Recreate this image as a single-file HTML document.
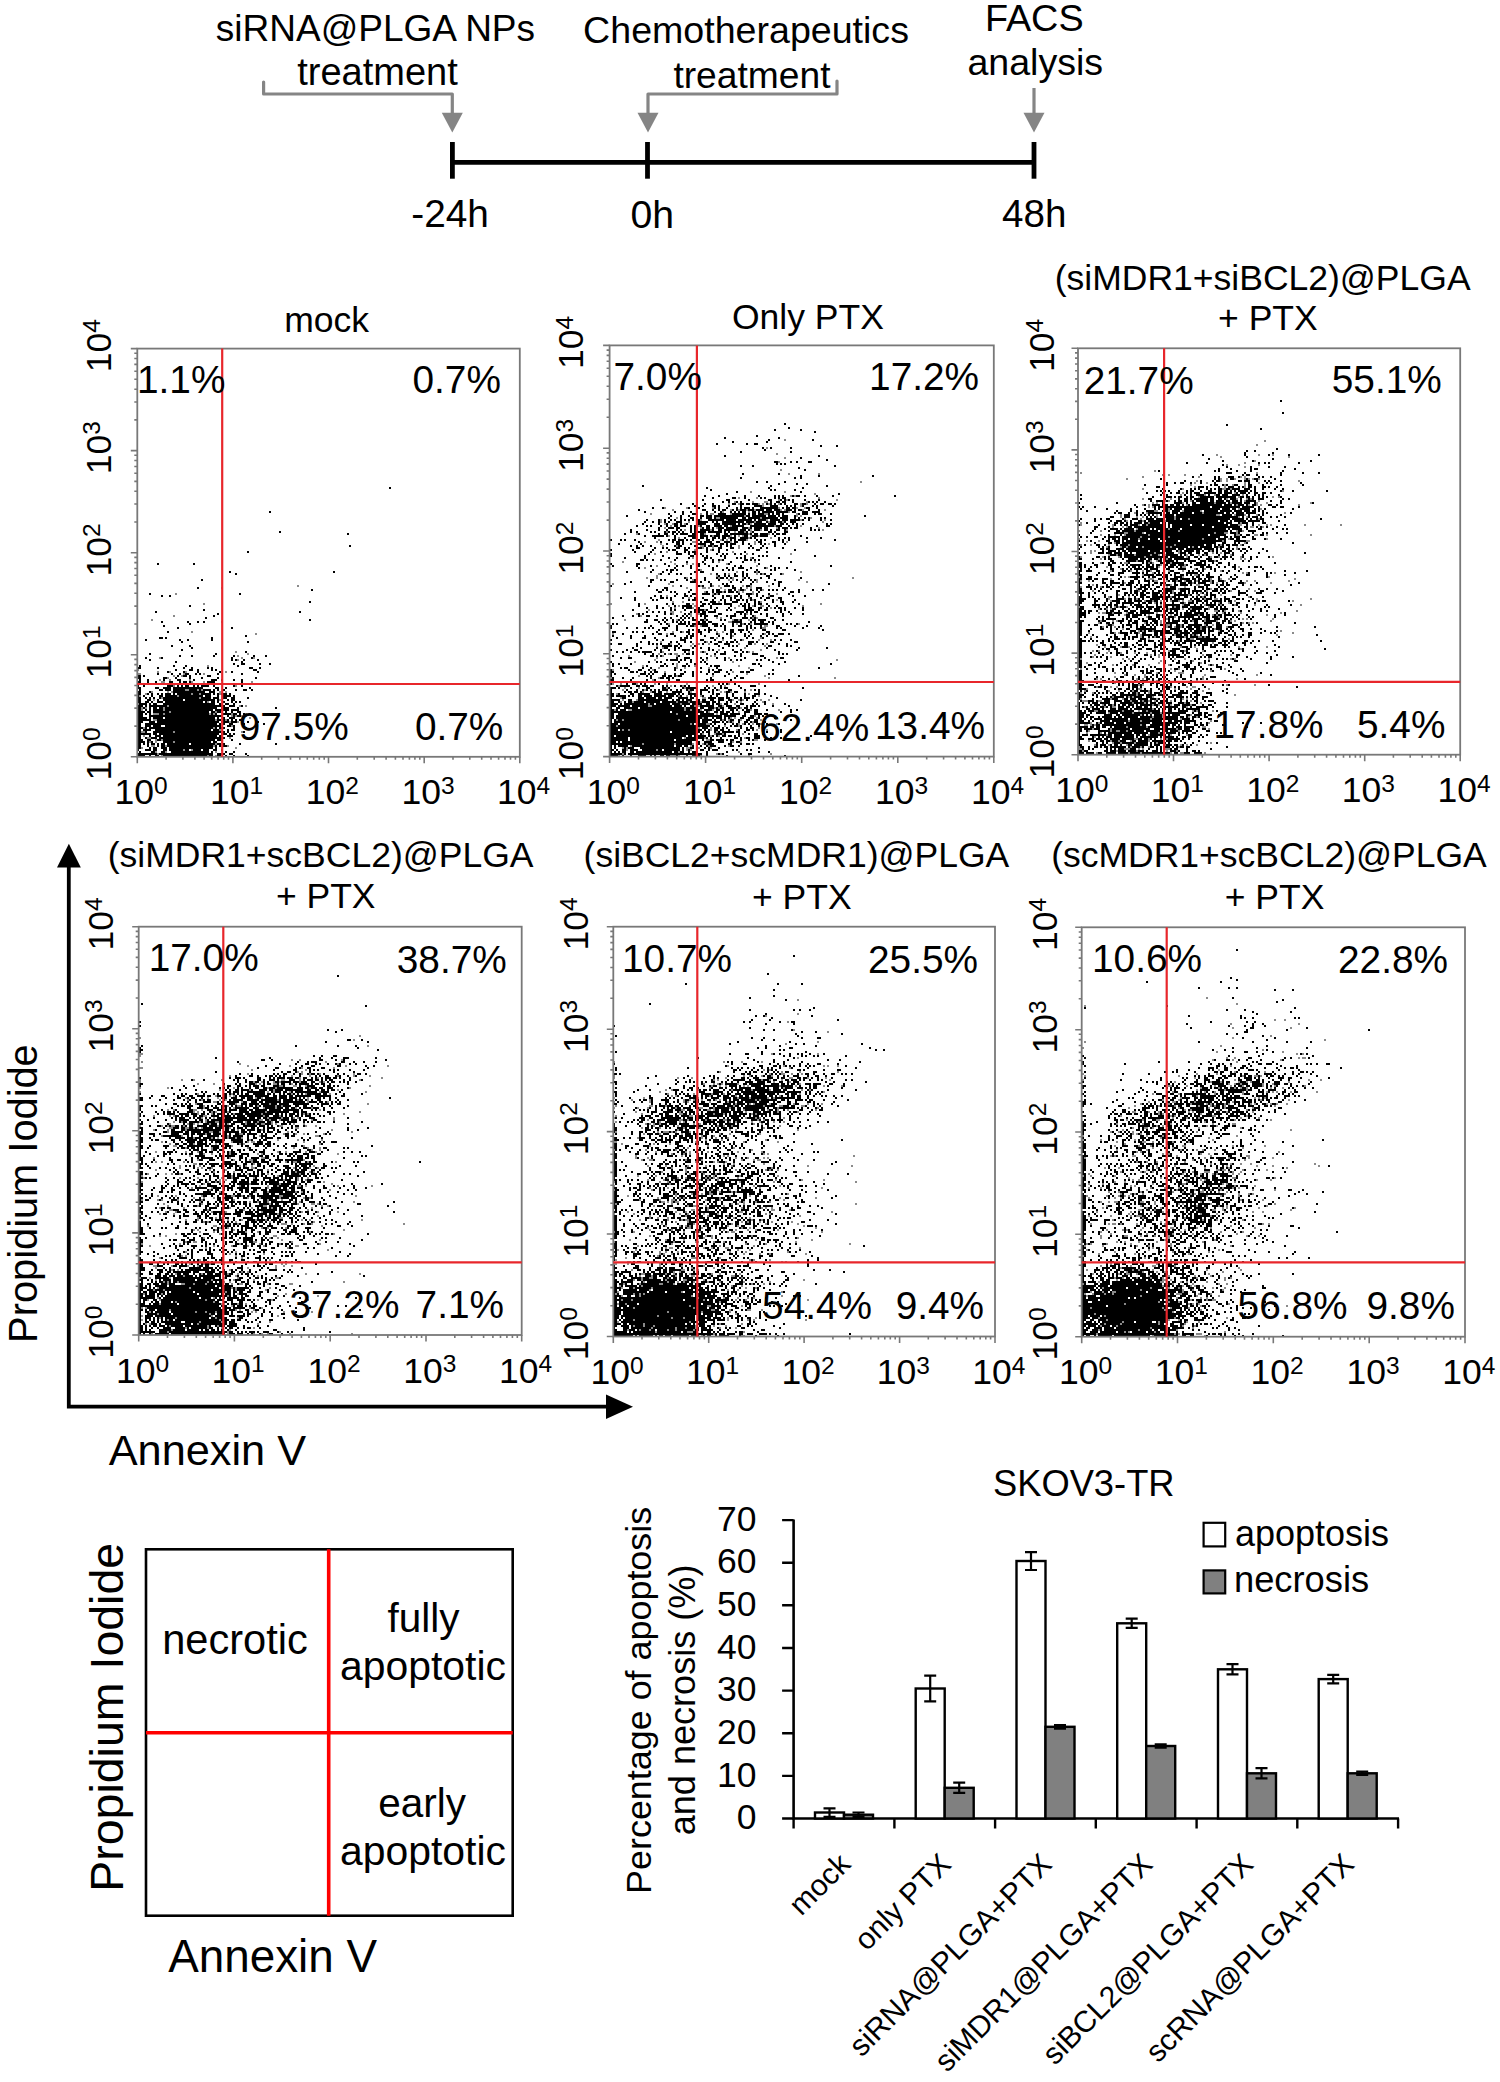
<!DOCTYPE html>
<html><head><meta charset="utf-8"><style>
html,body{margin:0;padding:0;background:#fff;}
svg{display:block;font-family:"Liberation Sans", sans-serif;}
</style></head><body>
<svg width="1500" height="2082" viewBox="0 0 1500 2082">
<text x="215.8" y="40.8" font-size="37" fill="#000">siRNA@PLGA NPs</text>
<text x="297.2" y="85.4" font-size="38" fill="#000">treatment</text>
<text x="583.1" y="43.2" font-size="37.6" fill="#000">Chemotherapeutics</text>
<text x="673.4" y="88.0" font-size="37.2" fill="#000">treatment</text>
<text x="984.9" y="31.0" font-size="37.8" fill="#000">FACS</text>
<text x="967.4" y="74.5" font-size="37.6" fill="#000">analysis</text>
<path d="M263.6 82V94H452.3V114" fill="none" stroke="#858585" stroke-width="3.2" stroke-linecap="round" stroke-linejoin="round"/>
<path d="M837 81V94H648V114" fill="none" stroke="#858585" stroke-width="3.2" stroke-linecap="round" stroke-linejoin="round"/>
<path d="M1034 88V114" fill="none" stroke="#858585" stroke-width="3.2"/>
<path d="M441.8 112.8H462.8L452.3 132.5Z" fill="#858585"/>
<path d="M637.5 112.8H658.5L648 132.5Z" fill="#858585"/>
<path d="M1023.5 112.8H1044.5L1034 132.5Z" fill="#858585"/>
<line x1="452.4" y1="162.4" x2="1034" y2="162.4" stroke="#000" stroke-width="4.6"/>
<line x1="452.4" y1="142" x2="452.4" y2="178.7" stroke="#000" stroke-width="4.8"/>
<line x1="647.5" y1="142" x2="647.5" y2="178.7" stroke="#000" stroke-width="4.8"/>
<line x1="1034" y1="142" x2="1034" y2="178.7" stroke="#000" stroke-width="4.8"/>
<text x="411.3" y="226.8" font-size="38.8" fill="#000">-24h</text>
<text x="630.5" y="227.6" font-size="39.2" fill="#000">0h</text>
<text x="1002.1" y="227.2" font-size="38.6" fill="#000">48h</text>
<g transform="translate(137,350) scale(2)" fill="none" stroke-width="1" shape-rendering="crispEdges"><path stroke="#8a8a8a" d="M80 118h1M42 119h1M19 122h1M33 127h1M18 133h1M7 135h1M42 136h1M27 141h1M59 142h1M49 151h1M55 152h1M50 153h1M11 154h1m40 0h1m5 0h1M50 155h1M35 158h1M0 160h1M10 161h1m5 0h1m7 0h1m19 0h1M0 162h2m21 0h1m9 0h1M18 163h1m3 0h1M15 164h1M11 165h1m4 0h1m9 0h1M12 166h2m13 0h1m5 0h1m23 0h1M18 167h1m7 0h1M18 168h1m30 0h1M24 170h2m4 0h1m1 0h1M7 171h1m7 0h1m1 0h1m23 0h1m2 0h1M4 172h1m22 0h1m3 0h1m9 0h1M1 173h1m18 0h1M12 174h1m18 0h1M8 175h1m32 0h1M35 176h1M0 177h1m41 0h1M15 178h1m35 0h1m2 0h1M2 179h1m1 0h1m8 0h1M2 180h1m10 0h1M16 181h1m22 0h1M8 182h3m2 0h1m22 0h1m1 0h1m8 0h1m6 0h1m1 0h1M47 183h1m1 0h1m2 0h1m1 0h1M56 184h1M8 185h2m29 0h1m4 0h1M46 186h1m3 0h1M47 188h1M3 189h1m34 0h1M41 190h1M2 191h2m14 0h1m23 0h1m9 0h1M3 193h1m49 0h1M5 194h2m39 0h1M9 195h1m2 0h1M6 196h1m2 0h1m8 0h1m23 0h1M39 197h1M7 198h2m5 0h1m23 0h1m6 0h1M2 199h1m46 0h1M23 200h1m3 0h1M9 201h1m4 0h1m24 0h1M10 202h1M12 203h1m22 0h1m3 0h1"/><path stroke="#000" d="M126 69h1M66 81h1M71 91h1M105 92h1M106 98h1M55 101h1M10 107h1m17 0h1M46 111h1m51 0h1M49 112h1M32 115h1M30 119h1M87 120h1M6 122h1m44 0h1M12 123h1m3 0h1M86 126h1M26 128h1M33 130h1M9 131h1m71 0h1M40 132h1M38 133h1M34 134h1M86 135h1M12 136h1m12 0h1m4 0h1m2 0h1M26 137h1M13 138h1M20 139h1m26 0h1M15 141h1M54 143h1M11 144h2m1 0h1m22 0h1M4 145h1m16 0h1m3 0h1m11 0h1M22 146h1m32 0h1M17 148h1m8 0h1M27 149h1M22 150h1M54 151h1M6 152h1m32 0h1M21 153h1m5 0h1m10 0h1m9 0h1m9 0h1m5 0h1M4 154h1m7 0h1m34 0h1m9 0h1M6 155h1m40 0h1m1 0h1m3 0h1m6 0h1M19 156h1m32 0h1M48 157h1m3 0h2m7 0h1m4 0h1M1 158h1m16 0h1m5 0h1m25 0h1M0 159h2m8 0h1m12 0h1m3 0h1m7 0h1m1 0h1m18 0h2m3 0h1M19 160h1m6 0h2m2 0h1m6 0h1m1 0h1m18 0h2M15 161h1m7 0h1m6 0h1m10 0h1m5 0h1m12 0h1M10 162h1m6 0h1m3 0h1m2 0h2m3 0h1m1 0h1m8 0h1m11 0h1M0 163h2m1 0h1m16 0h1m2 0h2m1 0h1m8 0h2M0 164h2m11 0h2m4 0h1m6 0h1m5 0h1m7 0h1m18 0h1M1 165h1m3 0h1m7 0h1m6 0h2m6 0h1m8 0h3m2 0h1m5 0h1m3 0h1M0 166h2m3 0h1m3 0h1m6 0h2m3 0h1m1 0h2m1 0h1m8 0h4m13 0h1M10 167h1m1 0h1m1 0h1m1 0h1m2 0h2m1 0h3m3 0h1m4 0h1m4 0h1m5 0h4m6 0h1M0 168h1m2 0h1m11 0h3m2 0h1m1 0h1m1 0h2m2 0h1m1 0h1m1 0h4m2 0h1m9 0h1m3 0h1M0 169h2m7 0h2m2 0h4m1 0h15m6 0h2m3 0h1m11 0h1M1 170h1m9 0h2m1 0h3m1 0h6m2 0h4m1 0h1m1 0h4m1 0h1m1 0h1m2 0h1m5 0h1m3 0h2m2 0h1M0 171h2m4 0h1m11 0h16m2 0h3M0 172h2m3 0h1m1 0h1m2 0h1m1 0h1m1 0h3m1 0h1m1 0h7m1 0h3m1 0h5m1 0h1m1 0h1m1 0h3m1 0h1M0 173h1m2 0h1m3 0h1m3 0h2m1 0h6m1 0h12m1 0h3m3 0h1m2 0h4m1 0h1M0 174h2m2 0h1m1 0h1m1 0h1m2 0h1m1 0h18m1 0h5m1 0h3m2 0h2m2 0h2m6 0h1M0 175h2m3 0h2m3 0h1m2 0h10m1 0h15m1 0h1m4 0h1m1 0h2M0 176h2m2 0h2m1 0h1m2 0h3m1 0h19m1 0h1m2 0h2m1 0h1m2 0h1m3 0h1m1 0h1m1 0h1M1 177h4m1 0h1m1 0h2m3 0h26m2 0h1m2 0h2m2 0h1M0 178h3m1 0h1m1 0h9m1 0h28m2 0h3m3 0h1M0 179h2m1 0h1m2 0h1m1 0h2m1 0h2m1 0h26m2 0h4m4 0h1m18 0h1M0 180h2m2 0h1m1 0h1m1 0h5m1 0h24m1 0h7m1 0h4M0 181h4m1 0h2m1 0h8m1 0h19m1 0h2m1 0h2m2 0h1m2 0h1m2 0h2M0 182h3m1 0h1m1 0h1m4 0h2m1 0h22m1 0h1m1 0h1m3 0h4m1 0h2m1 0h1m1 0h1M0 183h3m3 0h37m2 0h1m2 0h1m1 0h2M0 184h5m1 0h1m1 0h5m1 0h25m1 0h1m2 0h1m2 0h3M0 185h7m3 0h29m1 0h2m1 0h1m1 0h1m1 0h1m1 0h1m1 0h1M0 186h3m3 0h3m1 0h31m1 0h4m1 0h3m5 0h1m4 0h1M0 187h2m2 0h36m1 0h1m1 0h1m2 0h2m5 0h1m9 0h1M0 188h2m2 0h3m1 0h4m2 0h28m3 0h2m1 0h1M0 189h3m1 0h1m1 0h32m1 0h1m1 0h3m4 0h1m5 0h1M0 190h2m1 0h4m2 0h28m1 0h3m4 0h1m1 0h2M0 191h2m2 0h1m3 0h10m1 0h23m1 0h1m1 0h1m7 0h1M0 192h7m1 0h2m1 0h30m1 0h3m1 0h1m1 0h1M0 193h2m4 0h1m2 0h3m1 0h27m1 0h2m2 0h3M0 194h2m2 0h1m2 0h3m1 0h33M0 195h3m2 0h2m3 0h2m1 0h26m1 0h3m4 0h1M0 196h4m1 0h1m1 0h1m5 0h5m1 0h18m1 0h2M0 197h2m1 0h1m1 0h1m1 0h2m1 0h1m1 0h2m1 0h11m1 0h12m1 0h2m1 0h1m7 0h1m17 0h1M0 198h2m3 0h1m4 0h1m1 0h2m1 0h23m1 0h1m1 0h1m1 0h2M0 199h2m4 0h1m1 0h2m2 0h3m1 0h22m1 0h1M0 200h1m3 0h3m1 0h2m3 0h2m1 0h7m1 0h2m2 0h4m1 0h3m2 0h2m2 0h1M1 201h1m5 0h2m3 0h2m3 0h19m1 0h1m6 0h1m3 0h1M0 202h10m1 0h27m2 0h4m2 0h2m6 0h1M0 203h4m2 0h1m2 0h2m2 0h22m1 0h2m2 0h2m2 0h1m3 0h1m6 0h1"/></g>
<rect x="137.3" y="348.6" width="382.5" height="408.2" fill="none" stroke="#787878" stroke-width="1.8"/>
<path d="M137.3 756.8v6.5M137.3 756.8h-6.5M166.1 756.8v3M137.3 726.1h-3M182.9 756.8v3M137.3 708.1h-3M194.9 756.8v3M137.3 695.4h-3M204.1 756.8v3M137.3 685.5h-3M211.7 756.8v3M137.3 677.4h-3M218.1 756.8v3M137.3 670.6h-3M223.7 756.8v3M137.3 664.6h-3M228.5 756.8v3M137.3 659.4h-3M232.9 756.8v6.5M137.3 654.8h-6.5M261.7 756.8v3M137.3 624.0h-3M278.5 756.8v3M137.3 606.1h-3M290.5 756.8v3M137.3 593.3h-3M299.8 756.8v3M137.3 583.4h-3M307.3 756.8v3M137.3 575.3h-3M313.7 756.8v3M137.3 568.5h-3M319.3 756.8v3M137.3 562.6h-3M324.2 756.8v3M137.3 557.4h-3M328.5 756.8v6.5M137.3 552.7h-6.5M357.3 756.8v3M137.3 522.0h-3M374.2 756.8v3M137.3 504.0h-3M386.1 756.8v3M137.3 491.3h-3M395.4 756.8v3M137.3 481.4h-3M403.0 756.8v3M137.3 473.3h-3M409.4 756.8v3M137.3 466.5h-3M414.9 756.8v3M137.3 460.5h-3M419.8 756.8v3M137.3 455.3h-3M424.2 756.8v6.5M137.3 450.6h-6.5M453.0 756.8v3M137.3 419.9h-3M469.8 756.8v3M137.3 402.0h-3M481.7 756.8v3M137.3 389.2h-3M491.0 756.8v3M137.3 379.3h-3M498.6 756.8v3M137.3 371.2h-3M505.0 756.8v3M137.3 364.4h-3M510.5 756.8v3M137.3 358.5h-3M515.4 756.8v3M137.3 353.3h-3M519.8 756.8v6.5M137.3 348.6h-6.5" stroke="#787878" stroke-width="1.6" fill="none"/>
<line x1="222.2" y1="348.6" x2="222.2" y2="756.8" stroke="#e8262b" stroke-width="2.2"/>
<line x1="137.3" y1="684.0" x2="519.8" y2="684.0" stroke="#e8262b" stroke-width="2.2"/>
<text x="114.5" y="804.3" font-size="35.5">10<tspan font-size="24.5" dy="-10.4">0</tspan></text>
<text transform="translate(110.8,780.5) rotate(-90)" font-size="35.5">10<tspan font-size="24.5" dy="-10.6">0</tspan></text>
<text x="210.1" y="804.3" font-size="35.5">10<tspan font-size="24.5" dy="-10.4">1</tspan></text>
<text transform="translate(110.8,678.4) rotate(-90)" font-size="35.5">10<tspan font-size="24.5" dy="-10.6">1</tspan></text>
<text x="305.8" y="804.3" font-size="35.5">10<tspan font-size="24.5" dy="-10.4">2</tspan></text>
<text transform="translate(110.8,576.4) rotate(-90)" font-size="35.5">10<tspan font-size="24.5" dy="-10.6">2</tspan></text>
<text x="401.4" y="804.3" font-size="35.5">10<tspan font-size="24.5" dy="-10.4">3</tspan></text>
<text transform="translate(110.8,474.3) rotate(-90)" font-size="35.5">10<tspan font-size="24.5" dy="-10.6">3</tspan></text>
<text x="497.0" y="804.3" font-size="35.5">10<tspan font-size="24.5" dy="-10.4">4</tspan></text>
<text transform="translate(110.8,372.3) rotate(-90)" font-size="35.5">10<tspan font-size="24.5" dy="-10.6">4</tspan></text>
<text x="284.3" y="331.6" font-size="35.5" fill="#000">mock</text>
<text x="137.0" y="393.3" font-size="38.8" fill="#000">1.1%</text>
<text x="412.5" y="393.0" font-size="38.8" fill="#000">0.7%</text>
<text x="238.8" y="739.6" font-size="38.8" fill="#000">97.5%</text>
<text x="414.9" y="739.6" font-size="38.8" fill="#000">0.7%</text>
<g transform="translate(610,346) scale(2)" fill="none" stroke-width="1" shape-rendering="crispEdges"><path stroke="#8a8a8a" d="M87 47h1M78 51h1M83 54h1M87 56h1M84 58h1M85 62h1M89 64h1m14 0h1M125 68h1M70 73h1m16 0h1M102 74h1M90 75h1m1 0h1M64 76h1m8 0h1m30 0h1M84 77h1m3 0h1m24 0h1M62 78h1m8 0h1m5 0h2m19 0h1M59 79h1m4 0h1m9 0h1m1 0h1m2 0h1m4 0h1m10 0h1m2 0h1M76 80h1m18 0h1M27 81h1m10 0h1m12 0h1m32 0h1m8 0h1m3 0h1M31 82h1m28 0h1m3 0h1m3 0h1m3 0h1m12 0h1m1 0h1m8 0h1m10 0h1M56 83h1m12 0h1m19 0h1M20 84h1m24 0h1m4 0h2m8 0h1m16 0h2m14 0h1M67 85h1m25 0h1m1 0h1M33 86h1m19 0h2m20 0h1m24 0h1M25 87h1m19 0h1m32 0h1m16 0h1m11 0h1M25 88h1m13 0h1m32 0h1m6 0h1m6 0h1m19 0h1M27 89h1m3 0h1m5 0h1m30 0h1m1 0h1M30 90h1m13 0h1m15 0h1m21 0h1m12 0h1M27 91h1m17 0h1m7 0h1m15 0h1m13 0h1m20 0h1M37 92h1m12 0h1m19 0h1m4 0h1m12 0h1m17 0h1M28 93h1m33 0h1m4 0h1m2 0h1M13 94h1m33 0h1m21 0h1m9 0h1M29 95h1m21 0h1m8 0h1m3 0h1m1 0h1m3 0h1m3 0h1M34 96h1m24 0h1m9 0h1m10 0h1M24 97h1m30 0h1m2 0h1m9 0h1M17 98h1m5 0h1m17 0h2m17 0h1m11 0h1m15 0h1M25 99h1m46 0h1m6 0h1M26 100h1m6 0h1m11 0h2m4 0h1m12 0h1M46 101h1m4 0h1m12 0h1M42 102h1m7 0h1M28 103h1m32 0h1M22 104h1m45 0h1m21 0h1M41 106h1m28 0h1M55 107h1M6 108h1m23 0h1m23 0h1m17 0h1M32 109h1m5 0h1m2 0h1m16 0h1M23 110h1m49 0h1M17 111h1m60 0h1M45 112h1M63 113h1m9 0h1m21 0h1M24 114h1m25 0h1m8 0h1m13 0h1m2 0h1m9 0h1M23 115h1m29 0h1M18 116h1m4 0h1m14 0h1m15 0h1m6 0h1m4 0h1m54 0h1M41 117h1m17 0h1m1 0h1m11 0h1m20 0h1M73 118h1m24 0h1M1 119h1m27 0h1M31 120h1m13 0h1m5 0h1m2 0h1m11 0h1m3 0h1m8 0h1M38 121h1m7 0h2m1 0h1m5 0h1m12 0h1m1 0h1M57 122h1m6 0h1m2 0h1m8 0h1M43 123h1m3 0h1m8 0h1m7 0h1m1 0h1m4 0h1M51 124h1m1 0h1m17 0h1m11 0h1M28 125h1m31 0h1m18 0h1M39 126h1m29 0h1M71 127h1m11 0h1M31 128h1m4 0h1m17 0h1m20 0h1M0 129h1m16 0h1m23 0h1m63 0h1M29 130h1m4 0h1m7 0h2m20 0h1m6 0h1m3 0h2m19 0h1M32 131h1m8 0h1m20 0h1m17 0h1M19 132h1m27 0h1M30 133h2m3 0h1M13 134h1m17 0h1m8 0h1m3 0h1m23 0h1M15 135h1m24 0h1m31 0h1M53 136h1m1 0h1m15 0h1m1 0h1M7 137h1m25 0h1m13 0h1m13 0h1m2 0h1m4 0h1M59 138h2M29 139h1m33 0h1m2 0h1m3 0h1m23 0h1M42 140h1m2 0h1m31 0h2M76 141h2M43 142h1m27 0h1M31 143h1m4 0h1m16 0h1m2 0h1M1 144h1m26 0h1m25 0h1m22 0h1M61 145h1M53 146h1m21 0h1M56 147h1m9 0h1m7 0h1m5 0h1M25 148h1m22 0h1M30 149h1m10 0h1m2 0h1m4 0h1m14 0h1m7 0h1m5 0h1M23 150h1m16 0h1m36 0h1M26 151h1m40 0h1M54 152h1m20 0h1M26 153h1m12 0h1m5 0h1m1 0h1m21 0h1m1 0h1M24 154h1m4 0h1m2 0h2m2 0h1M9 155h1m16 0h1m6 0h1m16 0h1m1 0h1M23 156h1m35 0h1m23 0h1M22 157h1m25 0h1m64 0h1M12 158h1m48 0h1M33 159h1M16 160h1m16 0h1m8 0h1m21 0h1M24 161h1m8 0h1m3 0h1m11 0h1m19 0h1M1 162h1m19 0h1M27 163h1m33 0h1M68 164h1M14 165h1m18 0h1m17 0h1m25 0h1M0 166h1m23 0h1m54 0h1m32 0h1M21 167h1M29 168h1m72 0h1m17 0h1M1 169h1m3 0h1m7 0h1m8 0h1m5 0h1m9 0h1m20 0h1m14 0h1M4 170h1m25 0h1m5 0h1m14 0h1m5 0h1M7 171h1m6 0h1m13 0h1m8 0h1M6 172h1m10 0h1m21 0h1m14 0h1m15 0h1M16 173h1m3 0h1m7 0h1m11 0h1m2 0h1m11 0h1m1 0h1m2 0h1m6 0h1M3 174h1m65 0h1M34 175h1m3 0h1m6 0h1m28 0h1M5 176h1m40 0h2M6 177h1m6 0h1m47 0h1m2 0h1m1 0h1m8 0h1m3 0h1M5 178h1m5 0h1m21 0h1m5 0h1m5 0h1m19 0h1m10 0h1M19 179h1m15 0h1m19 0h1m6 0h1m18 0h1M19 180h2m21 0h1m1 0h1m11 0h1M37 181h1m14 0h1m1 0h1m8 0h1m1 0h1M2 182h1m6 0h2m26 0h1m2 0h1m4 0h1m5 0h1m18 0h1m13 0h1M49 183h1m14 0h1M33 184h1m19 0h1M72 185h1M46 186h1m13 0h1m1 0h1m10 0h1M3 187h1m2 0h1m27 0h1m21 0h1m2 0h1m5 0h1m9 0h1M43 188h1m15 0h1m1 0h1m9 0h1M40 189h1m7 0h2m14 0h1m1 0h1m4 0h1m3 0h1m7 0h1M3 190h1m53 0h1m6 0h1M44 191h1m5 0h1m23 0h1M6 192h1m2 0h1m40 0h1m12 0h1m9 0h1m4 0h1M53 193h1M46 194h1m5 0h1m3 0h1m9 0h1M50 195h1m3 0h1M37 196h1m9 0h1m19 0h1M48 197h2m22 0h2M61 198h1m3 0h1M16 199h1m15 0h1m8 0h1m4 0h1m1 0h1M10 200h1m29 0h1m8 0h1m9 0h1M6 201h1m1 0h1m29 0h2m4 0h1m5 0h1M8 202h1m14 0h1m14 0h1m1 0h1M34 203h1m29 0h1M6 204h1m46 0h1m1 0h1m24 0h1M4 205h1m25 0h3m1 0h1m10 0h1m23 0h1"/><path stroke="#000" d="M87 39h1M89 41h1M82 42h1m12 0h1M102 43h1M73 45h1M57 46h1m26 0h1M79 47h1m21 0h1M61 48h1m16 0h1M53 49h1m14 0h1m3 0h2M105 50h1m7 0h1M76 51h1m3 0h1m9 0h1M77 52h1M65 53h1m24 0h1M57 55h1m46 0h1M95 56h1M108 57h1M82 58h2m6 0h1m2 0h1m5 0h2M83 59h1m1 0h1m1 0h1M65 60h1m5 0h1m40 0h1M94 61h1M97 62h1M66 64h1m17 0h1M95 65h1m8 0h1m26 0h1M65 66h1m26 0h1m2 0h1M73 68h1m4 0h1m8 0h1M84 69h1m8 0h1m4 0h1M16 70h1m63 0h1m27 0h1M48 71h1m30 0h1m16 0h1M50 72h1m29 0h1m1 0h1m9 0h1M63 73h1m31 0h1M58 74h1m55 0h1M47 75h1m6 0h1m12 0h1m6 0h1m7 0h1m1 0h1m1 0h1m4 0h1m1 0h2m2 0h1m5 0h1m7 0h1m30 0h1M51 76h1m9 0h2m4 0h1m7 0h1m1 0h1m4 0h1m1 0h1m1 0h2M25 77h1m20 0h1m11 0h2m9 0h1m9 0h2m4 0h1m1 0h1m1 0h1m1 0h1m5 0h1m6 0h1M56 78h1m2 0h1m3 0h1m1 0h1m14 0h1m2 0h2m1 0h2m3 0h1m7 0h1m1 0h1m1 0h1m3 0h1M35 79h1m5 0h1m1 0h1m3 0h1m3 0h1m9 0h2m2 0h2m1 0h2m1 0h3m4 0h1m1 0h1m1 0h1m2 0h1m1 0h1m4 0h2m2 0h2m4 0h1m2 0h2m2 0h2m1 0h1M42 80h2m2 0h1m4 0h2m1 0h1m4 0h1m5 0h1m6 0h4m4 0h4m4 0h1m1 0h1m1 0h1m3 0h1m4 0h1m1 0h1m7 0h1M21 81h1m4 0h1m12 0h1m4 0h1m7 0h1m1 0h1m3 0h1m4 0h1m1 0h1m1 0h3m1 0h1m3 0h9m2 0h1m1 0h2m1 0h2m5 0h2m3 0h1M14 82h1m31 0h2m3 0h1m2 0h1m1 0h2m3 0h1m1 0h1m1 0h3m1 0h3m1 0h4m1 0h3m1 0h3m3 0h3m1 0h1m1 0h2m3 0h1m4 0h1M17 83h1m14 0h1m3 0h1m3 0h1m7 0h1m3 0h1m2 0h1m4 0h1m1 0h1m1 0h1m1 0h2m3 0h2m1 0h1m1 0h6m1 0h6m2 0h2m3 0h3m2 0h4M29 84h1m6 0h1m4 0h3m4 0h1m5 0h4m3 0h7m1 0h1m1 0h2m1 0h3m2 0h1m1 0h1m1 0h2m1 0h1m7 0h1m1 0h3m3 0h1m1 0h2m4 0h1M8 85h1m21 0h1m4 0h1m3 0h1m3 0h1m1 0h2m1 0h3m1 0h15m1 0h2m1 0h7m1 0h4m1 0h1m1 0h3m3 0h1m34 0h1M29 86h1m5 0h1m4 0h2m3 0h1m2 0h3m1 0h1m2 0h9m2 0h2m1 0h6m1 0h8m1 0h4m3 0h1m1 0h1m2 0h1m1 0h1m5 0h1m1 0h1M18 87h1m5 0h1m2 0h1m2 0h1m1 0h1m2 0h1m1 0h1m1 0h1m1 0h1m2 0h1m4 0h8m1 0h5m1 0h7m1 0h1m1 0h4m2 0h5m1 0h3m1 0h5m1 0h1m2 0h1m5 0h1m4 0h1M17 88h1m3 0h1m2 0h1m2 0h1m1 0h1m3 0h3m7 0h6m2 0h1m1 0h1m2 0h11m1 0h4m1 0h3m2 0h1m1 0h3m1 0h2m1 0h1m2 0h3M16 89h1m7 0h1m3 0h1m3 0h2m1 0h1m2 0h1m4 0h5m4 0h3m1 0h7m1 0h1m1 0h2m1 0h1m2 0h6m1 0h4m2 0h2m1 0h1m2 0h1m1 0h1m2 0h1m11 0h1m1 0h1M13 90h1m4 0h1m1 0h1m4 0h1m2 0h1m3 0h2m1 0h3m2 0h1m1 0h1m2 0h1m2 0h2m2 0h4m1 0h2m2 0h6m3 0h12m1 0h3m3 0h1m3 0h1m9 0h1m4 0h2M24 91h1m4 0h3m1 0h2m5 0h1m1 0h2m2 0h1m1 0h2m1 0h1m2 0h3m1 0h6m2 0h3m1 0h1m1 0h4m1 0h2m5 0h1m1 0h3m1 0h1m1 0h2m6 0h1M10 92h1m7 0h1m5 0h1m3 0h1m4 0h1m1 0h1m4 0h1m1 0h1m2 0h5m1 0h1m2 0h2m1 0h7m1 0h3m1 0h1m2 0h3m2 0h2m1 0h1m2 0h2m2 0h1m12 0h1m1 0h1m1 0h1M10 93h1m2 0h1m6 0h1m1 0h1m4 0h1m1 0h1m1 0h2m1 0h1m1 0h1m3 0h1m1 0h1m1 0h4m1 0h7m1 0h1m1 0h1m4 0h3m1 0h1m2 0h1m7 0h2m1 0h1m4 0h2M7 94h1m6 0h1m9 0h1m2 0h2m2 0h1m1 0h1m1 0h4m2 0h2m2 0h2m6 0h2m2 0h2m1 0h9m1 0h1m1 0h2m1 0h4m2 0h1m1 0h2m1 0h2M17 95h1m3 0h6m1 0h1m3 0h1m6 0h4m2 0h4m1 0h1m1 0h3m1 0h4m2 0h1m4 0h2m2 0h3m1 0h4m3 0h1m12 0h1M22 96h1m9 0h1m4 0h1m3 0h3m1 0h2m1 0h1m2 0h2m1 0h1m1 0h2m2 0h3m2 0h4m1 0h1m1 0h1m11 0h1m2 0h1m1 0h1m8 0h1m6 0h1M0 97h1m4 0h1m1 0h1m4 0h1m16 0h1m1 0h2m1 0h3m1 0h1m1 0h1m2 0h2m3 0h2m1 0h1m4 0h1m3 0h1m1 0h1m1 0h4m5 0h1m1 0h1m1 0h1m6 0h1m1 0h1m2 0h1m22 0h1M14 98h1m10 0h1m5 0h1m1 0h2m1 0h1m6 0h1m1 0h1m1 0h4m2 0h2m2 0h3m2 0h2m2 0h1m7 0h2m5 0h2m3 0h1m11 0h1M4 99h1m10 0h1m12 0h1m4 0h2m1 0h1m3 0h1m3 0h4m2 0h2m3 0h2m1 0h1m1 0h3m3 0h1m2 0h1m5 0h1m1 0h1m4 0h1m4 0h1M10 100h1m2 0h1m2 0h1m3 0h1m11 0h1m1 0h2m6 0h2m3 0h1m1 0h2m1 0h2m1 0h1m2 0h1m1 0h1m9 0h1m5 0h1m5 0h1M13 101h2m7 0h1m3 0h1m1 0h1m4 0h2m2 0h1m1 0h1m4 0h2m2 0h1m5 0h2m4 0h2m7 0h1m1 0h1m3 0h1m2 0h1m7 0h1M0 102h1m10 0h1m9 0h1m7 0h1m1 0h2m4 0h2m9 0h1m2 0h1m2 0h1m3 0h1m14 0h2m17 0h1M12 103h1m7 0h1m4 0h1m7 0h1m3 0h1m1 0h1m1 0h3m4 0h1m5 0h1m12 0h1m10 0h1M0 104h1m18 0h1m13 0h3m3 0h1m2 0h1m2 0h1m7 0h1m2 0h1m1 0h1m3 0h1m2 0h1m5 0h1M0 105h1m16 0h1m8 0h1m13 0h2m1 0h1m2 0h1m1 0h1m6 0h1m1 0h1m9 0h1m6 0h1m1 0h1m1 0h1m23 0h1M7 106h1m9 0h1m11 0h1m3 0h1m5 0h1m7 0h2m1 0h1m6 0h1m5 0h1m1 0h1m1 0h1m3 0h1m12 0h1M15 107h2m1 0h1m2 0h1m3 0h1m6 0h1m10 0h1m3 0h1m3 0h1m2 0h1m1 0h1m10 0h2m1 0h1m1 0h1m1 0h1M38 108h1m7 0h1m4 0h1m8 0h1m5 0h1m23 0h1M0 109h1m12 0h2m12 0h1m16 0h1m2 0h1m11 0h1m14 0h1M1 110h1m11 0h1m6 0h1m8 0h1m3 0h1m2 0h1m3 0h1m3 0h1m4 0h1m3 0h1m8 0h1m2 0h1m14 0h1m29 0h1M14 111h1m17 0h1m7 0h1m10 0h1m6 0h1m2 0h1m2 0h3m3 0h1m6 0h1m4 0h1m1 0h1m3 0h1M21 112h1m6 0h1m1 0h2m1 0h1m10 0h1m6 0h1m4 0h1m2 0h1m1 0h1m6 0h1m4 0h1m6 0h1m1 0h1m9 0h1M8 113h1m11 0h1m5 0h1m3 0h1m11 0h2m1 0h2m19 0h1m5 0h1m1 0h1M25 114h1m3 0h1m3 0h1m1 0h1m4 0h1m12 0h1m3 0h1m4 0h1m3 0h1m1 0h1m6 0h1m1 0h1m2 0h1m4 0h1M54 115h1m2 0h1m1 0h1m2 0h2m2 0h1m1 0h1m9 0h2M37 116h1m2 0h1m6 0h1m5 0h1m1 0h2m1 0h1m1 0h1m6 0h1m1 0h1m5 0h1m3 0h1m15 0h1M20 117h2m3 0h1m1 0h1m5 0h1m4 0h1m3 0h1m4 0h1m6 0h1m8 0h1m2 0h1m3 0h1m1 0h1m9 0h1M10 118h1m9 0h1m9 0h2m8 0h3m2 0h1m3 0h1m10 0h1m4 0h1m5 0h1m6 0h1m5 0h2M7 119h1m42 0h1m5 0h1m1 0h1m11 0h1m10 0h1m2 0h1m24 0h1M0 120h1m18 0h1m15 0h1m7 0h2m1 0h1m3 0h1m6 0h3m1 0h1m6 0h2m14 0h1M27 121h2m32 0h2m2 0h1m7 0h3m11 0h1M23 122h1m2 0h1m1 0h1m11 0h1m2 0h1m7 0h1m1 0h2m4 0h2m1 0h1m2 0h2m3 0h1m2 0h1m1 0h1m3 0h1m1 0h1m1 0h1m2 0h1m7 0h1m6 0h1m4 0h1M12 123h1m11 0h2m4 0h1m1 0h1m6 0h1m8 0h1m2 0h1m1 0h3m1 0h1m1 0h3m1 0h1m10 0h1m15 0h2m2 0h1M33 124h1m3 0h1m3 0h2m3 0h4m2 0h1m1 0h1m9 0h1m3 0h3m2 0h1m5 0h1m9 0h1M22 125h1m2 0h1m6 0h1m4 0h2m1 0h1m10 0h1m4 0h1m1 0h2m2 0h2m1 0h1m3 0h1m3 0h1m2 0h1m3 0h2m9 0h1m5 0h1M5 126h1m6 0h1m7 0h1m4 0h2m1 0h1m1 0h1m5 0h1m5 0h1m3 0h1m5 0h1m3 0h1m3 0h1m1 0h1m2 0h1m4 0h1m4 0h1m2 0h2m4 0h2M12 127h1m8 0h1m1 0h1m6 0h1m8 0h1m1 0h2m4 0h2m2 0h1m3 0h1m1 0h1m2 0h1m2 0h2m1 0h1m1 0h1m1 0h1m1 0h1m4 0h1m3 0h1m3 0h1m6 0h1M45 128h1m4 0h3m4 0h1m3 0h3m4 0h1m3 0h1m1 0h1m6 0h1m3 0h2m4 0h1M14 129h1m13 0h1m2 0h1m6 0h2m3 0h1m2 0h2m1 0h1m1 0h5m1 0h4m4 0h1m1 0h1m1 0h1m2 0h1m1 0h2m2 0h1m7 0h1m7 0h1M14 130h1m8 0h1m8 0h1m3 0h5m4 0h2m3 0h1m9 0h1m5 0h2m1 0h1m2 0h1m6 0h1m3 0h1M18 131h1m4 0h1m2 0h1m3 0h1m5 0h1m1 0h3m2 0h2m5 0h1m2 0h1m5 0h1m7 0h1m1 0h2m3 0h2m2 0h1m3 0h1m1 0h2m1 0h1m4 0h1m3 0h1M11 132h1m18 0h1m1 0h1m4 0h1m4 0h1m1 0h3m1 0h1m3 0h1m5 0h1m1 0h1m6 0h5m2 0h1m2 0h2m6 0h1m1 0h1m8 0h1M18 133h1m2 0h1m2 0h1m2 0h1m12 0h1m1 0h1m1 0h1m1 0h2m1 0h4m10 0h4m1 0h1m1 0h1m1 0h2m9 0h1m1 0h1m3 0h1M14 134h1m1 0h1m10 0h1m2 0h1m6 0h1m1 0h1m5 0h3m6 0h2m6 0h1m2 0h1m1 0h1m2 0h1m4 0h1m2 0h1m7 0h1m3 0h1m5 0h1M6 135h1m4 0h1m2 0h1m3 0h2m3 0h1m9 0h1m2 0h1m1 0h1m6 0h1m1 0h2m3 0h2m4 0h1m1 0h3m4 0h1m3 0h1m6 0h1m7 0h1M1 136h1m25 0h1m2 0h1m4 0h1m1 0h1m1 0h1m1 0h1m1 0h1m3 0h1m12 0h1m5 0h3m1 0h1m1 0h1m7 0h2M18 137h1m3 0h2m2 0h1m1 0h1m2 0h1m2 0h1m1 0h1m4 0h2m2 0h2m1 0h1m6 0h1m1 0h1m4 0h2m1 0h1m5 0h2m1 0h4m4 0h1m3 0h1M17 138h2m5 0h1m2 0h1m3 0h1m1 0h1m1 0h1m1 0h1m1 0h1m4 0h1m1 0h2m1 0h2m10 0h5m4 0h1m1 0h1m2 0h2m2 0h1m1 0h1m17 0h1M1 139h1m1 0h1m21 0h1m2 0h1m5 0h4m1 0h1m1 0h2m1 0h5m2 0h3m2 0h1m4 0h1m3 0h1m1 0h1m1 0h1m2 0h7m2 0h1m6 0h1m1 0h1m2 0h1M0 140h1m19 0h1m8 0h1m3 0h1m4 0h1m1 0h2m4 0h3m3 0h2m1 0h1m1 0h1m3 0h1m2 0h2m2 0h1m1 0h1m4 0h1m7 0h2m7 0h1m5 0h1m6 0h1M0 141h1m7 0h1m4 0h1m3 0h1m1 0h1m1 0h1m4 0h3m4 0h1m15 0h1m7 0h1m10 0h1m1 0h1m1 0h1m2 0h1m7 0h1m1 0h1m10 0h1m7 0h1M24 142h1m2 0h1m5 0h1m5 0h1m1 0h1m2 0h1m2 0h1m1 0h2m1 0h1m4 0h1m2 0h2m2 0h3m1 0h1m7 0h2m8 0h2m18 0h1M1 143h2m8 0h1m1 0h1m2 0h1m6 0h1m11 0h1m2 0h2m4 0h2m3 0h1m10 0h2m3 0h1m3 0h1m8 0h2M6 144h1m14 0h1m2 0h2m4 0h2m7 0h1m1 0h1m3 0h1m7 0h1m4 0h1m1 0h1m1 0h1m4 0h1m2 0h1m5 0h1m2 0h1m1 0h1m2 0h3m2 0h1M1 145h1m8 0h1m6 0h1m10 0h1m3 0h1m5 0h1m1 0h2m1 0h1m3 0h1m6 0h1m5 0h1m6 0h1m1 0h1m5 0h1m2 0h1m3 0h2M3 146h1m6 0h1m5 0h2m4 0h1m12 0h1m1 0h2m1 0h1m9 0h2m4 0h1m3 0h1m7 0h1m2 0h1m4 0h1M0 147h1m22 0h1m2 0h1m8 0h3m7 0h2m5 0h1m9 0h1m2 0h1m16 0h1m2 0h1m4 0h1M15 148h1m3 0h1m10 0h1m2 0h1m3 0h1m2 0h1m2 0h1m3 0h1m2 0h1m3 0h2m2 0h1m1 0h2m1 0h1m5 0h3m1 0h1m6 0h2m10 0h2M0 149h1m3 0h2m7 0h1m5 0h1m1 0h1m1 0h1m1 0h1m3 0h1m4 0h1m11 0h1m5 0h2m3 0h3m9 0h2m5 0h1m7 0h1m3 0h1M13 150h1m12 0h5m1 0h2m1 0h1m6 0h1m11 0h1m4 0h1m1 0h1m1 0h1m4 0h1m10 0h2m7 0h1m1 0h1M11 151h1m3 0h1m7 0h1m3 0h2m3 0h1m1 0h1m6 0h1m3 0h1m3 0h1m6 0h1m21 0h1m15 0h1m13 0h1M0 152h1m7 0h1m3 0h2m8 0h1m2 0h1m3 0h1m2 0h1m3 0h4m9 0h1m1 0h1m9 0h1m3 0h1m16 0h1m10 0h1M3 153h1m2 0h1m3 0h1m3 0h1m1 0h5m4 0h1m11 0h1m3 0h1m4 0h1m6 0h1m3 0h1m4 0h2m2 0h1m1 0h1m15 0h1M17 154h1m3 0h1m5 0h1m2 0h1m7 0h2m1 0h1m6 0h1m3 0h1m2 0h3m7 0h1m5 0h3m10 0h1m1 0h1m1 0h1M1 155h1m18 0h2m1 0h1m1 0h1m8 0h1m27 0h1m2 0h1m9 0h2M5 156h1m3 0h2m22 0h1m3 0h3m3 0h1m1 0h1m2 0h1m4 0h1m3 0h1m9 0h1m9 0h1m7 0h2M28 157h1m1 0h4m1 0h1m1 0h1m2 0h1m5 0h1m10 0h1m2 0h1m2 0h1m1 0h1m7 0h1m1 0h1m3 0h1M0 158h1m18 0h1m3 0h1m1 0h1m8 0h1m5 0h1m4 0h1m1 0h1m33 0h1m5 0h1M1 159h1m2 0h1m5 0h1m16 0h1m3 0h1m6 0h1m3 0h1m5 0h1m22 0h2m1 0h1m9 0h1m25 0h1M1 160h1m16 0h1m6 0h2m1 0h1m7 0h2m1 0h1m10 0h1m1 0h3m20 0h1M5 161h1m1 0h2m7 0h1m3 0h1m11 0h1m12 0h1m7 0h1m50 0h1M0 162h1m8 0h1m4 0h2m3 0h1m2 0h1m9 0h1m2 0h1m13 0h1m1 0h1m2 0h2m4 0h1m9 0h2m9 0h1M0 163h2m8 0h2m1 0h1m3 0h1m2 0h1m1 0h2m13 0h1m3 0h1m3 0h1m3 0h1m2 0h3m3 0h1m6 0h2m1 0h2M0 164h1m1 0h1m12 0h3m1 0h1m1 0h1m5 0h1m4 0h1m2 0h2m4 0h1m6 0h1m2 0h1m7 0h1m19 0h1m1 0h1M0 165h1m17 0h1m1 0h1m5 0h2m1 0h2m1 0h1m1 0h2m5 0h1m15 0h1m5 0h1m30 0h1M1 166h1m4 0h1m4 0h1m8 0h1m4 0h2m1 0h2m1 0h1m18 0h1m11 0h1m2 0h2M0 167h2m8 0h1m7 0h1m3 0h1m6 0h1m3 0h2m13 0h1m1 0h2m8 0h1m28 0h1M0 168h2m7 0h2m7 0h1m5 0h1m1 0h1m3 0h1m3 0h2m6 0h2m1 0h1m1 0h1m1 0h1m1 0h1m5 0h1m3 0h2M0 169h1m7 0h1m2 0h2m2 0h1m1 0h1m6 0h1m29 0h1m1 0h1m1 0h1m3 0h1M3 170h1m1 0h5m3 0h2m1 0h3m1 0h2m4 0h1m1 0h1m3 0h1m2 0h1m1 0h1m1 0h1m8 0h1m6 0h1m8 0h1m5 0h3m4 0h1M0 171h3m1 0h1m5 0h1m7 0h2m6 0h2m1 0h1m6 0h1m1 0h5m4 0h1m1 0h1m2 0h1m2 0h1m1 0h2m6 0h1m30 0h1M0 172h1m7 0h1m4 0h1m2 0h1m1 0h1m1 0h1m1 0h1m1 0h1m1 0h3m1 0h1m2 0h1m1 0h1m2 0h1m1 0h2m3 0h4m2 0h1m1 0h1m5 0h2m6 0h1m4 0h1m1 0h1M0 173h1m6 0h1m1 0h2m1 0h2m1 0h1m5 0h2m1 0h2m5 0h5m3 0h1m5 0h1m3 0h1m1 0h1m6 0h2m2 0h2m10 0h1M0 174h2m2 0h1m5 0h2m2 0h6m2 0h4m1 0h6m1 0h1m1 0h1m2 0h4m2 0h1m5 0h1m1 0h2m3 0h1m2 0h1m5 0h1m4 0h3m2 0h1M0 175h2m1 0h5m1 0h1m1 0h1m2 0h2m1 0h4m1 0h6m1 0h3m1 0h1m1 0h1m4 0h1m1 0h2m2 0h1m3 0h1m2 0h1m4 0h1m2 0h1m5 0h1m3 0h2m7 0h1M0 176h1m5 0h2m6 0h3m1 0h5m1 0h2m1 0h4m3 0h5m1 0h2m1 0h1m5 0h4m1 0h3m1 0h2m2 0h2m1 0h1m1 0h3m1 0h1m11 0h1M0 177h5m4 0h2m3 0h15m2 0h1m1 0h2m1 0h1m1 0h3m2 0h2m1 0h2m2 0h2m2 0h3m2 0h2m4 0h1m2 0h1m4 0h1m21 0h1M0 178h2m2 0h1m2 0h1m1 0h2m1 0h5m1 0h7m1 0h7m1 0h5m1 0h5m1 0h4m1 0h2m1 0h1m3 0h1m1 0h1m2 0h1m8 0h1m4 0h1M0 179h4m1 0h1m1 0h12m1 0h2m1 0h7m1 0h4m1 0h4m1 0h5m2 0h2m1 0h1m1 0h2m2 0h2m6 0h2m4 0h1m1 0h1m3 0h1m9 0h1M0 180h3m1 0h6m1 0h8m2 0h10m1 0h4m1 0h1m2 0h2m1 0h1m1 0h7m2 0h2m2 0h3m2 0h2m3 0h1m1 0h3m1 0h1m6 0h1m7 0h1M0 181h1m2 0h2m2 0h7m1 0h22m1 0h6m1 0h2m2 0h3m1 0h1m1 0h2m2 0h4m1 0h1m2 0h2m1 0h1M0 182h2m1 0h1m1 0h3m3 0h26m1 0h2m1 0h4m2 0h4m2 0h2m1 0h1m3 0h2m1 0h1m2 0h1m1 0h2m2 0h2m4 0h1m11 0h1m2 0h1M0 183h30m1 0h16m1 0h1m3 0h2m1 0h2m1 0h2m1 0h1m5 0h3m2 0h2m11 0h1m4 0h1M0 184h2m2 0h29m1 0h10m1 0h7m3 0h4m1 0h5m2 0h1m4 0h4m1 0h2M0 185h2m1 0h35m1 0h17m1 0h6m3 0h2m2 0h2m2 0h1m1 0h1M0 186h2m1 0h43m1 0h2m2 0h1m1 0h3m1 0h1m1 0h1m5 0h2m2 0h3m2 0h1m7 0h2M0 187h1m1 0h1m1 0h2m1 0h27m1 0h10m1 0h5m1 0h1m2 0h1m1 0h1m2 0h2m2 0h1m3 0h2m2 0h2m13 0h1m2 0h1M0 188h1m1 0h41m1 0h1m1 0h3m2 0h4m1 0h1m1 0h1m1 0h1m3 0h1m2 0h2m1 0h1m1 0h2m3 0h1M0 189h4m1 0h35m1 0h1m1 0h5m2 0h1m1 0h1m4 0h1m3 0h1m1 0h1m3 0h1m1 0h1m3 0h2m3 0h1m5 0h1M0 190h3m1 0h46m1 0h1m2 0h1m5 0h1m1 0h2m1 0h1m4 0h1m3 0h1M0 191h44m2 0h3m3 0h3m1 0h1m1 0h1m6 0h1m2 0h1m1 0h2M0 192h4m1 0h1m1 0h2m1 0h36m1 0h1m1 0h1m2 0h2m1 0h2m2 0h1m4 0h1m3 0h2m1 0h1m13 0h1M0 193h30m1 0h14m1 0h1m1 0h2m2 0h1m1 0h1m1 0h6m1 0h2m2 0h1m10 0h1m4 0h1m1 0h1M0 194h44m1 0h1m3 0h1m3 0h3m1 0h1m6 0h1m4 0h1m2 0h2m2 0h1M0 195h2m1 0h35m1 0h2m1 0h6m1 0h1m1 0h1m1 0h1m2 0h2m1 0h2m1 0h1m1 0h1m7 0h3m25 0h1M0 196h9m1 0h26m2 0h9m1 0h1m1 0h1m4 0h1m6 0h2m1 0h1m2 0h2m2 0h3m5 0h1m4 0h1M0 197h9m1 0h22m1 0h10m3 0h1m3 0h2m1 0h4m1 0h1m1 0h2m3 0h1m3 0h1m1 0h1m5 0h1M0 198h3m1 0h1m1 0h35m2 0h2m2 0h4m3 0h3m3 0h1m2 0h2M0 199h16m1 0h15m1 0h8m2 0h2m2 0h1m1 0h3m7 0h2m4 0h1m2 0h2m1 0h1M0 200h1m1 0h1m1 0h5m2 0h21m1 0h3m1 0h2m2 0h1m1 0h1m1 0h1m2 0h1m1 0h3m4 0h1m2 0h2m2 0h1M0 201h1m1 0h1m4 0h1m1 0h3m3 0h20m1 0h1m3 0h2m5 0h1m1 0h1m4 0h1m19 0h1M0 202h2m1 0h1m2 0h2m2 0h4m2 0h7m1 0h2m1 0h8m1 0h1m2 0h1m5 0h2m2 0h1m1 0h3m7 0h1m1 0h1m4 0h1m1 0h1M0 203h1m1 0h1m1 0h1m1 0h2m2 0h2m1 0h18m1 0h2m1 0h2m2 0h1m1 0h2m5 0h1m9 0h1m15 0h1m4 0h1M0 204h6m1 0h1m1 0h37m2 0h1m5 0h1m1 0h1m8 0h1m3 0h2M0 205h4m2 0h1m3 0h1m3 0h4m2 0h1m1 0h1m2 0h2m1 0h2m3 0h1m4 0h1m2 0h2m1 0h1m3 0h1m9 0h1m28 0h1"/></g>
<rect x="609.6" y="345.4" width="384.2" height="411.2" fill="none" stroke="#787878" stroke-width="1.8"/>
<path d="M609.6 756.6v6.5M609.6 756.6h-6.5M638.5 756.6v3M609.6 725.7h-3M655.4 756.6v3M609.6 707.6h-3M667.4 756.6v3M609.6 694.7h-3M676.7 756.6v3M609.6 684.7h-3M684.3 756.6v3M609.6 676.6h-3M690.8 756.6v3M609.6 669.7h-3M696.3 756.6v3M609.6 663.8h-3M701.3 756.6v3M609.6 658.5h-3M705.6 756.6v6.5M609.6 653.8h-6.5M734.6 756.6v3M609.6 622.9h-3M751.5 756.6v3M609.6 604.8h-3M763.5 756.6v3M609.6 591.9h-3M772.8 756.6v3M609.6 581.9h-3M780.4 756.6v3M609.6 573.8h-3M786.8 756.6v3M609.6 566.9h-3M792.4 756.6v3M609.6 561.0h-3M797.3 756.6v3M609.6 555.7h-3M801.7 756.6v6.5M609.6 551.0h-6.5M830.6 756.6v3M609.6 520.1h-3M847.5 756.6v3M609.6 502.0h-3M859.5 756.6v3M609.6 489.1h-3M868.8 756.6v3M609.6 479.1h-3M876.4 756.6v3M609.6 471.0h-3M882.9 756.6v3M609.6 464.1h-3M888.4 756.6v3M609.6 458.2h-3M893.4 756.6v3M609.6 452.9h-3M897.8 756.6v6.5M609.6 448.2h-6.5M926.7 756.6v3M609.6 417.3h-3M943.6 756.6v3M609.6 399.2h-3M955.6 756.6v3M609.6 386.3h-3M964.9 756.6v3M609.6 376.3h-3M972.5 756.6v3M609.6 368.2h-3M978.9 756.6v3M609.6 361.3h-3M984.5 756.6v3M609.6 355.4h-3M989.4 756.6v3M609.6 350.1h-3M993.8 756.6v6.5M609.6 345.4h-6.5" stroke="#787878" stroke-width="1.6" fill="none"/>
<line x1="696.9" y1="345.4" x2="696.9" y2="756.6" stroke="#e8262b" stroke-width="2.2"/>
<line x1="609.6" y1="682.0" x2="993.8" y2="682.0" stroke="#e8262b" stroke-width="2.2"/>
<text x="586.8" y="804.1" font-size="35.5">10<tspan font-size="24.5" dy="-10.4">0</tspan></text>
<text transform="translate(583.2,780.3) rotate(-90)" font-size="35.5">10<tspan font-size="24.5" dy="-10.6">0</tspan></text>
<text x="682.9" y="804.1" font-size="35.5">10<tspan font-size="24.5" dy="-10.4">1</tspan></text>
<text transform="translate(583.2,677.5) rotate(-90)" font-size="35.5">10<tspan font-size="24.5" dy="-10.6">1</tspan></text>
<text x="778.9" y="804.1" font-size="35.5">10<tspan font-size="24.5" dy="-10.4">2</tspan></text>
<text transform="translate(583.2,574.7) rotate(-90)" font-size="35.5">10<tspan font-size="24.5" dy="-10.6">2</tspan></text>
<text x="875.0" y="804.1" font-size="35.5">10<tspan font-size="24.5" dy="-10.4">3</tspan></text>
<text transform="translate(583.2,471.9) rotate(-90)" font-size="35.5">10<tspan font-size="24.5" dy="-10.6">3</tspan></text>
<text x="971.0" y="804.1" font-size="35.5">10<tspan font-size="24.5" dy="-10.4">4</tspan></text>
<text transform="translate(583.2,369.1) rotate(-90)" font-size="35.5">10<tspan font-size="24.5" dy="-10.6">4</tspan></text>
<text x="732.0" y="329.0" font-size="35.5" fill="#000">Only PTX</text>
<text x="613.5" y="389.5" font-size="38.8" fill="#000">7.0%</text>
<text x="869.1" y="390.3" font-size="38.8" fill="#000">17.2%</text>
<text x="759.2" y="740.6" font-size="38.8" fill="#000">62.4%</text>
<text x="875.0" y="738.6" font-size="38.8" fill="#000">13.4%</text>
<g transform="translate(1078,349) scale(2)" fill="none" stroke-width="1" shape-rendering="crispEdges"><path stroke="#8a8a8a" d="M93 46h1M89 48h1M69 53h1m20 0h1m6 0h1M71 54h1m33 0h1M88 56h1M83 57h1M74 58h1m5 0h1m9 0h1M83 59h1M38 61h1M1 62h1m87 0h1M42 63h1m2 0h1m7 0h1M32 64h1m27 0h1m20 0h1m1 0h1M24 65h1m46 0h1m2 0h1m3 0h1m4 0h1m1 0h1m1 0h1m2 0h1M59 66h1m11 0h1m2 0h1m35 0h1M58 67h1m5 0h1m18 0h1m6 0h1M56 68h1m16 0h1m3 0h1m5 0h1M58 69h1m14 0h1m9 0h1M32 70h1m19 0h1m19 0h2m2 0h1M102 71h1M52 72h1m25 0h1M51 73h1m11 0h1m4 0h1m13 0h1M60 74h1m19 0h1m16 0h1m2 0h1M32 75h1m13 0h1m27 0h1m4 0h1m4 0h1m1 0h1M43 76h1m1 0h1m10 0h1m26 0h1m6 0h1M37 77h1m1 0h1m12 0h1m15 0h1m7 0h1m12 0h1m4 0h1m21 0h1M32 78h1m2 0h1m18 0h1m24 0h1m5 0h1m3 0h1m1 0h1m18 0h1M35 79h1m1 0h1M45 80h1m34 0h1m10 0h1M38 81h2m5 0h1m6 0h1m8 0h1M28 82h1m5 0h1m27 0h1m40 0h1M21 83h1m17 0h1m29 0h2m7 0h1m4 0h1m5 0h1M21 84h1m7 0h1m2 0h1m6 0h1m8 0h1m31 0h1m3 0h1M23 85h1m7 0h1m16 0h1m6 0h1m34 0h1M24 86h1m7 0h1m10 0h1M1 87h1m33 0h1m45 0h1M1 88h1m15 0h1m12 0h1m3 0h1m45 0h2m8 0h1m3 0h1m1 0h1m16 0h1m17 0h1M17 89h1m4 0h1m1 0h1m61 0h2m4 0h1M29 90h1m15 0h1M0 91h1m10 0h1m16 0h1m21 0h1m28 0h1m2 0h1M23 92h2m7 0h1m35 0h1m4 0h2m4 0h1M11 93h1m6 0h1m4 0h1m11 0h1m43 0h2m7 0h2m4 0h1m21 0h1M31 94h1m13 0h1M0 95h1m29 0h1m31 0h1m12 0h1m18 0h1M4 96h1m5 0h1m61 0h1m11 0h2M18 97h1m64 0h1M1 98h1m4 0h1m8 0h1m9 0h1m22 0h1m22 0h1m9 0h1M14 99h1m6 0h1m2 0h1m7 0h1m11 0h1m1 0h1m10 0h1m12 0h1m8 0h1M79 100h1M6 101h1m1 0h1m41 0h1m15 0h1M6 102h1m31 0h1m11 0h1m16 0h1m3 0h1M15 103h1m3 0h1m8 0h1m7 0h1m3 0h1m2 0h1m10 0h1m5 0h1m2 0h1m12 0h1M1 104h1m10 0h1m7 0h1m12 0h1m20 0h1m11 0h1m3 0h1m10 0h1m15 0h1M11 105h1m28 0h1m3 0h1m36 0h1m1 0h1M29 106h1m6 0h1m2 0h1m28 0h1M11 107h1m11 0h2m10 0h1m1 0h1m8 0h1M41 108h1m11 0h1M14 109h1m25 0h1m11 0h2m26 0h1M21 110h1m36 0h1m4 0h1M16 111h1m9 0h1m5 0h1m3 0h1m8 0h1m6 0h1m18 0h1M37 112h1m44 0h1m1 0h1m13 0h1M32 113h1m25 0h2M0 114h1m22 0h1m1 0h1m26 0h1m42 0h1M16 115h1m18 0h3m28 0h1m4 0h1m3 0h1m32 0h1M1 116h1m3 0h1m32 0h2m4 0h1m4 0h1m3 0h1m5 0h1m6 0h1m6 0h1m10 0h1m3 0h1m16 0h1M23 117h1m33 0h1m8 0h1m2 0h1m13 0h1m12 0h1M7 118h1m35 0h1m2 0h1m12 0h2M1 119h1m9 0h1m32 0h1m8 0h1M29 120h1m20 0h1m15 0h1m18 0h1M7 121h1m22 0h1m16 0h1m16 0h1m11 0h1m11 0h1M47 122h1m13 0h1M20 123h1m21 0h1m12 0h1m3 0h1m3 0h1m7 0h1M15 124h1m9 0h1m20 0h1m15 0h1m22 0h1M15 125h1m7 0h1m5 0h1m33 0h1m4 0h2m19 0h1m26 0h1M16 126h1m16 0h1m3 0h1m3 0h1m4 0h1m3 0h1m1 0h1m2 0h2m21 0h1m10 0h1m17 0h1M38 127h1m14 0h1m16 0h1m4 0h1M41 128h1m10 0h1m10 0h1m7 0h1m6 0h1m9 0h1m22 0h1M0 129h1m17 0h1m1 0h1m3 0h1m23 0h1m16 0h1M10 130h1m3 0h1m1 0h1m28 0h1m6 0h1m3 0h1m8 0h1M68 131h2m3 0h1m6 0h1m28 0h1M10 132h1m1 0h2m3 0h1m6 0h1m14 0h1m32 0h1m8 0h1m19 0h1M23 133h1m11 0h1m5 0h1m4 0h1m13 0h1m6 0h1m1 0h1m24 0h1M34 134h1m13 0h1m21 0h1M44 135h1m18 0h1m18 0h1m1 0h1m12 0h1M11 136h1m5 0h1m1 0h1m21 0h1m15 0h1m5 0h1m5 0h1m6 0h1m1 0h1m17 0h1M10 137h1m22 0h1m7 0h1m1 0h1m38 0h1m2 0h1m1 0h1M14 138h1m2 0h1m26 0h2m5 0h1m11 0h1m3 0h1M12 139h1m5 0h1m25 0h1m3 0h1m2 0h1m9 0h1m2 0h1m9 0h1M22 140h1m38 0h1m6 0h1M30 141h1m1 0h1m4 0h1m32 0h1m30 0h1M5 142h1m12 0h1m1 0h1m9 0h1m19 0h1m56 0h1M31 143h1m16 0h1m8 0h1m1 0h1m39 0h1M6 144h1m24 0h1m6 0h1m4 0h1m9 0h1m6 0h2m1 0h1M35 145h1m5 0h1m14 0h2m17 0h1M50 146h1M67 147h1M9 148h1M13 149h1m7 0h1m3 0h1m25 0h1m6 0h1m21 0h1m13 0h1M38 150h1m20 0h1m21 0h1M7 151h1m2 0h1m4 0h1m29 0h1m7 0h1m8 0h1M14 152h1m6 0h1m6 0h1m5 0h1M8 153h1m27 0h1m3 0h1m21 0h1m13 0h1M7 154h1m8 0h1m23 0h1M1 155h1m20 0h1m2 0h1m22 0h1m4 0h1m11 0h1m10 0h1m1 0h1M41 156h1m15 0h1M4 157h1m35 0h1m20 0h1M17 158h1m9 0h1m7 0h1m9 0h1m19 0h1m1 0h1M1 160h1m44 0h1m3 0h1m22 0h1M48 161h1m17 0h1M18 162h1m20 0h1m10 0h3M23 163h1m4 0h1m4 0h1m29 0h1m25 0h1M18 164h1m14 0h1m28 0h1M9 165h1m1 0h1m17 0h1m2 0h1m29 0h1m16 0h1M19 166h1m9 0h1m9 0h1m19 0h1M18 167h1m26 0h1M30 168h1m1 0h1m41 0h1m13 0h1M9 169h1m6 0h1m2 0h1m26 0h1m7 0h1m2 0h2M4 170h1m25 0h2m16 0h1m7 0h1m8 0h1M3 171h1m11 0h1m4 0h1m6 0h1m7 0h1m6 0h1m19 0h1M1 172h1m5 0h1m21 0h1m5 0h1m5 0h1M29 173h1m48 0h1M17 174h1m7 0h1m1 0h1m9 0h1M1 175h1m14 0h1m5 0h1m16 0h1m12 0h1m1 0h1M2 176h3m5 0h2m14 0h1m5 0h1m2 0h1m2 0h1m7 0h1m9 0h1M27 177h1m5 0h1m19 0h1m7 0h1M12 178h1m4 0h1m19 0h1m2 0h1m2 0h1m2 0h1m9 0h1M3 179h1m2 0h1m6 0h1m3 0h2m35 0h1M37 180h1M8 181h2m12 0h1m7 0h1m3 0h1m22 0h1m1 0h1m7 0h1M15 182h1m11 0h1m8 0h1m4 0h1M31 183h1m10 0h1m13 0h1M37 184h1m4 0h1m12 0h1m3 0h1M36 185h1m14 0h1M25 186h1m5 0h1m34 0h1M6 187h1m3 0h1m54 0h1M3 188h2m1 0h1m1 0h1m22 0h1M24 189h1m9 0h1m27 0h2M7 190h1m8 0h1m32 0h1m15 0h1M5 191h1m10 0h1m2 0h2m3 0h1m25 0h1M4 192h1m6 0h1m28 0h1M14 193h1m20 0h1m10 0h1m7 0h1M8 194h1M28 195h2m5 0h1m5 0h1m2 0h1M5 196h1m10 0h1m3 0h1m5 0h1m8 0h1M17 197h1m3 0h1m6 0h1m10 0h1m26 0h1M8 198h1m6 0h1m8 0h1m18 0h1m7 0h1m2 0h1m4 0h1M0 199h1m25 0h1m4 0h1m3 0h1m14 0h1M0 200h2m21 0h3m4 0h1m1 0h1m10 0h3M2 201h1m16 0h1m9 0h1m14 0h1m4 0h1M9 202h1m15 0h1m5 0h1m14 0h1m4 0h2m10 0h1"/><path stroke="#000" d="M101 26h1M102 32h1M74 38h1M91 40h1M99 50h1M84 51h1m3 0h1M83 52h1m13 0h1M62 53h1m20 0h1m11 0h1m9 0h1m14 0h1M84 54h1M65 55h1m31 0h1M72 56h1m14 0h1m28 0h1M54 57h1m9 0h1m25 0h1m2 0h1m1 0h1m14 0h1M72 58h1M74 59h1m11 0h1m8 0h1m7 0h1M70 60h1m5 0h1m9 0h1m1 0h2m18 0h1M40 61h1m27 0h1m1 0h1m8 0h1m6 0h1m15 0h1M74 62h3m6 0h1m17 0h1m10 0h1m7 0h1M61 63h1m20 0h1m1 0h2m3 0h1m11 0h1M57 64h1m10 0h1m1 0h1m4 0h3m2 0h1m9 0h1m1 0h1m3 0h1M41 65h1m26 0h1m1 0h1m5 0h2m6 0h1m3 0h2m8 0h1M53 66h1m7 0h1m5 0h1m1 0h2m9 0h2m1 0h3m3 0h1m3 0h1m1 0h1m5 0h1M44 67h1m3 0h1m2 0h2m3 0h1m4 0h1m6 0h1m16 0h1m8 0h1m1 0h1m14 0h1M33 68h1m10 0h1m21 0h1m1 0h2m2 0h1m1 0h1m3 0h2m5 0h2m5 0h1m8 0h1m10 0h1M39 69h2m19 0h3m1 0h1m5 0h1m4 0h3m2 0h1m1 0h1m2 0h2m1 0h1m3 0h2m1 0h1m3 0h1M42 70h1m8 0h1m4 0h1m1 0h1m1 0h1m3 0h1m1 0h1m1 0h1m1 0h2m2 0h2m1 0h4m2 0h3m2 0h1m3 0h1m5 0h1m3 0h1M39 71h1m1 0h1m1 0h1m1 0h1m4 0h1m3 0h1m1 0h2m3 0h1m3 0h2m3 0h2m1 0h2m1 0h1m1 0h1m1 0h5m1 0h1m1 0h1m12 0h1m5 0h1m16 0h1M34 72h1m7 0h1m3 0h1m2 0h2m3 0h1m1 0h1m1 0h3m2 0h6m1 0h2m1 0h4m2 0h1m1 0h3m1 0h1m2 0h2m2 0h2m2 0h1M1 73h1m39 0h1m2 0h1m8 0h1m2 0h1m2 0h4m2 0h1m3 0h2m1 0h3m2 0h4m3 0h1m3 0h1m1 0h1m1 0h1m7 0h1M37 74h1m6 0h3m1 0h1m1 0h2m2 0h1m1 0h2m3 0h7m1 0h10m2 0h2m1 0h2m1 0h1m2 0h1m1 0h1m1 0h1m6 0h1M1 75h1m33 0h2m6 0h1m6 0h1m2 0h2m1 0h1m1 0h7m1 0h2m2 0h2m1 0h1m2 0h3m2 0h1m3 0h1m1 0h1m2 0h3m9 0h1m2 0h1M36 76h1m2 0h4m1 0h1m3 0h1m1 0h2m1 0h2m2 0h1m1 0h6m1 0h2m1 0h4m1 0h2m1 0h3m1 0h1m2 0h5m7 0h1m4 0h1M0 77h1m18 0h1m22 0h1m5 0h4m2 0h1m2 0h2m2 0h7m1 0h5m1 0h1m1 0h5m1 0h3m2 0h1m12 0h1m15 0h1M28 78h1m4 0h1m3 0h4m1 0h3m1 0h2m1 0h2m1 0h1m2 0h1m1 0h15m1 0h4m1 0h1m1 0h3m1 0h1m2 0h2m6 0h2m2 0h1M0 79h1m1 0h1m5 0h1m20 0h1m8 0h1m1 0h26m1 0h14m1 0h6m2 0h1m6 0h2m2 0h2m7 0h1M1 80h1m12 0h1m11 0h1m6 0h1m4 0h1m1 0h1m2 0h2m1 0h1m1 0h4m1 0h18m1 0h4m1 0h2m2 0h5m2 0h1m1 0h1m2 0h1m13 0h1M4 81h1m14 0h1m6 0h1m2 0h1m4 0h4m4 0h3m2 0h4m2 0h8m2 0h7m1 0h6m1 0h4m1 0h3m1 0h2m1 0h1m1 0h1M18 82h1m1 0h2m3 0h1m3 0h1m2 0h1m2 0h7m2 0h2m1 0h3m1 0h6m1 0h4m1 0h10m1 0h2m1 0h1m1 0h4m1 0h5m3 0h1m1 0h1m11 0h1M23 83h3m3 0h1m1 0h1m1 0h1m1 0h1m1 0h1m3 0h1m1 0h5m1 0h20m3 0h5m2 0h4m2 0h1m4 0h1m1 0h1m8 0h1M16 84h2m5 0h3m8 0h1m1 0h1m1 0h1m4 0h5m1 0h31m2 0h1m2 0h1m1 0h3m1 0h1m4 0h1m2 0h1m3 0h1M1 85h1m6 0h1m2 0h1m2 0h2m6 0h1m4 0h3m4 0h4m1 0h4m1 0h4m1 0h2m1 0h3m1 0h20m1 0h6m1 0h1m1 0h1m2 0h1m1 0h2m28 0h1M0 86h1m7 0h1m7 0h1m2 0h3m1 0h1m2 0h1m3 0h2m1 0h1m1 0h8m1 0h26m1 0h4m1 0h1m1 0h6m1 0h6m1 0h1m7 0h1M4 87h1m10 0h1m2 0h2m1 0h2m1 0h1m1 0h1m1 0h4m1 0h2m1 0h5m1 0h2m1 0h28m1 0h3m3 0h1m1 0h3m2 0h1m4 0h2M0 88h1m9 0h1m7 0h1m2 0h1m1 0h2m1 0h4m2 0h2m1 0h9m1 0h1m1 0h9m1 0h5m1 0h12m1 0h4m4 0h1m2 0h1m15 0h1M8 89h2m5 0h1m9 0h2m1 0h16m1 0h1m1 0h20m1 0h13m2 0h2m4 0h1m1 0h1m2 0h1m4 0h1M8 90h1m4 0h1m2 0h4m1 0h1m1 0h5m2 0h6m1 0h1m1 0h6m1 0h5m1 0h22m1 0h1m1 0h5m2 0h1m5 0h2m5 0h1m4 0h1m1 0h1M7 91h1m7 0h1m3 0h2m1 0h6m1 0h11m1 0h9m1 0h24m1 0h1m3 0h2m3 0h4M6 92h1m11 0h5m2 0h7m2 0h34m1 0h4m3 0h3m1 0h1m6 0h1m4 0h1m1 0h1m4 0h1m4 0h1M0 93h1m14 0h1m5 0h1m2 0h11m1 0h29m1 0h8m4 0h1m2 0h1m2 0h2m5 0h2M1 94h1m2 0h1m3 0h2m3 0h1m1 0h6m1 0h9m1 0h13m1 0h25m2 0h2m1 0h1m1 0h3m1 0h2m3 0h1M12 95h1m2 0h1m1 0h2m1 0h1m1 0h3m1 0h4m1 0h4m1 0h4m1 0h21m1 0h6m1 0h4m2 0h2m1 0h2m6 0h2m4 0h1m7 0h1M0 96h1m5 0h1m7 0h2m2 0h3m1 0h1m1 0h6m1 0h10m1 0h1m1 0h6m1 0h21m1 0h1m4 0h6M8 97h1m6 0h2m2 0h2m1 0h47m3 0h2m4 0h1m1 0h1m3 0h1m22 0h1M0 98h1m2 0h1m5 0h2m2 0h1m5 0h1m1 0h4m1 0h22m1 0h14m1 0h3m1 0h1m1 0h1m1 0h1m1 0h2m1 0h3m2 0h1M1 99h1m8 0h1m1 0h1m2 0h1m6 0h2m1 0h4m1 0h2m1 0h11m1 0h1m1 0h8m1 0h1m1 0h2m1 0h6m1 0h2m1 0h2m2 0h1m9 0h1M0 100h1m10 0h2m1 0h2m3 0h4m1 0h25m1 0h3m1 0h8m1 0h5m1 0h1m1 0h1m2 0h2m1 0h1m2 0h1m1 0h2m2 0h1m5 0h1M12 101h1m2 0h4m1 0h1m1 0h2m1 0h10m1 0h5m1 0h5m2 0h1m1 0h1m1 0h5m1 0h2m1 0h1m2 0h1m1 0h1m1 0h1m2 0h2m1 0h2m4 0h1m2 0h1m9 0h1M0 102h1m2 0h1m6 0h3m1 0h3m1 0h4m1 0h2m1 0h1m2 0h9m1 0h4m1 0h4m3 0h3m1 0h2m2 0h2m2 0h2m4 0h1m3 0h3m1 0h1m5 0h1m6 0h1m22 0h1M16 103h3m1 0h2m1 0h5m1 0h7m1 0h3m2 0h1m1 0h6m1 0h1m1 0h1m2 0h2m4 0h1m1 0h1m5 0h1m2 0h1m3 0h1m4 0h1M0 104h1m8 0h2m2 0h1m1 0h1m5 0h1m1 0h10m1 0h11m1 0h7m2 0h1m2 0h2m1 0h1m3 0h1m2 0h2m2 0h3m1 0h1m5 0h1m3 0h1m2 0h1m5 0h1M0 105h2m5 0h1m5 0h1m1 0h2m5 0h1m2 0h5m1 0h3m1 0h2m1 0h2m1 0h1m1 0h1m1 0h2m1 0h8m4 0h1m3 0h3m4 0h1m1 0h1m3 0h1m8 0h1M16 106h2m6 0h5m1 0h3m1 0h2m4 0h2m1 0h5m1 0h1m3 0h1m1 0h4m2 0h3m1 0h3m1 0h1m12 0h1m2 0h1M0 107h2m5 0h1m4 0h1m2 0h1m1 0h2m2 0h1m3 0h1m6 0h1m1 0h1m1 0h1m4 0h2m1 0h2m1 0h6m3 0h1m2 0h3m1 0h1m3 0h1m2 0h2m3 0h1m22 0h1M0 108h2m1 0h1m4 0h2m5 0h2m5 0h1m1 0h1m1 0h6m2 0h2m1 0h1m1 0h2m2 0h2m1 0h3m1 0h3m1 0h1m3 0h6m1 0h1m3 0h1m5 0h1m2 0h1M0 109h2m1 0h1m2 0h1m2 0h1m6 0h1m3 0h1m4 0h1m1 0h2m1 0h1m1 0h1m1 0h4m1 0h1m3 0h1m1 0h3m1 0h1m1 0h1m4 0h1m4 0h2m1 0h3m3 0h1m2 0h1m3 0h2m6 0h1m2 0h2m1 0h1M1 110h1m3 0h1m10 0h2m4 0h1m1 0h1m1 0h1m1 0h4m1 0h2m1 0h4m4 0h2m4 0h4m5 0h1m2 0h1m3 0h1m1 0h1m9 0h1m2 0h1m10 0h1M0 111h2m2 0h3m6 0h1m3 0h1m4 0h2m1 0h1m3 0h1m4 0h2m3 0h2m5 0h2m7 0h1m1 0h1m2 0h1m1 0h1m5 0h1m3 0h1m2 0h1m4 0h1m7 0h1m14 0h1m10 0h1M0 112h1m9 0h1m4 0h1m4 0h3m4 0h4m1 0h1m1 0h1m3 0h1m1 0h1m1 0h1m2 0h1m2 0h3m3 0h6m1 0h1m3 0h1m8 0h1m10 0h1m8 0h1m1 0h1m11 0h1M0 113h2m7 0h1m6 0h2m2 0h1m8 0h1m3 0h5m1 0h3m1 0h2m1 0h1m1 0h1m2 0h2m1 0h1m1 0h1m3 0h1m1 0h1m1 0h2m5 0h1m6 0h1m5 0h2m8 0h1m8 0h1M1 114h1m3 0h2m14 0h1m4 0h5m1 0h1m2 0h1m1 0h2m3 0h3m3 0h4m5 0h1m1 0h2m3 0h4m2 0h1m5 0h1m2 0h1m14 0h1M0 115h2m2 0h3m1 0h2m2 0h3m5 0h1m7 0h2m3 0h1m6 0h2m2 0h1m1 0h4m1 0h5m1 0h2m1 0h2m1 0h1m1 0h1m4 0h1m6 0h2M0 116h1m6 0h1m4 0h1m3 0h2m4 0h1m3 0h2m2 0h1m2 0h3m1 0h1m7 0h1m1 0h2m1 0h2m2 0h3m1 0h1m1 0h1m1 0h4m1 0h1m2 0h3m3 0h1m4 0h1M0 117h2m10 0h2m2 0h5m1 0h1m2 0h3m2 0h1m4 0h1m2 0h2m1 0h3m4 0h1m2 0h3m1 0h2m1 0h1m1 0h4m3 0h1m4 0h1m1 0h1m5 0h3m6 0h1m20 0h1M0 118h1m4 0h1m3 0h1m4 0h1m1 0h1m4 0h2m1 0h3m2 0h1m1 0h1m1 0h3m1 0h1m3 0h1m2 0h2m2 0h2m1 0h4m1 0h1m6 0h3m3 0h1m1 0h2m1 0h2m6 0h1m3 0h1m19 0h1M0 119h1m3 0h3m2 0h1m2 0h1m1 0h2m1 0h1m2 0h1m5 0h1m1 0h1m2 0h3m1 0h1m3 0h2m5 0h3m9 0h1m1 0h3m1 0h1m5 0h1m2 0h1m5 0h1M0 120h2m4 0h1m1 0h1m2 0h1m4 0h1m5 0h2m2 0h1m3 0h2m1 0h2m1 0h1m1 0h1m3 0h7m2 0h5m2 0h1m3 0h1m1 0h2m2 0h2m1 0h2m1 0h1m2 0h2m11 0h1m3 0h1m4 0h1M0 121h2m8 0h1m3 0h1m4 0h2m5 0h1m1 0h2m2 0h2m3 0h1m2 0h2m1 0h4m4 0h3m1 0h1m1 0h5m1 0h1m3 0h3m1 0h1m1 0h1m1 0h1m4 0h1m3 0h1m6 0h2m9 0h1M0 122h3m2 0h1m2 0h1m3 0h1m6 0h1m3 0h2m1 0h1m1 0h2m1 0h2m1 0h2m1 0h4m1 0h3m1 0h1m1 0h1m1 0h2m1 0h1m1 0h1m1 0h1m1 0h1m2 0h1m1 0h1m1 0h1m3 0h1m1 0h2m6 0h4m5 0h3m6 0h1M1 123h1m3 0h1m7 0h1m5 0h1m3 0h1m1 0h1m1 0h1m1 0h1m1 0h3m3 0h3m1 0h1m1 0h1m1 0h1m2 0h7m1 0h1m3 0h1m3 0h1m1 0h3m11 0h1m3 0h1M0 124h2m3 0h1m1 0h1m5 0h1m2 0h1m2 0h1m2 0h1m5 0h1m2 0h2m1 0h2m1 0h9m1 0h2m1 0h1m2 0h2m2 0h1m1 0h1m1 0h1m1 0h1m2 0h1m1 0h1m4 0h1m3 0h2m7 0h1m5 0h1M0 125h4m4 0h1m1 0h1m3 0h1m4 0h4m2 0h2m1 0h1m1 0h1m1 0h1m3 0h5m1 0h3m1 0h1m1 0h5m3 0h1m1 0h3m1 0h1m1 0h3m4 0h1m1 0h3m3 0h2m1 0h1m4 0h1M0 126h3m5 0h2m4 0h1m2 0h4m2 0h1m1 0h2m1 0h4m2 0h3m1 0h2m4 0h1m2 0h3m7 0h1m1 0h3m1 0h2m2 0h5m1 0h1m1 0h2m8 0h1m4 0h1m1 0h2m11 0h1M0 127h2m6 0h1m4 0h1m2 0h1m2 0h2m1 0h6m2 0h1m1 0h2m1 0h2m2 0h1m1 0h1m1 0h1m3 0h1m3 0h2m2 0h3m1 0h1m2 0h1m1 0h1m1 0h1m1 0h1m2 0h1m4 0h1m2 0h2m7 0h1M0 128h1m6 0h4m1 0h2m1 0h2m1 0h2m2 0h1m3 0h1m1 0h4m2 0h1m4 0h1m3 0h8m2 0h3m2 0h1m2 0h1m2 0h5m1 0h1m1 0h1m4 0h1m1 0h1m4 0h1m9 0h1m11 0h1M1 129h2m5 0h1m1 0h1m3 0h1m1 0h1m2 0h1m1 0h3m3 0h1m1 0h4m1 0h4m1 0h3m1 0h2m2 0h1m1 0h2m1 0h3m1 0h7m3 0h2m1 0h1m1 0h1m1 0h1m6 0h1m3 0h1m8 0h1m1 0h1M0 130h3m8 0h1m1 0h1m3 0h2m3 0h1m2 0h1m3 0h1m1 0h1m1 0h1m1 0h2m1 0h3m1 0h1m1 0h1m1 0h5m4 0h1m1 0h5m1 0h2m3 0h2m1 0h4m2 0h1m9 0h1m3 0h1m8 0h1M0 131h2m1 0h1m1 0h2m2 0h1m4 0h1m1 0h2m2 0h1m2 0h2m1 0h3m2 0h5m2 0h4m1 0h2m1 0h1m1 0h2m4 0h1m1 0h3m1 0h1m2 0h1m6 0h1m1 0h1m4 0h1m3 0h1m3 0h1m5 0h1m2 0h1M0 132h4m1 0h1m8 0h3m1 0h4m3 0h3m1 0h1m1 0h7m5 0h1m1 0h3m1 0h1m1 0h1m1 0h4m1 0h5m1 0h1m4 0h1m3 0h1m1 0h1m27 0h1M0 133h4m11 0h3m2 0h1m3 0h2m1 0h5m1 0h1m5 0h2m1 0h1m1 0h1m3 0h2m1 0h1m1 0h7m1 0h2m1 0h2m2 0h1m1 0h2m1 0h4m1 0h1m1 0h1m3 0h1m13 0h1m4 0h1M0 134h2m1 0h1m6 0h1m1 0h1m2 0h1m8 0h2m1 0h3m5 0h2m2 0h2m1 0h2m1 0h3m2 0h8m2 0h1m1 0h4m1 0h3m1 0h1m1 0h1m3 0h1m1 0h1m5 0h1m1 0h1m10 0h1M0 135h1m8 0h1m2 0h1m1 0h5m3 0h1m1 0h1m1 0h1m3 0h1m1 0h1m2 0h4m1 0h1m2 0h1m1 0h1m1 0h1m2 0h1m2 0h1m1 0h1m1 0h5m2 0h2m2 0h3m2 0h2m1 0h1m3 0h1m5 0h1M0 136h3m7 0h1m1 0h2m6 0h3m2 0h2m1 0h2m2 0h3m2 0h3m3 0h1m1 0h1m1 0h4m1 0h3m1 0h1m1 0h2m2 0h1m1 0h5m3 0h2m1 0h1M0 137h2m9 0h1m2 0h2m1 0h1m3 0h1m3 0h1m1 0h3m4 0h1m1 0h1m1 0h2m4 0h6m3 0h2m3 0h2m3 0h4m2 0h2m1 0h1m2 0h2m4 0h1m2 0h1m4 0h1m18 0h1M0 138h2m3 0h1m2 0h2m5 0h2m5 0h1m1 0h3m2 0h1m2 0h1m1 0h2m1 0h1m1 0h1m1 0h3m2 0h1m2 0h2m1 0h1m2 0h7m2 0h1m4 0h3m5 0h3m1 0h1m3 0h1M0 139h2m9 0h1m2 0h1m1 0h1m3 0h1m1 0h1m3 0h1m2 0h1m1 0h3m2 0h1m1 0h1m4 0h1m1 0h2m2 0h2m1 0h1m1 0h3m1 0h3m1 0h2m1 0h2m2 0h3m3 0h3m2 0h1m18 0h1m18 0h1M0 140h2m4 0h1m4 0h2m3 0h1m2 0h1m4 0h2m3 0h10m3 0h2m2 0h5m2 0h1m1 0h3m1 0h2m1 0h2m1 0h1m1 0h1m1 0h3m2 0h1m1 0h1m4 0h2m3 0h1m4 0h1M0 141h2m3 0h1m10 0h1m4 0h1m4 0h3m2 0h1m1 0h1m1 0h2m1 0h8m2 0h4m1 0h2m1 0h1m1 0h6m1 0h3m3 0h2m2 0h1m1 0h1m4 0h1m10 0h1m5 0h1M0 142h2m14 0h2m3 0h4m1 0h1m1 0h2m2 0h2m4 0h2m1 0h6m1 0h2m1 0h5m1 0h5m1 0h1m1 0h1m4 0h2m1 0h2m3 0h1m6 0h2m4 0h1m4 0h1m1 0h1M0 143h2m2 0h1m2 0h1m6 0h1m3 0h1m4 0h2m4 0h1m2 0h5m1 0h2m1 0h2m4 0h1m1 0h3m1 0h2m1 0h1m1 0h1m2 0h1m3 0h1m1 0h1m2 0h1m4 0h2m1 0h1m3 0h1m2 0h2m32 0h1M0 144h1m2 0h1m5 0h1m6 0h1m1 0h2m3 0h1m1 0h1m1 0h3m2 0h1m2 0h1m1 0h1m1 0h2m1 0h1m3 0h1m2 0h4m1 0h1m1 0h4m2 0h1m1 0h2m2 0h1m4 0h1m3 0h1m1 0h1m1 0h1m3 0h1m14 0h1M0 145h2m4 0h1m8 0h1m2 0h3m1 0h2m1 0h1m1 0h1m3 0h3m8 0h2m1 0h2m4 0h1m2 0h2m3 0h11m2 0h1m4 0h1M0 146h4m1 0h1m1 0h1m1 0h1m2 0h1m2 0h1m1 0h1m12 0h2m1 0h1m1 0h3m2 0h1m1 0h4m1 0h1m1 0h1m1 0h1m1 0h6m2 0h8m3 0h3m1 0h2m5 0h2m2 0h1m2 0h1m6 0h1m23 0h1M0 147h2m9 0h2m5 0h1m2 0h1m1 0h2m4 0h1m3 0h1m4 0h1m2 0h2m3 0h1m1 0h3m1 0h2m2 0h1m2 0h3m1 0h2m5 0h2m1 0h1m1 0h1m2 0h2m2 0h2m2 0h1M0 148h2m10 0h2m2 0h1m3 0h1m2 0h2m2 0h1m2 0h2m1 0h2m3 0h1m1 0h3m5 0h1m1 0h2m4 0h1m1 0h1m1 0h1m1 0h3m1 0h1m1 0h2m2 0h3m3 0h1m4 0h1m14 0h1M0 149h2m8 0h1m5 0h3m3 0h3m3 0h1m3 0h1m5 0h2m1 0h1m1 0h1m8 0h3m1 0h1m5 0h1m3 0h3m4 0h1m1 0h1m12 0h1m11 0h1M0 150h2m10 0h1m1 0h2m2 0h2m6 0h1m3 0h2m2 0h3m4 0h2m1 0h1m2 0h4m3 0h2m6 0h1m17 0h1m1 0h1m40 0h1M0 151h2m7 0h1m9 0h1m4 0h1m3 0h1m8 0h2m1 0h1m5 0h3m2 0h2m1 0h1m4 0h1m3 0h1m5 0h1m1 0h1m1 0h1m2 0h1m5 0h1m6 0h1m8 0h1M0 152h2m1 0h1m2 0h1m3 0h1m5 0h1m2 0h2m3 0h1m5 0h1m7 0h1m2 0h3m1 0h1m1 0h2m3 0h1m1 0h2m5 0h1m6 0h1m8 0h1m10 0h1m5 0h1M0 153h2m10 0h1m6 0h1m1 0h2m6 0h1m3 0h2m3 0h1m3 0h2m1 0h6m2 0h1m10 0h3m3 0h1m8 0h2m18 0h1M0 154h2m4 0h1m2 0h1m1 0h1m2 0h1m9 0h1m3 0h1m7 0h1m8 0h1m1 0h1m1 0h4m2 0h1m5 0h1m1 0h1m1 0h2m12 0h1m4 0h1m11 0h1m10 0h1M0 155h1m13 0h1m12 0h1m3 0h1m1 0h1m3 0h1m8 0h1m11 0h1m1 0h1m8 0h1m2 0h1m1 0h1m2 0h1m8 0h1m9 0h1M0 156h2m11 0h1m9 0h1m2 0h1m3 0h1m12 0h1m3 0h1m2 0h1m5 0h1m6 0h1m1 0h1m12 0h2M0 157h2m6 0h1m2 0h1m9 0h1m6 0h2m13 0h1m5 0h2m3 0h1m1 0h1m3 0h1m2 0h1m8 0h1m21 0h1M0 158h2m3 0h2m3 0h1m8 0h1m4 0h1m3 0h1m17 0h1m5 0h4m4 0h1m5 0h1m2 0h1m5 0h1M0 159h2m1 0h1m6 0h1m1 0h2m9 0h1m2 0h1m1 0h1m1 0h1m1 0h1m3 0h1m1 0h1m11 0h1m2 0h3m2 0h1m2 0h1m7 0h3m4 0h1M4 160h1m3 0h1m5 0h1m2 0h1m3 0h1m1 0h1m2 0h1m7 0h1m4 0h3m1 0h1m4 0h2m4 0h1m1 0h3m3 0h1m1 0h1m1 0h1m4 0h1m9 0h1M0 161h2m12 0h1m2 0h1m5 0h1m7 0h2m1 0h1m1 0h2m3 0h1m1 0h1m1 0h1m6 0h1m4 0h1m3 0h1m5 0h1m7 0h1m6 0h1M0 162h2m6 0h1m13 0h1m1 0h1m7 0h1m1 0h3m3 0h1m5 0h1m10 0h1m19 0h1m13 0h1M0 163h2m2 0h1m19 0h1m12 0h1m1 0h1m1 0h1m2 0h1m6 0h1m4 0h1m22 0h1m16 0h1M0 164h2m7 0h1m2 0h1m8 0h2m4 0h1m2 0h1m3 0h1m1 0h1m2 0h1m2 0h2m5 0h1m1 0h1m4 0h1m9 0h3M0 165h2m6 0h1m6 0h1m3 0h1m7 0h1m2 0h1m3 0h2m1 0h1m2 0h2m2 0h1m3 0h1m3 0h2m5 0h1m1 0h1m2 0h1m18 0h1M0 166h3m9 0h2m3 0h1m2 0h2m2 0h1m3 0h1m2 0h4m2 0h1m2 0h1m2 0h1m1 0h1m2 0h1m7 0h1m16 0h1M0 167h2m7 0h1m7 0h1m2 0h1m1 0h1m2 0h1m1 0h1m2 0h1m1 0h1m3 0h2m1 0h2m2 0h1m2 0h1m3 0h1m1 0h1m2 0h2m10 0h1M0 168h3m2 0h3m3 0h1m8 0h1m1 0h1m2 0h1m1 0h3m1 0h1m4 0h1m2 0h1m1 0h2m1 0h1m1 0h1m5 0h2m2 0h1m5 0h1m9 0h1m2 0h1m19 0h1M0 169h2m6 0h1m1 0h2m1 0h2m10 0h1m1 0h3m1 0h1m7 0h1m2 0h4m2 0h1m1 0h1m12 0h1m45 0h1M0 170h4m9 0h1m4 0h1m1 0h2m2 0h2m1 0h1m1 0h1m3 0h1m2 0h1m3 0h1m1 0h1m1 0h2m4 0h1m9 0h1m13 0h1M1 171h1m2 0h1m4 0h1m4 0h1m8 0h1m2 0h1m1 0h2m1 0h4m1 0h1m4 0h1m1 0h1m2 0h1m1 0h1m2 0h2m1 0h1m3 0h2m12 0h1M0 172h1m2 0h1m4 0h1m1 0h1m1 0h1m1 0h1m1 0h1m2 0h1m1 0h2m2 0h1m1 0h2m1 0h1m2 0h1m2 0h1m1 0h3m2 0h1m2 0h1m3 0h5m2 0h3m4 0h3m7 0h1M0 173h3m4 0h1m1 0h1m7 0h2m2 0h8m1 0h3m1 0h5m1 0h3m1 0h1m2 0h5m4 0h1m2 0h2m5 0h1M0 174h2m1 0h1m5 0h1m1 0h1m2 0h1m1 0h1m1 0h5m1 0h1m1 0h1m1 0h4m2 0h3m5 0h2m1 0h3m1 0h4m1 0h1m1 0h1m1 0h2m2 0h3M0 175h1m6 0h1m4 0h4m1 0h3m3 0h2m1 0h3m1 0h5m1 0h3m1 0h1m3 0h1m3 0h1m2 0h1m5 0h1m1 0h1m2 0h1M1 176h1m3 0h3m1 0h1m3 0h3m2 0h4m1 0h3m1 0h3m1 0h1m1 0h2m1 0h1m2 0h1m1 0h4m3 0h1m2 0h1m2 0h1m3 0h2m3 0h1m1 0h3M0 177h1m1 0h1m2 0h1m1 0h3m1 0h5m2 0h1m2 0h6m1 0h5m1 0h1m1 0h3m1 0h3m1 0h3m3 0h3m1 0h2m3 0h1m8 0h1m5 0h1M0 178h1m5 0h1m1 0h3m2 0h1m1 0h2m1 0h1m1 0h1m1 0h2m1 0h3m1 0h1m1 0h6m1 0h2m2 0h1m2 0h1m2 0h3m1 0h4m1 0h2m3 0h1m2 0h2M0 179h1m1 0h1m1 0h1m2 0h1m1 0h1m1 0h2m1 0h1m1 0h1m3 0h3m1 0h2m1 0h1m1 0h3m1 0h2m1 0h1m2 0h1m1 0h1m1 0h7m2 0h2m2 0h1m2 0h6m2 0h1m6 0h1M0 180h1m3 0h2m1 0h4m1 0h1m3 0h3m1 0h5m1 0h1m1 0h9m1 0h1m1 0h1m1 0h2m1 0h2m1 0h1m1 0h1m1 0h1m1 0h7m3 0h1M0 181h2m1 0h1m1 0h3m2 0h4m1 0h7m1 0h5m4 0h2m1 0h6m1 0h1m2 0h2m3 0h5m3 0h1m1 0h1m8 0h1M0 182h4m2 0h1m2 0h5m2 0h4m1 0h6m1 0h8m1 0h4m1 0h12m3 0h1m2 0h2m1 0h2m6 0h1M0 183h3m1 0h2m7 0h4m2 0h2m1 0h9m1 0h1m1 0h1m1 0h1m1 0h4m1 0h1m1 0h1m1 0h4m3 0h2m2 0h4m1 0h1m1 0h2m3 0h1M0 184h3m1 0h1m1 0h2m2 0h1m1 0h5m1 0h1m1 0h2m1 0h7m1 0h6m1 0h4m1 0h7m1 0h2m1 0h1m2 0h2m1 0h1m2 0h2M0 185h2m1 0h1m2 0h1m1 0h4m1 0h12m1 0h10m1 0h13m2 0h4m1 0h1m3 0h1m3 0h2M0 186h3m2 0h1m1 0h1m3 0h5m1 0h8m1 0h5m1 0h10m3 0h2m1 0h4m1 0h6m9 0h2M0 187h6m3 0h1m1 0h1m1 0h5m1 0h4m1 0h12m1 0h13m1 0h1m1 0h3m2 0h1m2 0h1m2 0h1m17 0h1m8 0h1M0 188h1m6 0h1m1 0h2m1 0h19m1 0h2m2 0h10m1 0h2m1 0h1m2 0h1m4 0h2m1 0h2m1 0h1m7 0h1M0 189h5m1 0h2m1 0h2m1 0h2m2 0h1m1 0h6m1 0h9m1 0h6m1 0h3m2 0h1m1 0h3m1 0h5m2 0h1m23 0h1M0 190h2m1 0h4m1 0h3m4 0h1m1 0h9m1 0h9m2 0h11m1 0h2m1 0h3m1 0h1m4 0h2m9 0h1M0 191h2m2 0h1m5 0h6m1 0h2m2 0h3m1 0h8m1 0h7m1 0h3m1 0h4m2 0h5m2 0h1m4 0h2M0 192h1m9 0h1m2 0h1m1 0h12m1 0h7m1 0h4m1 0h2m1 0h5m1 0h1m1 0h1m1 0h1m2 0h2m10 0h1m1 0h1M0 193h1m1 0h3m1 0h8m1 0h2m1 0h4m1 0h5m1 0h2m1 0h2m2 0h8m1 0h1m4 0h1m4 0h2m4 0h1m2 0h1M0 194h2m5 0h1m2 0h1m1 0h1m1 0h3m1 0h10m1 0h1m1 0h9m1 0h1m1 0h5m1 0h1m2 0h2m1 0h2m3 0h1m1 0h1m12 0h1M0 195h3m2 0h3m1 0h3m1 0h2m1 0h5m1 0h6m2 0h2m1 0h2m1 0h1m1 0h1m4 0h1m1 0h6m1 0h1m2 0h1M0 196h1m6 0h2m2 0h2m1 0h2m1 0h3m1 0h3m3 0h2m1 0h5m2 0h6m1 0h3m1 0h2m1 0h1m8 0h1M0 197h1m8 0h1m2 0h1m1 0h1m3 0h3m1 0h6m1 0h6m1 0h1m1 0h1m1 0h4m1 0h1m7 0h1m3 0h1m6 0h1m4 0h1M0 198h2m7 0h1m1 0h3m2 0h1m1 0h2m1 0h1m3 0h2m1 0h7m1 0h1m1 0h3m3 0h3m1 0h2m2 0h1m3 0h1M1 199h2m2 0h1m2 0h2m1 0h1m1 0h2m1 0h8m1 0h1m1 0h4m1 0h1m3 0h2m1 0h1m1 0h1m1 0h3m1 0h1m1 0h1m1 0h2m1 0h2m18 0h1M2 200h1m2 0h1m1 0h1m6 0h1m1 0h1m1 0h1m1 0h3m3 0h3m6 0h1m3 0h1m1 0h1m4 0h1m1 0h2m4 0h1m11 0h1M0 201h2m1 0h2m8 0h2m1 0h3m1 0h4m1 0h4m1 0h3m1 0h1m2 0h3m1 0h1m4 0h3m1 0h1m3 0h1m2 0h2m1 0h1M0 202h3m1 0h4m2 0h2m2 0h5m1 0h5m1 0h5m1 0h14m2 0h2m3 0h3m2 0h4"/></g>
<rect x="1078.0" y="348.3" width="382.2" height="406.4" fill="none" stroke="#787878" stroke-width="1.8"/>
<path d="M1078.0 754.7v6.5M1078.0 754.7h-6.5M1106.8 754.7v3M1078.0 724.1h-3M1123.6 754.7v3M1078.0 706.2h-3M1135.5 754.7v3M1078.0 693.5h-3M1144.8 754.7v3M1078.0 683.7h-3M1152.4 754.7v3M1078.0 675.6h-3M1158.7 754.7v3M1078.0 668.8h-3M1164.3 754.7v3M1078.0 662.9h-3M1169.2 754.7v3M1078.0 657.7h-3M1173.5 754.7v6.5M1078.0 653.1h-6.5M1202.3 754.7v3M1078.0 622.5h-3M1219.1 754.7v3M1078.0 604.6h-3M1231.1 754.7v3M1078.0 591.9h-3M1240.3 754.7v3M1078.0 582.1h-3M1247.9 754.7v3M1078.0 574.0h-3M1254.3 754.7v3M1078.0 567.2h-3M1259.8 754.7v3M1078.0 561.3h-3M1264.7 754.7v3M1078.0 556.1h-3M1269.1 754.7v6.5M1078.0 551.5h-6.5M1297.9 754.7v3M1078.0 520.9h-3M1314.7 754.7v3M1078.0 503.0h-3M1326.6 754.7v3M1078.0 490.3h-3M1335.9 754.7v3M1078.0 480.5h-3M1343.5 754.7v3M1078.0 472.4h-3M1349.8 754.7v3M1078.0 465.6h-3M1355.4 754.7v3M1078.0 459.7h-3M1360.3 754.7v3M1078.0 454.5h-3M1364.7 754.7v6.5M1078.0 449.9h-6.5M1393.4 754.7v3M1078.0 419.3h-3M1410.2 754.7v3M1078.0 401.4h-3M1422.2 754.7v3M1078.0 388.7h-3M1431.4 754.7v3M1078.0 378.9h-3M1439.0 754.7v3M1078.0 370.8h-3M1445.4 754.7v3M1078.0 364.0h-3M1450.9 754.7v3M1078.0 358.1h-3M1455.8 754.7v3M1078.0 352.9h-3M1460.2 754.7v6.5M1078.0 348.3h-6.5" stroke="#787878" stroke-width="1.6" fill="none"/>
<line x1="1164.1" y1="348.3" x2="1164.1" y2="754.7" stroke="#e8262b" stroke-width="2.2"/>
<line x1="1078.0" y1="681.9" x2="1460.2" y2="681.9" stroke="#e8262b" stroke-width="2.2"/>
<text x="1055.2" y="802.2" font-size="35.5">10<tspan font-size="24.5" dy="-10.4">0</tspan></text>
<text transform="translate(1053.9,778.4) rotate(-90)" font-size="35.5">10<tspan font-size="24.5" dy="-10.6">0</tspan></text>
<text x="1150.7" y="802.2" font-size="35.5">10<tspan font-size="24.5" dy="-10.4">1</tspan></text>
<text transform="translate(1053.9,676.8) rotate(-90)" font-size="35.5">10<tspan font-size="24.5" dy="-10.6">1</tspan></text>
<text x="1246.3" y="802.2" font-size="35.5">10<tspan font-size="24.5" dy="-10.4">2</tspan></text>
<text transform="translate(1053.9,575.2) rotate(-90)" font-size="35.5">10<tspan font-size="24.5" dy="-10.6">2</tspan></text>
<text x="1341.8" y="802.2" font-size="35.5">10<tspan font-size="24.5" dy="-10.4">3</tspan></text>
<text transform="translate(1053.9,473.6) rotate(-90)" font-size="35.5">10<tspan font-size="24.5" dy="-10.6">3</tspan></text>
<text x="1437.4" y="802.2" font-size="35.5">10<tspan font-size="24.5" dy="-10.4">4</tspan></text>
<text transform="translate(1053.9,372.0) rotate(-90)" font-size="35.5">10<tspan font-size="24.5" dy="-10.6">4</tspan></text>
<text x="1054.8" y="289.9" font-size="35.5" fill="#000">(siMDR1+siBCL2)@PLGA</text>
<text x="1218.1" y="329.7" font-size="35.5" fill="#000">+ PTX</text>
<text x="1083.7" y="393.6" font-size="38.8" fill="#000">21.7%</text>
<text x="1331.8" y="392.8" font-size="38.8" fill="#000">55.1%</text>
<text x="1213.5" y="738.0" font-size="38.8" fill="#000">17.8%</text>
<text x="1357.0" y="738.0" font-size="38.8" fill="#000">5.4%</text>
<g transform="translate(139,928) scale(2)" fill="none" stroke-width="1" shape-rendering="crispEdges"><path stroke="#8a8a8a" d="M110 54h1M0 55h1M107 56h1M114 59h1M0 63h2M0 64h1M76 66h1m3 0h1m20 0h1M1 67h1m91 0h1M50 68h1m48 0h1M54 69h1m20 0h1m27 0h1m20 0h1M0 70h2m79 0h1m15 0h1M56 71h1m26 0h1M79 72h1m1 0h1M54 73h1m26 0h1m3 0h1m4 0h1m16 0h1M45 74h1m30 0h1m8 0h1m13 0h1m7 0h1m7 0h1M80 75h1m8 0h1m31 0h1M0 76h1m20 0h1m5 0h1m13 0h1m29 0h2m7 0h1m29 0h1M0 77h1m56 0h1m3 0h1m5 0h1m2 0h1m9 0h1m9 0h1m1 0h1M29 78h1m7 0h1m20 0h1m1 0h1m6 0h2m7 0h1M42 79h1m27 0h2m5 0h2m4 0h1m31 0h1M0 80h1m13 0h1m32 0h1m16 0h1m3 0h1m16 0h1m19 0h1M40 81h1m14 0h1m11 0h1m31 0h1M0 82h1m63 0h1m2 0h1m7 0h1m14 0h1m22 0h1M29 83h1m16 0h1m29 0h1m6 0h1m11 0h1M38 84h1m6 0h1m1 0h1M23 85h1m10 0h1m4 0h1m18 0h1m2 0h1m22 0h1M24 86h1m6 0h1m8 0h1m2 0h1m25 0h1m9 0h1m4 0h1M37 87h2m12 0h1m32 0h1m9 0h1M28 88h1m19 0h1m16 0h1m48 0h1M32 89h1m11 0h1m4 0h2m8 0h1m8 0h1m2 0h1M32 90h1m9 0h1m4 0h1m14 0h1m5 0h1m9 0h1m7 0h1M14 91h1m2 0h1m9 0h2m2 0h1m58 0h1M27 92h1m1 0h1m6 0h1m1 0h1m5 0h1m18 0h1m46 0h1M29 93h1m6 0h1m10 0h1m13 0h1m20 0h1m1 0h1m17 0h1M7 94h1m7 0h1m1 0h1m14 0h2m28 0h1m7 0h1M31 95h1m5 0h1m4 0h1m21 0h1m6 0h1m5 0h1m1 0h1m17 0h1M33 96h1m26 0h2m3 0h1m4 0h1m15 0h1m10 0h1M17 97h1m3 0h1m8 0h1m2 0h1m4 0h2m13 0h1m5 0h1m6 0h1M15 98h1m8 0h1m2 0h1m1 0h1m5 0h1m8 0h1m8 0h1m4 0h1m2 0h2m3 0h1m1 0h1m8 0h1m4 0h1M0 99h1m10 0h1m2 0h1m1 0h2m4 0h1m16 0h1m30 0h2m11 0h1m4 0h1M15 100h2m6 0h2m2 0h1m1 0h1m1 0h1m13 0h1m32 0h2M7 101h1m6 0h1m8 0h1m25 0h1m11 0h1m34 0h1M14 102h1m20 0h2m3 0h1m33 0h1m31 0h1M33 103h1m16 0h2m20 0h1m5 0h1m3 0h1m9 0h1M11 104h1m9 0h1m22 0h1m15 0h1m27 0h2M27 105h1m8 0h1m2 0h1m4 0h1m3 0h1m2 0h1M55 106h1m13 0h1m9 0h1m11 0h1M11 107h1m34 0h1m7 0h1m1 0h2m24 0h1M15 108h1m11 0h1m10 0h1m11 0h1m1 0h1m37 0h1M17 109h2m27 0h1m35 0h1M23 110h1m12 0h1m17 0h1m22 0h1m6 0h1m5 0h1M36 111h1m49 0h1m3 0h1M8 112h1m14 0h1m5 0h1m15 0h1m23 0h1m3 0h1m9 0h1m4 0h1M32 113h1m3 0h1m8 0h1m13 0h1m1 0h1m37 0h1M25 114h1M7 115h1m37 0h1m15 0h2M29 116h1m17 0h1m7 0h2m25 0h1M8 117h1m2 0h1m10 0h1m33 0h1m16 0h1m3 0h2m5 0h1m13 0h1M27 118h2m28 0h1M20 119h1m9 0h1m19 0h1m2 0h1m2 0h1m30 0h1M20 120h1m8 0h1m1 0h1m4 0h1m19 0h2m19 0h1m7 0h1m3 0h1M8 121h1m26 0h1m7 0h1m20 0h1M37 122h1m9 0h1m30 0h1m6 0h1m1 0h1M4 123h1m8 0h1m2 0h1m3 0h1m33 0h1m9 0h1m15 0h1M1 124h1m44 0h1m22 0h1M2 125h1m17 0h1m8 0h1m11 0h1m4 0h1m10 0h1m21 0h1m4 0h1M40 126h1m2 0h1m28 0h1m6 0h1m3 0h1M1 127h1m32 0h1m3 0h1m1 0h1m51 0h1M32 128h1m22 0h1m14 0h1m25 0h1M30 129h1m19 0h1m13 0h1m4 0h1m9 0h2m2 0h1m15 0h1m16 0h1M26 130h1m9 0h1m27 0h1M35 131h1m38 0h1m20 0h1M40 132h1m17 0h1m5 0h1m13 0h1m2 0h1M0 133h1M9 134h1m8 0h1m12 0h1m14 0h2m3 0h1m3 0h1m14 0h2m36 0h1M27 135h1m4 0h1m4 0h1m16 0h1m5 0h1m9 0h1m11 0h1m2 0h1M1 136h1m7 0h1m1 0h1m7 0h1m11 0h1m15 0h1m16 0h1m6 0h1M30 137h1m24 0h1m3 0h1m4 0h1m12 0h1m2 0h1m26 0h1M12 138h1m18 0h1m33 0h1m13 0h1m6 0h2m1 0h1M14 139h1m14 0h1m8 0h1m23 0h2m27 0h1m2 0h1M10 140h1m11 0h1m22 0h1m10 0h1m9 0h1m19 0h1M15 141h2m17 0h1m17 0h1m31 0h1M13 142h1m4 0h1m17 0h1m6 0h1m17 0h1m19 0h1m7 0h1m9 0h1M0 143h1m9 0h1m6 0h1m51 0h1m1 0h1M64 144h1m24 0h1M29 145h1m8 0h1m2 0h1m28 0h2M0 146h1m22 0h1m5 0h1m14 0h1m6 0h1m6 0h1m4 0h1m17 0h1m3 0h1m25 0h1M32 147h1m1 0h1m13 0h1m16 0h1m21 0h1M44 148h1m4 0h1m21 0h3m2 0h1m5 0h1m3 0h1m45 0h1M4 149h1m32 0h2m52 0h1M40 150h1m3 0h1m16 0h1m2 0h1m8 0h1M27 151h1m1 0h1m8 0h1m2 0h1m5 0h1m54 0h1M30 152h1m6 0h1m15 0h1m5 0h1m25 0h1M18 153h1m21 0h1m56 0h1M10 154h1m2 0h1m53 0h2M32 155h1m32 0h1m3 0h1M49 156h1m21 0h1m18 0h1M23 157h1m3 0h2m28 0h2m17 0h1M1 158h1m18 0h1m29 0h1m9 0h1m9 0h1m19 0h1M5 159h1m31 0h1m8 0h1m7 0h1m7 0h1m15 0h2M33 160h1m40 0h1M94 161h1M23 162h1m24 0h1M45 163h1m16 0h1M21 164h1m1 0h1m24 0h1M10 165h1m40 0h1M30 166h1m34 0h1M26 167h1m3 0h2m6 0h1M25 168h1m6 0h1m2 0h1m6 0h1m28 0h1m1 0h1M7 169h2m7 0h1m7 0h1m4 0h1m38 0h1m3 0h1m3 0h1M8 170h1m45 0h1m13 0h1M16 171h1m2 0h1m25 0h1M51 172h1m2 0h1M18 173h1m12 0h1m12 0h1m4 0h1m33 0h1m26 0h1M22 174h1m25 0h1m10 0h1M0 175h1m4 0h1m9 0h1m26 0h1m6 0h1m18 0h2M8 176h1m27 0h1m10 0h1m9 0h1M12 177h1m1 0h1m4 0h1m14 0h1m7 0h1m2 0h1m56 0h1M14 178h1m6 0h2m4 0h1m5 0h1m12 0h1m3 0h2m12 0h1m10 0h2M9 180h1m15 0h1m20 0h1m1 0h1m16 0h1M7 181h1m4 0h1m35 0h1m14 0h1M43 182h1M2 183h1m8 0h1m37 0h1m23 0h1M44 184h1m24 0h1m19 0h1M9 185h1m27 0h1M4 186h1m5 0h1m22 0h1m25 0h1m6 0h1m17 0h1M18 187h1m18 0h1M10 188h1m30 0h2m6 0h1m3 0h1M46 189h1M1 190h1m1 0h1m51 0h1m5 0h1m21 0h1M15 191h1m32 0h1m1 0h1m6 0h1M5 192h1m22 0h1m4 0h1m4 0h1m17 0h1m1 0h1m13 0h1m13 0h1M9 193h1m25 0h1M1 194h1m34 0h1m32 0h1M10 195h1m7 0h1m19 0h1m10 0h1M1 196h1m12 0h1m25 0h1M30 197h1m10 0h1m23 0h1M3 198h1m1 0h1m23 0h1m29 0h1M15 199h1m18 0h1m4 0h1M23 200h1m10 0h1m6 0h1m15 0h1M16 201h1m28 0h1M14 202h1m29 0h1m25 0h1M6 203h1m37 0h1m12 0h1m3 0h1m2 0h1m10 0h1m30 0h1"/><path stroke="#000" d="M99 24h1M1 38h1M113 39h1M0 47h1M0 49h1M94 51h1m6 0h1M98 52h1M104 56h2m5 0h1M93 57h1m20 0h1M1 59h1m76 0h1m20 0h1m8 0h1M0 60h1m108 0h1M0 61h2m117 0h1M0 62h1M87 64h1m3 0h1m5 0h2M38 65h1m26 0h1m24 0h1m5 0h1m5 0h3m13 0h1M61 66h2m3 0h1m23 0h2m6 0h1m3 0h1m20 0h1M49 67h1m29 0h1m4 0h1m1 0h3m12 0h2m4 0h1m4 0h1m5 0h1M70 68h1m7 0h1m4 0h2m3 0h1m1 0h1m3 0h1m3 0h1m1 0h1m4 0h1m2 0h1M63 69h1m17 0h1m4 0h2m11 0h2m12 0h1m3 0h1M59 70h1m8 0h2m8 0h1m1 0h1m3 0h2m5 0h2m21 0h1M67 71h1m9 0h2m6 0h1m1 0h1m1 0h1m5 0h1m1 0h1m1 0h1m5 0h1m6 0h1M38 72h1m32 0h1m2 0h2m2 0h1m6 0h1m11 0h1m9 0h1M50 73h1m5 0h1m10 0h1m1 0h1m2 0h2m3 0h1m2 0h1m3 0h1m1 0h2m1 0h1m2 0h1m6 0h1m2 0h1m6 0h2m2 0h1M48 74h1m6 0h2m2 0h1m3 0h1m1 0h2m1 0h1m1 0h1m1 0h1m7 0h1m7 0h1m1 0h1m2 0h2m3 0h1m1 0h1m3 0h1m3 0h1M0 75h1m44 0h1m2 0h3m1 0h1m6 0h2m4 0h1m1 0h1m1 0h4m1 0h3m1 0h2m2 0h2m2 0h1m1 0h1m2 0h1m1 0h3m1 0h2m1 0h1m4 0h1M26 76h1m5 0h1m14 0h1m1 0h1m3 0h1m5 0h2m1 0h1m2 0h3m1 0h1m5 0h3m4 0h1m1 0h3m1 0h2m1 0h1m1 0h1m1 0h2m5 0h1m2 0h1m5 0h1M49 77h1m3 0h1m1 0h2m1 0h2m2 0h1m1 0h1m3 0h2m1 0h5m1 0h3m1 0h3m2 0h2m3 0h1m2 0h1m1 0h2m2 0h1m1 0h1m1 0h1m3 0h1M0 78h2m40 0h1m5 0h1m1 0h1m4 0h3m4 0h1m1 0h2m3 0h1m1 0h2m2 0h1m2 0h1m1 0h5m1 0h1m1 0h2m1 0h2m2 0h1m8 0h1M0 79h1m21 0h1m4 0h1m16 0h2m3 0h2m2 0h1m1 0h1m1 0h3m1 0h2m4 0h3m2 0h1m7 0h1m3 0h4m4 0h1m1 0h2m1 0h1m1 0h1M16 80h1m6 0h1m16 0h1m1 0h1m1 0h1m4 0h1m1 0h1m3 0h1m2 0h2m2 0h2m1 0h3m1 0h8m2 0h3m1 0h2m1 0h3m1 0h2m2 0h3m7 0h1M20 81h1m7 0h1m14 0h1m1 0h1m2 0h2m1 0h4m1 0h1m3 0h4m1 0h2m1 0h4m1 0h9m2 0h2m2 0h2m1 0h2m1 0h1m1 0h2m3 0h1M31 82h1m1 0h1m10 0h2m1 0h3m1 0h1m2 0h9m3 0h1m1 0h3m1 0h2m2 0h1m1 0h11m2 0h4m5 0h1M0 83h1m16 0h1m3 0h1m1 0h1m4 0h1m3 0h1m4 0h1m1 0h1m2 0h2m1 0h1m1 0h1m1 0h1m1 0h1m1 0h2m2 0h6m1 0h2m1 0h1m2 0h1m1 0h1m1 0h2m1 0h1m1 0h1m1 0h1m2 0h7m1 0h2m4 0h1m3 0h1m8 0h1M6 84h1m4 0h2m6 0h1m1 0h2m2 0h2m2 0h4m1 0h2m3 0h2m1 0h2m4 0h1m1 0h7m1 0h7m2 0h2m1 0h4m1 0h2m1 0h8m2 0h8m5 0h2M0 85h2m3 0h1m7 0h1m5 0h2m3 0h1m1 0h2m3 0h1m9 0h3m2 0h3m2 0h2m1 0h3m2 0h2m2 0h6m1 0h4m1 0h4m1 0h1m1 0h1m5 0h3m1 0h1m2 0h1m2 0h1m26 0h1M0 86h2m8 0h1m6 0h1m4 0h1m2 0h1m2 0h1m1 0h1m1 0h1m1 0h2m6 0h1m2 0h1m1 0h5m2 0h6m1 0h8m1 0h1m1 0h5m1 0h1m1 0h2m1 0h1m2 0h1m2 0h2m4 0h1m3 0h1m4 0h1M24 87h1m3 0h1m3 0h4m3 0h1m1 0h1m2 0h6m2 0h2m2 0h3m1 0h2m1 0h8m1 0h11m2 0h4m1 0h2m1 0h1m2 0h1m1 0h1m1 0h1M13 88h1m3 0h2m2 0h1m1 0h1m1 0h1m3 0h3m7 0h2m4 0h3m3 0h3m1 0h5m1 0h4m1 0h3m1 0h5m2 0h8m4 0h1m1 0h4m1 0h1m2 0h2M0 89h2m4 0h1m1 0h1m10 0h1m1 0h2m1 0h3m3 0h2m2 0h1m1 0h1m1 0h1m2 0h3m2 0h1m1 0h1m2 0h1m1 0h1m1 0h2m1 0h1m1 0h1m1 0h6m1 0h2m1 0h4m2 0h2m2 0h2m2 0h1m4 0h1m3 0h1m8 0h1M0 90h1m15 0h1m7 0h2m3 0h3m1 0h2m2 0h3m1 0h1m1 0h1m1 0h1m2 0h7m2 0h3m3 0h5m1 0h3m1 0h2m1 0h2m2 0h1m1 0h4m1 0h3m2 0h1m3 0h1m5 0h1M0 91h1m10 0h1m6 0h1m6 0h2m7 0h3m2 0h5m1 0h4m1 0h4m1 0h2m1 0h6m1 0h6m1 0h8m1 0h1m4 0h1m1 0h1m3 0h1M1 92h1m6 0h1m3 0h1m1 0h2m1 0h1m1 0h1m4 0h3m5 0h1m2 0h1m1 0h1m3 0h3m1 0h1m4 0h5m1 0h7m1 0h11m2 0h3m1 0h3m10 0h2m1 0h1M0 93h1m8 0h1m2 0h1m1 0h4m2 0h5m1 0h3m2 0h2m1 0h1m2 0h1m1 0h4m1 0h1m1 0h1m1 0h4m1 0h8m1 0h5m1 0h2m1 0h1m1 0h1m1 0h3m1 0h1m1 0h1m1 0h1m1 0h1m1 0h1m1 0h1m5 0h1M0 94h1m1 0h1m15 0h2m1 0h1m1 0h2m2 0h2m1 0h2m4 0h4m1 0h5m1 0h1m1 0h4m1 0h8m1 0h2m2 0h3m1 0h1m1 0h1m1 0h2m1 0h2m1 0h1m1 0h3m4 0h1m1 0h1M7 95h1m8 0h1m1 0h1m1 0h3m2 0h1m1 0h1m1 0h2m2 0h1m1 0h1m3 0h3m1 0h11m1 0h3m1 0h2m1 0h2m1 0h6m1 0h3m1 0h1m3 0h1m4 0h3m16 0h1M0 96h1m3 0h1m8 0h1m4 0h1m1 0h5m3 0h1m1 0h2m2 0h1m1 0h11m2 0h11m3 0h2m1 0h3m2 0h4m1 0h3m1 0h1m1 0h2m3 0h2M1 97h1m7 0h1m10 0h1m1 0h2m1 0h5m1 0h1m2 0h4m2 0h6m1 0h5m2 0h2m1 0h2m1 0h3m1 0h2m2 0h2m2 0h1m1 0h5m3 0h1m1 0h1m1 0h1m2 0h2m1 0h1m4 0h1m13 0h1M0 98h2m12 0h1m7 0h1m2 0h2m5 0h3m1 0h3m1 0h2m1 0h1m2 0h2m3 0h2m1 0h4m1 0h2m2 0h3m5 0h3m1 0h1m28 0h1M5 99h1m3 0h2m2 0h1m1 0h1m2 0h2m1 0h1m1 0h1m1 0h2m2 0h5m1 0h4m1 0h7m2 0h1m2 0h7m1 0h3m1 0h1m1 0h1m2 0h1m6 0h1m1 0h2m2 0h1M0 100h2m10 0h1m4 0h3m1 0h2m2 0h2m1 0h1m3 0h5m1 0h4m1 0h2m2 0h1m1 0h3m1 0h1m2 0h2m1 0h1m2 0h1m1 0h4m3 0h1m2 0h1m1 0h1m13 0h1m13 0h1m9 0h1M1 101h1m6 0h1m7 0h2m3 0h2m1 0h17m2 0h2m1 0h2m3 0h2m1 0h4m1 0h2m1 0h1m1 0h1m2 0h1m1 0h1m3 0h1m4 0h1m25 0h1m4 0h1M0 102h2m10 0h2m2 0h6m1 0h2m1 0h5m1 0h3m2 0h3m2 0h8m1 0h3m1 0h1m3 0h2m1 0h1m1 0h3m2 0h2m5 0h1m2 0h1m8 0h1m5 0h1M0 103h2m3 0h3m2 0h1m5 0h4m2 0h3m1 0h2m1 0h4m1 0h2m1 0h4m1 0h2m1 0h1m2 0h2m2 0h1m1 0h5m2 0h1m1 0h1m4 0h1m4 0h2m2 0h1m6 0h1m8 0h1m1 0h1M0 104h1m6 0h1m4 0h9m3 0h1m1 0h1m3 0h2m2 0h6m1 0h3m1 0h1m1 0h5m2 0h1m2 0h1m3 0h3m3 0h1m5 0h2m1 0h2m12 0h1M0 105h2m3 0h1m9 0h1m2 0h5m1 0h3m1 0h3m1 0h4m1 0h1m4 0h2m1 0h3m1 0h2m3 0h1m2 0h2m2 0h1m1 0h4m2 0h2m3 0h1m6 0h1m3 0h1m5 0h1m14 0h1M0 106h2m4 0h1m1 0h2m6 0h2m2 0h1m2 0h6m1 0h4m1 0h8m3 0h6m2 0h1m1 0h1m3 0h1m1 0h2m18 0h1m1 0h1M0 107h2m11 0h1m3 0h1m3 0h1m2 0h4m1 0h3m1 0h1m2 0h1m1 0h4m5 0h5m1 0h1m5 0h3m2 0h2m24 0h1m1 0h1m3 0h3M0 108h1m17 0h2m2 0h2m1 0h2m2 0h5m1 0h1m4 0h1m1 0h3m4 0h1m1 0h1m5 0h5m1 0h3m1 0h1m5 0h1m4 0h1m12 0h1M0 109h2m3 0h1m6 0h3m5 0h2m2 0h8m1 0h2m1 0h4m1 0h1m1 0h3m5 0h1m1 0h2m3 0h2m2 0h1m1 0h2m3 0h1m2 0h1m3 0h3m2 0h1m5 0h1m28 0h1M0 110h2m2 0h1m8 0h1m5 0h1m1 0h2m1 0h1m1 0h2m1 0h1m1 0h1m5 0h3m2 0h2m1 0h1m9 0h1m7 0h1m9 0h1m8 0h2m3 0h1m4 0h2m8 0h1m1 0h1M0 111h1m16 0h1m7 0h1m1 0h3m1 0h3m3 0h2m1 0h2m4 0h1m2 0h2m1 0h1m2 0h2m1 0h1m3 0h1m4 0h1m12 0h1m3 0h2m8 0h1M0 112h1m2 0h1m8 0h1m1 0h3m1 0h1m7 0h1m3 0h2m1 0h1m1 0h2m2 0h1m2 0h1m1 0h1m1 0h2m2 0h1m6 0h1m2 0h3m7 0h1m6 0h4m4 0h3m3 0h1m10 0h1m3 0h1m3 0h1M0 113h1m4 0h1m6 0h2m1 0h1m5 0h1m1 0h1m1 0h2m3 0h2m8 0h1m3 0h1m1 0h3m2 0h4m7 0h1m3 0h1m3 0h2m1 0h1m1 0h2m1 0h1m3 0h3m4 0h2M0 114h1m1 0h1m6 0h1m2 0h1m15 0h5m5 0h1m1 0h2m1 0h5m2 0h2m2 0h1m5 0h2m1 0h2m2 0h1m1 0h1m4 0h2m1 0h1m1 0h3m2 0h1m1 0h2m23 0h1m1 0h1M0 115h2m13 0h1m10 0h1m2 0h1m1 0h6m2 0h1m1 0h1m2 0h1m5 0h2m1 0h1m2 0h4m3 0h2m4 0h1m6 0h1m2 0h3m1 0h2m1 0h2m14 0h1M0 116h2m5 0h1m7 0h2m2 0h2m2 0h1m2 0h1m3 0h2m3 0h3m3 0h1m4 0h1m3 0h1m2 0h1m3 0h2m2 0h2m2 0h1m2 0h4m1 0h9m5 0h1M1 117h1m4 0h1m9 0h1m7 0h1m1 0h1m7 0h1m7 0h4m2 0h1m2 0h1m1 0h3m1 0h3m1 0h4m5 0h1m3 0h1m1 0h1m2 0h2m2 0h1m1 0h1m1 0h2m7 0h1m10 0h1m1 0h1m30 0h1M0 118h2m1 0h1m10 0h1m2 0h1m12 0h2m1 0h1m1 0h5m1 0h8m3 0h2m2 0h1m2 0h2m3 0h1m1 0h2m8 0h1m1 0h1m1 0h7m5 0h1M0 119h1m3 0h1m18 0h1m1 0h1m1 0h1m4 0h1m3 0h2m2 0h2m1 0h1m1 0h2m1 0h2m2 0h1m6 0h2m1 0h1m2 0h2m2 0h1m2 0h3m3 0h2m1 0h3m1 0h1m6 0h2m6 0h1m7 0h1M0 120h2m3 0h1m4 0h1m2 0h1m3 0h1m9 0h1m6 0h2m5 0h1m2 0h2m2 0h1m1 0h1m1 0h3m3 0h1m3 0h1m5 0h1m4 0h3m2 0h1m1 0h1m1 0h3m3 0h1m2 0h2m3 0h1m1 0h1M15 121h1m2 0h1m4 0h2m4 0h1m3 0h1m3 0h1m4 0h1m5 0h4m2 0h3m2 0h3m4 0h1m2 0h2m1 0h1m1 0h1m1 0h1m1 0h2m1 0h3m2 0h2m2 0h1M0 122h2m15 0h1m1 0h1m5 0h1m2 0h2m6 0h1m2 0h1m2 0h1m1 0h1m6 0h1m1 0h1m3 0h1m1 0h1m1 0h1m2 0h1m3 0h1m3 0h3m1 0h2m1 0h4m3 0h1m2 0h1m7 0h1m14 0h1M0 123h2m1 0h1m5 0h1m8 0h2m1 0h1m7 0h2m2 0h2m2 0h1m6 0h2m1 0h1m1 0h2m1 0h1m2 0h1m1 0h1m1 0h1m1 0h2m3 0h1m4 0h4m1 0h4m1 0h2m1 0h1m1 0h3m1 0h1m11 0h1m2 0h1M0 124h1m7 0h1m18 0h1m4 0h1m2 0h1m1 0h3m2 0h4m1 0h1m1 0h5m1 0h5m1 0h1m1 0h1m3 0h1m2 0h2m1 0h8m1 0h2m1 0h1m2 0h1m5 0h1m14 0h1M0 125h2m1 0h1m1 0h1m7 0h1m3 0h1m5 0h1m1 0h1m9 0h1m3 0h1m4 0h2m1 0h3m3 0h2m3 0h1m3 0h4m1 0h3m1 0h1m1 0h1m1 0h2m1 0h1m2 0h1m6 0h2m1 0h1M0 126h1m13 0h1m4 0h1m2 0h1m4 0h1m2 0h2m1 0h1m1 0h1m2 0h1m8 0h2m2 0h2m1 0h1m2 0h3m2 0h1m2 0h3m1 0h3m1 0h3m2 0h1m2 0h1m2 0h3m14 0h1M0 127h1m12 0h1m5 0h3m3 0h1m3 0h2m2 0h1m2 0h2m1 0h1m2 0h1m3 0h3m1 0h5m1 0h3m2 0h1m1 0h7m2 0h1m1 0h5m2 0h2m1 0h2m3 0h2M0 128h2m12 0h1m4 0h1m1 0h4m1 0h2m3 0h1m2 0h2m4 0h1m4 0h1m1 0h1m1 0h6m1 0h4m1 0h1m1 0h1m1 0h5m1 0h5m1 0h2m1 0h1m2 0h1m22 0h1m14 0h1M0 129h2m9 0h1m1 0h1m3 0h1m1 0h1m3 0h1m4 0h1m5 0h5m2 0h4m1 0h2m3 0h2m1 0h1m12 0h2m1 0h5m1 0h2m3 0h1m5 0h1m4 0h1m4 0h1m4 0h1m4 0h1M0 130h1m6 0h1m3 0h2m3 0h1m3 0h1m3 0h1m3 0h6m3 0h4m1 0h1m1 0h3m2 0h6m1 0h5m2 0h1m2 0h5m1 0h2m1 0h3m1 0h3m5 0h1m4 0h2m6 0h1m6 0h1m5 0h1M0 131h2m4 0h1m4 0h1m4 0h2m7 0h3m1 0h1m4 0h1m1 0h1m1 0h2m2 0h1m1 0h1m1 0h1m3 0h2m1 0h2m2 0h2m2 0h3m1 0h9m2 0h2m3 0h2m7 0h1m13 0h1m3 0h1M0 132h1m9 0h2m2 0h1m1 0h1m3 0h1m11 0h4m2 0h1m2 0h1m6 0h1m2 0h1m1 0h2m1 0h2m4 0h2m1 0h7m1 0h5m1 0h1m2 0h1m1 0h1m5 0h1m3 0h1m4 0h1M1 133h1m4 0h1m13 0h1m1 0h1m5 0h10m2 0h4m3 0h1m1 0h2m4 0h2m2 0h1m2 0h3m1 0h2m2 0h7m1 0h1m2 0h2m3 0h1m15 0h1m3 0h1M0 134h1m2 0h1m2 0h1m6 0h1m2 0h1m6 0h1m2 0h1m5 0h2m2 0h1m2 0h1m3 0h3m2 0h3m1 0h1m1 0h1m1 0h2m1 0h11m2 0h6m1 0h2m2 0h1m2 0h1m8 0h1M0 135h2m3 0h1m5 0h1m3 0h1m1 0h1m1 0h1m10 0h1m8 0h2m1 0h5m2 0h1m2 0h2m2 0h2m3 0h6m1 0h2m1 0h4m1 0h3m4 0h2m1 0h1m4 0h1m6 0h1M0 136h1m2 0h2m5 0h1m5 0h3m3 0h1m3 0h1m1 0h3m1 0h1m6 0h2m2 0h2m1 0h1m10 0h1m1 0h1m2 0h2m1 0h4m6 0h2m1 0h1m2 0h1m1 0h2m7 0h1M0 137h2m12 0h1m1 0h1m2 0h1m5 0h1m1 0h1m3 0h1m2 0h1m3 0h1m1 0h2m3 0h3m1 0h2m1 0h2m3 0h2m1 0h1m1 0h2m2 0h10m2 0h1m2 0h1m3 0h3m2 0h1m10 0h1m25 0h1M0 138h1m8 0h1m9 0h1m1 0h1m8 0h1m3 0h2m1 0h1m1 0h1m1 0h3m2 0h1m1 0h1m1 0h1m1 0h2m1 0h1m4 0h5m1 0h1m1 0h2m2 0h2m2 0h3m3 0h1m7 0h1m1 0h2m15 0h2M1 139h1m19 0h1m2 0h1m2 0h2m1 0h1m2 0h2m4 0h1m2 0h1m1 0h1m1 0h2m5 0h1m1 0h1m2 0h4m3 0h6m1 0h1m1 0h1m1 0h1m5 0h1m5 0h1m6 0h1m28 0h1M0 140h2m6 0h1m2 0h2m1 0h2m17 0h1m1 0h4m2 0h4m4 0h1m2 0h1m1 0h1m4 0h1m1 0h3m1 0h1m1 0h2m1 0h2m3 0h3m2 0h1m2 0h1m7 0h1m7 0h1M0 141h1m10 0h1m5 0h3m2 0h2m3 0h1m4 0h2m1 0h1m5 0h1m6 0h1m1 0h2m3 0h1m1 0h1m1 0h10m1 0h4m1 0h2m2 0h1m6 0h1m9 0h1m7 0h1M0 142h2m4 0h1m2 0h1m4 0h1m4 0h2m2 0h2m3 0h1m2 0h2m1 0h1m2 0h6m5 0h4m1 0h4m1 0h2m2 0h6m2 0h2m2 0h2m2 0h1m1 0h1m2 0h2m3 0h1m6 0h1m31 0h1M1 143h1m10 0h2m8 0h1m4 0h3m1 0h1m1 0h1m1 0h1m1 0h2m1 0h6m1 0h4m2 0h5m1 0h5m1 0h4m1 0h1m1 0h2m1 0h2m1 0h1m5 0h1m2 0h1m7 0h1m6 0h1M0 144h1m2 0h1m13 0h1m2 0h1m1 0h3m4 0h2m2 0h2m5 0h1m1 0h1m6 0h2m5 0h6m1 0h1m1 0h1m1 0h1m1 0h2m1 0h1m1 0h1m2 0h1m1 0h2m11 0h1m18 0h1M0 145h2m3 0h1m7 0h1m6 0h1m9 0h1m2 0h1m1 0h2m3 0h1m2 0h2m2 0h1m4 0h5m2 0h1m1 0h1m2 0h2m1 0h3m5 0h2m1 0h1m3 0h1m3 0h1m3 0h1M2 146h1m8 0h1m16 0h1m2 0h1m4 0h1m1 0h4m5 0h1m2 0h1m3 0h4m1 0h4m1 0h1m1 0h3m1 0h2m4 0h1m2 0h1m3 0h1m9 0h1m2 0h1M0 147h1m19 0h1m2 0h1m3 0h2m2 0h1m1 0h1m1 0h1m3 0h1m1 0h2m1 0h1m1 0h1m6 0h2m1 0h3m1 0h2m1 0h1m3 0h1m1 0h2m2 0h1m2 0h1m1 0h1m5 0h1m1 0h1m3 0h1m7 0h1m6 0h1M0 148h1m3 0h1m11 0h1m6 0h2m8 0h1m6 0h1m2 0h1m1 0h1m1 0h2m1 0h1m2 0h2m2 0h1m1 0h1m2 0h1m2 0h1m3 0h1m11 0h1m2 0h2m7 0h1m2 0h1m7 0h1M0 149h1m18 0h1m21 0h5m1 0h1m1 0h1m1 0h4m2 0h2m1 0h2m2 0h3m7 0h2m1 0h1m1 0h1m19 0h2m5 0h1M0 150h2m3 0h1m5 0h1m1 0h1m4 0h2m3 0h1m4 0h1m1 0h1m5 0h1m2 0h1m1 0h1m1 0h1m2 0h1m4 0h1m1 0h4m1 0h1m3 0h2m2 0h3m2 0h1m2 0h1m2 0h2m4 0h3m6 0h1M0 151h2m24 0h1m6 0h1m3 0h1m1 0h1m6 0h1m2 0h1m1 0h1m1 0h1m2 0h2m5 0h1m1 0h1m6 0h2m2 0h3m5 0h1M0 152h2m24 0h1m12 0h1m3 0h1m1 0h2m2 0h4m3 0h1m3 0h1m2 0h3m3 0h1m3 0h1m1 0h4m3 0h1m1 0h1m1 0h1m4 0h1M0 153h3m7 0h1m10 0h2m1 0h2m1 0h2m3 0h3m6 0h1m1 0h1m1 0h1m1 0h3m1 0h3m3 0h1m2 0h1m2 0h2m6 0h2m1 0h2m2 0h2m5 0h1m2 0h1m1 0h1m2 0h2m1 0h1m17 0h1M7 154h1m14 0h2m6 0h1m4 0h1m7 0h1m2 0h1m1 0h1m4 0h1m2 0h2m4 0h1m17 0h1m1 0h1m4 0h1M0 155h1m2 0h1m20 0h1m2 0h1m3 0h1m2 0h1m1 0h1m4 0h3m1 0h2m3 0h1m1 0h5m4 0h1m1 0h1m2 0h1m12 0h1m2 0h1m8 0h1m1 0h1m6 0h1M0 156h2m13 0h1m1 0h2m2 0h2m2 0h3m3 0h2m5 0h1m2 0h1m5 0h1m4 0h5m1 0h1m2 0h2m1 0h1m15 0h2m29 0h1M0 157h2m20 0h1m1 0h2m5 0h1m1 0h1m4 0h1m4 0h1m1 0h2m1 0h1m3 0h2m1 0h2m4 0h1m3 0h2m8 0h1m12 0h1m4 0h1m5 0h1M0 158h1m10 0h1m5 0h1m4 0h1m1 0h1m8 0h1m1 0h1m1 0h1m5 0h1m4 0h2m1 0h1m1 0h1m2 0h2m3 0h1m1 0h1m1 0h1m3 0h1m1 0h1m1 0h2m1 0h1m5 0h2m5 0h1m15 0h1M0 159h2m13 0h1m2 0h1m1 0h2m4 0h3m2 0h1m1 0h1m5 0h1m2 0h1m4 0h2m3 0h2m2 0h1m2 0h2m2 0h1m5 0h1m3 0h1m1 0h1m31 0h1M0 160h1m11 0h1m5 0h1m8 0h1m7 0h1m5 0h1m10 0h2m6 0h1m5 0h2m7 0h2m7 0h1m2 0h1m8 0h1M0 161h1m18 0h1m4 0h1m1 0h1m3 0h2m1 0h1m1 0h1m1 0h1m2 0h1m1 0h2m3 0h1m7 0h1m1 0h1m3 0h3M0 162h2m5 0h1m14 0h1m3 0h1m2 0h1m4 0h2m5 0h1m2 0h1m1 0h1m5 0h1m6 0h2m1 0h1m3 0h1m4 0h1m1 0h1m1 0h1m1 0h1m5 0h1m16 0h1M0 163h1m3 0h1m4 0h1m7 0h1m2 0h1m3 0h1m1 0h1m7 0h3m6 0h1m4 0h1m1 0h1m1 0h1m1 0h1m2 0h1m9 0h1m8 0h1m12 0h1m15 0h1M7 164h1m5 0h1m1 0h1m3 0h2m5 0h1m9 0h1m14 0h2m7 0h1m10 0h1m1 0h2m1 0h1m21 0h1m5 0h1M0 165h1m10 0h1m8 0h4m2 0h1m5 0h1m1 0h1m1 0h2m3 0h1m6 0h1m5 0h1m3 0h3m1 0h1m1 0h1m1 0h1M0 166h2m5 0h1m5 0h1m2 0h1m1 0h1m6 0h1m1 0h1m1 0h1m2 0h2m4 0h1m1 0h2m3 0h2m4 0h2m7 0h1m2 0h1m6 0h1m7 0h1M0 167h2m8 0h1m3 0h1m1 0h2m1 0h1m1 0h1m2 0h1m2 0h3m2 0h1m1 0h1m1 0h1m4 0h1m3 0h1m2 0h1m5 0h1m2 0h2m4 0h1m4 0h1m4 0h1m2 0h1m2 0h2M0 168h2m3 0h2m2 0h1m2 0h1m1 0h1m3 0h2m1 0h1m1 0h1m2 0h1m2 0h1m1 0h1m1 0h2m1 0h2m3 0h1m5 0h1m5 0h1m5 0h1m3 0h1m1 0h2m21 0h1M0 169h2m7 0h3m5 0h2m1 0h4m3 0h1m2 0h2m1 0h2m4 0h1m4 0h1m6 0h1m5 0h1m1 0h2m1 0h1M0 170h3m9 0h1m2 0h1m4 0h1m4 0h6m1 0h5m1 0h1m1 0h1m8 0h3m9 0h1m2 0h1m16 0h1M0 171h3m3 0h1m2 0h3m1 0h1m1 0h1m1 0h1m3 0h1m1 0h12m1 0h2m1 0h1m2 0h1m3 0h1m1 0h1m2 0h1m3 0h1m4 0h1m4 0h4m3 0h1m2 0h1M0 172h1m4 0h1m4 0h2m2 0h2m1 0h9m1 0h3m3 0h5m2 0h4m2 0h2m2 0h1m1 0h1m2 0h1m2 0h1m15 0h1m1 0h1m19 0h1M0 173h2m3 0h2m2 0h2m2 0h2m1 0h1m2 0h2m1 0h3m2 0h1m2 0h1m1 0h1m1 0h3m1 0h3m1 0h2m1 0h2m4 0h1m1 0h2m1 0h1m6 0h1m25 0h1M0 174h1m7 0h3m1 0h2m1 0h3m1 0h3m1 0h4m1 0h1m1 0h11m2 0h3m3 0h1m4 0h1m2 0h1m3 0h1m6 0h1m2 0h1m7 0h1m32 0h1M1 175h3m4 0h7m2 0h14m1 0h6m2 0h1m2 0h1m6 0h2m3 0h1m2 0h2m1 0h1m1 0h1m2 0h1m3 0h1M0 176h2m2 0h1m1 0h1m3 0h1m1 0h4m1 0h11m1 0h7m1 0h5m3 0h1m2 0h3m3 0h1m8 0h1m1 0h1m1 0h1M1 177h1m4 0h1m1 0h1m1 0h2m1 0h1m1 0h1m1 0h2m1 0h14m1 0h2m1 0h1m1 0h2m6 0h1m2 0h2m1 0h1m2 0h1m1 0h1m2 0h2m22 0h1M0 178h2m2 0h2m1 0h3m1 0h3m1 0h3m5 0h4m1 0h5m1 0h8m1 0h2m4 0h1m3 0h2m4 0h2m1 0h1m2 0h1m2 0h2M0 179h2m1 0h1m1 0h1m2 0h6m1 0h23m1 0h8m6 0h1m1 0h1m6 0h1m8 0h2m7 0h1M0 180h4m1 0h1m1 0h1m2 0h15m1 0h14m1 0h5m1 0h1m1 0h6m1 0h1m3 0h1m7 0h1m4 0h1M0 181h2m2 0h3m1 0h4m1 0h23m1 0h9m1 0h1m1 0h4m2 0h1m8 0h1m5 0h1m6 0h1M0 182h1m1 0h2m1 0h4m1 0h3m1 0h1m1 0h11m1 0h15m1 0h2m1 0h2m1 0h2m2 0h2m4 0h2m2 0h1M0 183h2m1 0h1m1 0h3m1 0h2m1 0h1m1 0h15m1 0h10m1 0h1m1 0h3m1 0h1m2 0h4m6 0h1m6 0h2M0 184h2m1 0h5m1 0h1m1 0h1m1 0h31m1 0h1m1 0h2m2 0h1m1 0h2m4 0h2m11 0h1M0 185h8m2 0h1m1 0h18m1 0h5m2 0h1m1 0h1m1 0h1m1 0h6m1 0h2m8 0h1m6 0h1m11 0h1m27 0h1M0 186h1m1 0h2m3 0h2m2 0h22m1 0h4m1 0h3m2 0h3m2 0h4m1 0h2m1 0h1m6 0h2m1 0h1M0 187h1m1 0h1m3 0h1m1 0h2m1 0h5m1 0h1m1 0h18m1 0h2m2 0h2m2 0h1m3 0h2m4 0h1m6 0h1m1 0h1m8 0h1m6 0h1M0 188h3m2 0h1m1 0h3m1 0h8m1 0h21m3 0h1m1 0h3m1 0h2m5 0h1m7 0h1M0 189h40m1 0h3m3 0h1m1 0h3m1 0h1m1 0h1m1 0h2m4 0h1m6 0h1m4 0h1m23 0h1m3 0h1M0 190h1m3 0h37m1 0h4m1 0h6m3 0h2m2 0h1m5 0h1m2 0h1m8 0h1m6 0h1M0 191h2m1 0h1m1 0h3m1 0h6m1 0h28m1 0h3m5 0h2m3 0h2m2 0h1m8 0h1m38 0h1M0 192h1m2 0h2m1 0h1m1 0h7m1 0h12m1 0h4m1 0h4m1 0h6m1 0h1m2 0h3m2 0h1m7 0h1m2 0h1m12 0h1M0 193h1m3 0h5m1 0h6m1 0h18m1 0h2m1 0h6m1 0h1m5 0h1m1 0h2m5 0h1m4 0h1m4 0h2M0 194h1m2 0h4m1 0h28m2 0h4m3 0h3m1 0h4m1 0h1m6 0h1m4 0h1m36 0h1M0 195h1m2 0h3m1 0h1m1 0h1m1 0h1m1 0h5m1 0h16m1 0h2m1 0h5m6 0h2m7 0h1m12 0h1M0 196h1m2 0h1m1 0h1m1 0h1m1 0h1m1 0h1m1 0h1m1 0h2m1 0h22m1 0h4m1 0h2m1 0h2m2 0h1m4 0h1m6 0h2m12 0h1M0 197h1m2 0h2m1 0h2m1 0h1m1 0h10m2 0h7m1 0h10m1 0h2m1 0h3m6 0h1m1 0h1m3 0h1M0 198h1m1 0h1m3 0h3m1 0h1m2 0h13m1 0h2m1 0h14m1 0h4M0 199h2m1 0h1m1 0h1m1 0h2m1 0h3m1 0h1m1 0h6m1 0h11m1 0h1m2 0h1m1 0h3m1 0h5m3 0h1m6 0h1m4 0h1M0 200h2m1 0h1m2 0h1m2 0h1m2 0h4m2 0h5m1 0h1m1 0h8m1 0h2m2 0h1m3 0h1m1 0h2m2 0h1m2 0h1m1 0h2m4 0h1m21 0h1M0 201h2m1 0h1m1 0h1m4 0h6m1 0h6m1 0h6m1 0h1m1 0h2m1 0h2m1 0h1m1 0h1m2 0h1m3 0h1m18 0h2m13 0h1M0 202h8m2 0h4m1 0h29m1 0h2m2 0h1m1 0h1m1 0h1m1 0h3m1 0h1m2 0h3m4 0h1m4 0h1m1 0h1m18 0h1M0 203h1m1 0h1m2 0h1m2 0h7m1 0h27m2 0h3m1 0h3m2 0h1m1 0h1m3 0h1m4 0h2m4 0h1"/></g>
<rect x="138.7" y="926.7" width="383.0" height="408.3" fill="none" stroke="#787878" stroke-width="1.8"/>
<path d="M138.7 1335.0v6.5M138.7 1335.0h-6.5M167.5 1335.0v3M138.7 1304.3h-3M184.4 1335.0v3M138.7 1286.3h-3M196.3 1335.0v3M138.7 1273.5h-3M205.6 1335.0v3M138.7 1263.7h-3M213.2 1335.0v3M138.7 1255.6h-3M219.6 1335.0v3M138.7 1248.7h-3M225.2 1335.0v3M138.7 1242.8h-3M230.1 1335.0v3M138.7 1237.6h-3M234.4 1335.0v6.5M138.7 1232.9h-6.5M263.3 1335.0v3M138.7 1202.2h-3M280.1 1335.0v3M138.7 1184.2h-3M292.1 1335.0v3M138.7 1171.5h-3M301.4 1335.0v3M138.7 1161.6h-3M309.0 1335.0v3M138.7 1153.5h-3M315.4 1335.0v3M138.7 1146.7h-3M320.9 1335.0v3M138.7 1140.7h-3M325.8 1335.0v3M138.7 1135.5h-3M330.2 1335.0v6.5M138.7 1130.8h-6.5M359.0 1335.0v3M138.7 1100.1h-3M375.9 1335.0v3M138.7 1082.1h-3M387.8 1335.0v3M138.7 1069.4h-3M397.1 1335.0v3M138.7 1059.5h-3M404.7 1335.0v3M138.7 1051.4h-3M411.1 1335.0v3M138.7 1044.6h-3M416.7 1335.0v3M138.7 1038.7h-3M421.6 1335.0v3M138.7 1033.4h-3M426.0 1335.0v6.5M138.7 1028.8h-6.5M454.8 1335.0v3M138.7 998.0h-3M471.6 1335.0v3M138.7 980.1h-3M483.6 1335.0v3M138.7 967.3h-3M492.9 1335.0v3M138.7 957.4h-3M500.5 1335.0v3M138.7 949.3h-3M506.9 1335.0v3M138.7 942.5h-3M512.4 1335.0v3M138.7 936.6h-3M517.3 1335.0v3M138.7 931.4h-3M521.7 1335.0v6.5M138.7 926.7h-6.5" stroke="#787878" stroke-width="1.6" fill="none"/>
<line x1="223.3" y1="926.7" x2="223.3" y2="1335.0" stroke="#e8262b" stroke-width="2.2"/>
<line x1="138.7" y1="1262.3" x2="521.7" y2="1262.3" stroke="#e8262b" stroke-width="2.2"/>
<text x="115.9" y="1382.5" font-size="35.5">10<tspan font-size="24.5" dy="-10.4">0</tspan></text>
<text transform="translate(113.0,1358.7) rotate(-90)" font-size="35.5">10<tspan font-size="24.5" dy="-10.6">0</tspan></text>
<text x="211.6" y="1382.5" font-size="35.5">10<tspan font-size="24.5" dy="-10.4">1</tspan></text>
<text transform="translate(113.0,1256.6) rotate(-90)" font-size="35.5">10<tspan font-size="24.5" dy="-10.6">1</tspan></text>
<text x="307.4" y="1382.5" font-size="35.5">10<tspan font-size="24.5" dy="-10.4">2</tspan></text>
<text transform="translate(113.0,1154.5) rotate(-90)" font-size="35.5">10<tspan font-size="24.5" dy="-10.6">2</tspan></text>
<text x="403.2" y="1382.5" font-size="35.5">10<tspan font-size="24.5" dy="-10.4">3</tspan></text>
<text transform="translate(113.0,1052.5) rotate(-90)" font-size="35.5">10<tspan font-size="24.5" dy="-10.6">3</tspan></text>
<text x="498.9" y="1382.5" font-size="35.5">10<tspan font-size="24.5" dy="-10.4">4</tspan></text>
<text transform="translate(113.0,950.4) rotate(-90)" font-size="35.5">10<tspan font-size="24.5" dy="-10.6">4</tspan></text>
<text x="107.8" y="867.4" font-size="35.5" fill="#000">(siMDR1+scBCL2)@PLGA</text>
<text x="275.9" y="907.9" font-size="35.5" fill="#000">+ PTX</text>
<text x="148.7" y="970.7" font-size="38.8" fill="#000">17.0%</text>
<text x="396.8" y="973.3" font-size="38.8" fill="#000">38.7%</text>
<text x="289.4" y="1318.4" font-size="38.8" fill="#000">37.2%</text>
<text x="415.6" y="1318.4" font-size="38.8" fill="#000">7.1%</text>
<g transform="translate(613,928) scale(2)" fill="none" stroke-width="1" shape-rendering="crispEdges"><path stroke="#8a8a8a" d="M92 36h1M92 43h1M76 44h1M87 47h1M90 51h1M107 52h1M102 57h1M86 58h1M79 63h1m22 0h1M92 65h1M0 67h1m54 0h1m8 0h1m9 0h1M57 69h1m27 0h1m19 0h1m1 0h1m4 0h1M88 70h1M75 71h1m2 0h1M53 72h1m30 0h1m8 0h1m18 0h1M78 73h1m5 0h2m3 0h1m4 0h1M0 74h1m64 0h1m2 0h1m5 0h1m4 0h1M0 75h1m31 0h1m6 0h1m16 0h1m31 0h2m7 0h1m8 0h1M50 76h1m1 0h1m21 0h1m3 0h1m5 0h1m23 0h1M80 77h1m7 0h1M45 78h1m4 0h1m1 0h1m1 0h1m7 0h1m30 0h1M49 79h1m3 0h1m2 0h1m8 0h1m1 0h1m15 0h1m7 0h1m13 0h1m8 0h1M48 80h1m36 0h1M26 81h1m2 0h1m12 0h1m16 0h1m9 0h1m8 0h1m15 0h1m3 0h1M23 82h1m81 0h1M27 83h1m12 0h1m8 0h1m5 0h1m37 0h1M29 84h1m1 0h1m16 0h1m12 0h1m21 0h1M0 85h1m14 0h1m26 0h1m19 0h1m5 0h1m8 0h1m2 0h1M9 86h1m8 0h1m16 0h1m2 0h1m1 0h1m3 0h1m6 0h1m1 0h1m17 0h1m1 0h1M0 87h1m17 0h1m16 0h1m1 0h1m10 0h1m8 0h1M61 88h1m6 0h1m1 0h1m7 0h1m11 0h1m6 0h1m6 0h1M1 89h1m16 0h2m6 0h1m33 0h1m14 0h1m7 0h2m9 0h2M0 90h1m11 0h1m4 0h1m13 0h1m11 0h2m5 0h1m7 0h1m23 0h1m19 0h1M34 91h2m6 0h1m4 0h2m1 0h1m14 0h1m11 0h1m4 0h1m4 0h1m13 0h1M11 92h1m21 0h1m8 0h1m23 0h1m15 0h1m9 0h1M14 93h1m18 0h2m15 0h1m4 0h1m13 0h1m1 0h1M1 94h1m36 0h2M0 95h1m65 0h1m4 0h1m1 0h1m11 0h1M17 96h1m15 0h2m2 0h1m8 0h1m2 0h1m5 0h2m15 0h1m2 0h1M1 97h1m21 0h1m9 0h1m1 0h1m22 0h1m2 0h1m7 0h1m3 0h1m6 0h1m4 0h1M16 98h1m1 0h1m1 0h1m2 0h1m16 0h1m2 0h1m26 0h1m3 0h1M20 99h1m11 0h1m19 0h1m2 0h1m3 0h1m23 0h1M14 100h1m8 0h1m11 0h1m7 0h1m31 0h1M32 101h1m12 0h1m12 0h1m2 0h1m30 0h1M1 102h1m20 0h1m2 0h3m1 0h1m1 0h1m6 0h1M15 103h1m7 0h1m10 0h1m18 0h1m4 0h1m14 0h1M44 104h1m5 0h1M12 105h1m31 0h1m6 0h1m5 0h1M46 106h1m7 0h1m21 0h1M0 107h2m39 0h1m23 0h1m16 0h1M4 108h1m15 0h1m7 0h1M18 109h1m28 0h1M37 110h1m22 0h1M0 111h1m15 0h1m14 0h1m37 0h1M21 112h1m14 0h1m1 0h1m8 0h1m14 0h1m11 0h1M29 113h1m5 0h1m2 0h1m36 0h1m1 0h1M11 114h1m22 0h1m20 0h1m1 0h1m62 0h1M11 115h1m5 0h1m43 0h1m5 0h1m7 0h1m1 0h1M14 116h1m3 0h2m16 0h1m7 0h1m19 0h1m5 0h1m1 0h2M41 117h1m8 0h1m1 0h1m3 0h1M55 118h1m4 0h1m7 0h1m6 0h1M17 119h1m8 0h1m10 0h1m8 0h1m12 0h1m37 0h1m21 0h1M29 120h1m6 0h1m42 0h1M36 121h1m24 0h1m14 0h1m1 0h1m3 0h1M24 122h1m11 0h1m7 0h1m8 0h1M38 123h1m6 0h1m5 0h1M12 124h1m8 0h1m25 0h1m2 0h1m12 0h1m18 0h1M27 125h1m4 0h1m3 0h1m9 0h1m1 0h1m1 0h1m1 0h1m9 0h1M17 126h1m7 0h1m4 0h1m7 0h1m4 0h1m3 0h1m4 0h1m28 0h1m12 0h1m10 0h1M0 127h1m22 0h1m3 0h1m35 0h1m16 0h1m40 0h1M28 128h1M0 129h1m69 0h1m12 0h1M18 130h1m8 0h1m6 0h1m3 0h1m3 0h1m2 0h1m18 0h1m8 0h1m30 0h1M0 131h1m18 0h1m29 0h1m2 0h1m5 0h1M48 132h1m4 0h1m5 0h1m1 0h1M31 133h1m7 0h1m2 0h1m1 0h1m3 0h2m37 0h1M7 134h1m23 0h1m9 0h1m16 0h1m9 0h1M22 135h1m10 0h1m1 0h1m17 0h1m29 0h1m17 0h1M13 136h1m9 0h1m5 0h2m15 0h1m6 0h1m31 0h1M24 137h2m1 0h1m1 0h1m1 0h2m30 0h1m1 0h1m5 0h1m6 0h1M1 138h1m27 0h1m29 0h1m2 0h1m2 0h1m55 0h1M20 139h1m16 0h1m2 0h2m4 0h1m8 0h1M30 140h1m16 0h1m16 0h1m9 0h1m1 0h1m2 0h1M39 141h2m6 0h1m31 0h2m7 0h1M7 142h1m23 0h1m4 0h1m26 0h2m44 0h1M0 143h1m9 0h1m22 0h1m3 0h1m7 0h1m6 0h1m23 0h1m1 0h1M18 144h1m17 0h1m10 0h1m9 0h1m35 0h1M18 145h1m3 0h1m4 0h1m32 0h1m7 0h1M13 146h1m13 0h1m6 0h1m1 0h2m31 0h1m4 0h1M31 147h1m5 0h1m26 0h1m2 0h1m5 0h1m5 0h1m9 0h1M24 148h1m15 0h1m18 0h1m16 0h1m15 0h1M26 149h1m6 0h1m2 0h1m1 0h1m7 0h1m10 0h1m4 0h1m32 0h1M17 150h1m19 0h2m5 0h1m19 0h1m3 0h1m32 0h1M18 151h1m8 0h1m1 0h1m25 0h1m5 0h1m5 0h1m3 0h1m10 0h1M0 152h1m9 0h1m24 0h1m5 0h1m1 0h1m13 0h1m1 0h2m43 0h1M18 154h1m27 0h1m2 0h1m19 0h1M45 155h1m3 0h1m8 0h1m33 0h1M8 156h1m17 0h1m8 0h1m35 0h1m27 0h1M0 157h1m29 0h1m10 0h2m7 0h1m4 0h1m35 0h1M29 158h1m36 0h1m9 0h1m41 0h1M12 159h1m40 0h1m16 0h1M26 160h1m1 0h2m15 0h1m3 0h1m6 0h2m35 0h1M2 161h1m8 0h1m50 0h1m5 0h1M10 162h1m12 0h1m2 0h1m5 0h1m6 0h1m18 0h1m7 0h1m20 0h1M23 163h1m1 0h1m3 0h1m35 0h1m7 0h1m4 0h1m17 0h1M22 164h1M6 165h1m26 0h1m5 0h3m11 0h1M1 166h1m28 0h1m37 0h1m1 0h1m7 0h1M7 167h2m8 0h1m4 0h1m10 0h1m12 0h1m37 0h1m1 0h1M0 168h2m5 0h1m15 0h1M23 169h1m10 0h1m10 0h1M39 170h1m10 0h1m3 0h1M9 171h1m24 0h2m4 0h1m1 0h1M30 172h1m2 0h1M14 173h2m10 0h1m3 0h1m7 0h1m10 0h1m3 0h1m9 0h1M13 174h1m5 0h1m11 0h1m7 0h2m7 0h1m10 0h2M14 175h1m3 0h2m7 0h1m36 0h1M10 176h1m3 0h1m11 0h1m8 0h2m8 0h1m49 0h1M15 177h1m11 0h1m4 0h1m2 0h1m4 0h1m6 0h1m5 0h1m11 0h1m12 0h1M5 178h1m7 0h1m9 0h2m5 0h1m38 0h1m5 0h1M3 179h1m10 0h1m44 0h1m4 0h1M4 180h1m5 0h1m8 0h1m46 0h1m4 0h1M18 181h1m38 0h1m4 0h1M2 182h1m31 0h1m49 0h1M1 183h1m8 0h1m2 0h1m1 0h1M4 184h1m8 0h1m25 0h1m44 0h1M42 185h1m12 0h1m6 0h1m4 0h1m2 0h1M4 186h1m4 0h1m35 0h1m15 0h1m4 0h1m30 0h1M53 187h1M2 188h1m3 0h1M38 189h1m8 0h2m15 0h1M10 190h1m29 0h1M49 191h2m7 0h1m8 0h2m5 0h1M27 192h1m16 0h1m13 0h1M61 193h1m14 0h1M22 194h1M29 195h1m5 0h1m21 0h1m13 0h1m7 0h1M10 196h1m46 0h1m9 0h1m2 0h1m25 0h1M2 197h1m35 0h1M15 198h1m37 0h1m10 0h1M10 199h1m4 0h1m4 0h1m20 0h1m8 0h1m5 0h1M19 200h1m11 0h1m4 0h1m4 0h1m11 0h1m7 0h1M7 201h1m5 0h1m4 0h1m8 0h1m3 0h1m8 0h1M21 202h1m15 0h3m25 0h1M50 203h1M44 204h1m19 0h2"/><path stroke="#000" d="M90 14h1M77 23h1M36 28h1m45 0h1m11 0h1M80 31h1M80 34h1M68 35h1M86 36h1M18 38h1M100 40h1M68 41h1m21 0h1m2 0h1m4 0h1M76 43h1M71 44h1m3 0h1m23 0h1M79 45h1M69 46h1m8 0h1m33 0h1M65 47h1m2 0h1m14 0h1m5 0h2M76 48h1m13 0h1M0 49h1M68 50h1M75 51h1m4 0h1m8 0h1M94 52h1m6 0h1M91 53h1m22 0h1M1 54h1m90 0h1M69 55h1m5 0h1m18 0h1m7 0h2M74 56h1m5 0h1M62 57h1m25 0h1M58 58h1m32 0h1m3 0h1m28 0h1M76 59h1m6 0h1m17 0h1M72 60h1m3 0h1m11 0h2m38 0h1M83 61h1m1 0h1m45 0h1m3 0h1M1 62h1m72 0h1m21 0h1M58 63h1m7 0h2m6 0h1m5 0h1m2 0h1m4 0h1m3 0h1m1 0h1m3 0h1m6 0h1M85 64h1m2 0h1m5 0h1m1 0h1m3 0h1m1 0h1m13 0h1M42 65h1m24 0h1m22 0h1M70 66h1m9 0h1m6 0h1m19 0h1m5 0h1M57 67h1m1 0h1m12 0h1m7 0h1m4 0h1m8 0h1m28 0h1M0 68h1m58 0h1m5 0h2m11 0h1m3 0h1m2 0h1m7 0h1m3 0h1m4 0h2m8 0h1M56 69h1m16 0h2m5 0h2m1 0h1m2 0h1m1 0h1m1 0h1m2 0h1m2 0h1m1 0h1m1 0h1m15 0h1M1 70h1m35 0h1m21 0h1m2 0h1m1 0h1m2 0h1m2 0h1m3 0h1m2 0h1m1 0h1m3 0h1m5 0h1m7 0h1m23 0h1M1 71h1m58 0h2m1 0h1m5 0h1m2 0h1m4 0h1m1 0h1m1 0h1m10 0h2m1 0h1m9 0h1m6 0h2M52 72h1m7 0h1m5 0h1m1 0h1m1 0h2m2 0h1m2 0h1m2 0h1m1 0h1m3 0h2m12 0h2M0 73h2m1 0h1m60 0h2m1 0h2m7 0h1m2 0h1m1 0h1m1 0h1m8 0h1m3 0h2m2 0h1m4 0h1m3 0h2m3 0h1m1 0h1m2 0h1M21 74h1m15 0h1m10 0h1m1 0h1m6 0h1m2 0h1m8 0h1m1 0h1m3 0h1m1 0h2m3 0h1m2 0h1m1 0h1m2 0h3m4 0h1m3 0h2m3 0h1M17 75h1m17 0h1m9 0h1m4 0h1m1 0h1m6 0h1m4 0h2m1 0h1m2 0h3m4 0h3m2 0h1m1 0h2m6 0h2m1 0h2m2 0h1m2 0h1m6 0h1M31 76h1m6 0h1m10 0h1m7 0h1m2 0h6m2 0h1m2 0h3m1 0h3m2 0h2m4 0h2m1 0h3m1 0h1m1 0h1m2 0h1m3 0h1m1 0h1m11 0h1m2 0h1M0 77h2m30 0h1m3 0h1m1 0h1m1 0h1m3 0h1m1 0h1m2 0h2m3 0h1m1 0h1m2 0h1m2 0h1m3 0h4m2 0h4m1 0h2m4 0h2m2 0h1m2 0h3m13 0h1m3 0h1m15 0h1M1 78h1m20 0h1m8 0h1m12 0h1m8 0h1m2 0h6m3 0h2m1 0h8m3 0h4m1 0h2m1 0h1m1 0h2m1 0h1m3 0h3m1 0h4m4 0h2m5 0h1M16 79h1m18 0h1m4 0h1m4 0h1m2 0h1m1 0h2m6 0h4m1 0h1m5 0h5m1 0h8m1 0h6m3 0h1m4 0h1m1 0h2m5 0h1m7 0h1M1 80h1m26 0h1m6 0h1m2 0h2m2 0h1m6 0h1m3 0h2m1 0h1m2 0h1m1 0h1m1 0h6m2 0h5m1 0h1m2 0h3m1 0h1m1 0h4m2 0h3m1 0h1m1 0h1m1 0h2m12 0h1M12 81h1m5 0h1m11 0h3m4 0h1m1 0h1m3 0h1m1 0h2m1 0h1m1 0h3m2 0h1m2 0h1m1 0h5m1 0h3m1 0h8m2 0h4m1 0h2m3 0h1m6 0h1m1 0h1m7 0h1m13 0h1M0 82h2m8 0h1m20 0h1m2 0h1m8 0h3m4 0h5m2 0h1m1 0h1m2 0h1m1 0h7m1 0h14m1 0h7m2 0h1m1 0h1m3 0h1m1 0h1M1 83h1m24 0h1m4 0h1m1 0h1m1 0h1m1 0h1m6 0h5m1 0h3m1 0h1m2 0h2m2 0h3m1 0h7m1 0h3m1 0h4m1 0h1m3 0h2m1 0h3m4 0h1m1 0h1m2 0h1m1 0h1M1 84h1m16 0h1m8 0h1m4 0h1m3 0h3m1 0h2m2 0h1m1 0h2m1 0h1m2 0h2m1 0h3m1 0h2m2 0h2m1 0h2m1 0h8m1 0h2m1 0h1m2 0h1m2 0h1m1 0h2m1 0h2m3 0h1m2 0h1m3 0h1m1 0h1m3 0h1m3 0h1M8 85h1m9 0h2m6 0h1m1 0h1m1 0h1m3 0h1m3 0h4m2 0h1m1 0h1m2 0h4m2 0h4m1 0h2m1 0h5m1 0h8m2 0h1m1 0h10m1 0h2m3 0h1m13 0h1M1 86h1m11 0h1m1 0h2m2 0h1m4 0h4m4 0h1m3 0h2m3 0h2m4 0h2m1 0h1m4 0h2m1 0h1m1 0h3m1 0h7m1 0h1m1 0h8m2 0h2m1 0h1m3 0h4m1 0h1m1 0h2m5 0h1m11 0h1M2 87h1m7 0h1m3 0h1m4 0h1m6 0h2m2 0h1m1 0h1m3 0h1m3 0h3m1 0h2m6 0h2m2 0h1m1 0h3m1 0h3m1 0h6m1 0h5m2 0h1m1 0h2m3 0h2m2 0h1m5 0h2m1 0h1m9 0h1M0 88h2m17 0h1m3 0h1m2 0h1m1 0h1m4 0h1m2 0h1m2 0h1m1 0h1m1 0h5m1 0h3m3 0h4m1 0h1m1 0h4m1 0h1m3 0h6m2 0h3m5 0h2m2 0h2m7 0h1m1 0h1m6 0h1M4 89h1m16 0h1m1 0h3m1 0h3m1 0h2m1 0h1m3 0h1m1 0h2m3 0h3m2 0h1m1 0h4m1 0h3m1 0h2m1 0h1m1 0h9m1 0h5m4 0h3m1 0h2m5 0h1m3 0h1m2 0h1m8 0h1M11 90h1m6 0h1m2 0h1m3 0h1m1 0h1m1 0h2m1 0h2m1 0h4m2 0h2m5 0h2m1 0h7m1 0h2m1 0h2m1 0h11m1 0h1m2 0h2m1 0h8m1 0h1m1 0h1m2 0h1m3 0h1m2 0h1M10 91h1m2 0h1m1 0h1m1 0h1m3 0h1m2 0h1m2 0h3m1 0h3m3 0h3m3 0h1m1 0h2m4 0h2m1 0h4m1 0h2m1 0h2m2 0h7m1 0h2m2 0h2m1 0h1m3 0h1m7 0h2m4 0h1m3 0h2M0 92h1m16 0h1m1 0h3m3 0h5m2 0h1m1 0h1m1 0h1m1 0h3m3 0h1m2 0h6m1 0h5m1 0h5m5 0h4m1 0h4m1 0h2m1 0h1m4 0h1m1 0h2m6 0h1M5 93h1m13 0h1m3 0h2m1 0h2m3 0h1m3 0h2m1 0h1m1 0h1m1 0h1m1 0h1m1 0h4m1 0h4m1 0h1m1 0h1m1 0h2m1 0h4m1 0h1m1 0h1m1 0h5m1 0h1m1 0h4m3 0h1m1 0h1m3 0h1m3 0h1m4 0h1M14 94h1m1 0h3m2 0h2m1 0h1m1 0h4m1 0h2m1 0h4m3 0h5m1 0h8m1 0h1m1 0h6m1 0h1m2 0h1m1 0h3m1 0h1m1 0h1m1 0h1m4 0h1m4 0h1m14 0h1M1 95h1m2 0h1m8 0h3m2 0h2m4 0h10m1 0h1m1 0h3m1 0h4m1 0h2m4 0h1m2 0h1m1 0h1m1 0h4m1 0h1m2 0h4m1 0h1m2 0h1m3 0h1m3 0h1m4 0h1m3 0h1M10 96h1m1 0h1m1 0h2m4 0h1m1 0h4m1 0h6m2 0h2m1 0h2m1 0h2m1 0h2m1 0h2m1 0h2m1 0h2m2 0h2m1 0h4m5 0h3m1 0h1m2 0h2m1 0h2m1 0h3m3 0h1m8 0h1M3 97h1m3 0h1m1 0h1m3 0h2m4 0h2m1 0h1m3 0h6m4 0h1m3 0h1m4 0h6m1 0h4m1 0h1m2 0h1m1 0h2m1 0h2m7 0h2m1 0h1m5 0h1m6 0h1m2 0h1m8 0h1m4 0h1M0 98h1m11 0h1m4 0h1m3 0h2m1 0h3m1 0h4m1 0h5m4 0h1m2 0h2m1 0h1m1 0h2m1 0h2m1 0h5m1 0h1m1 0h1m4 0h1m2 0h1m3 0h2m9 0h1M0 99h1m5 0h1m6 0h1m3 0h1m1 0h1m3 0h2m1 0h2m2 0h1m3 0h11m4 0h1m1 0h1m1 0h2m2 0h2m1 0h3m9 0h1m1 0h1m2 0h1m2 0h1m7 0h2m3 0h1m4 0h1M0 100h2m14 0h2m1 0h1m1 0h2m3 0h1m1 0h1m3 0h3m1 0h1m1 0h3m1 0h1m2 0h2m1 0h1m1 0h1m1 0h1m1 0h3m1 0h2m2 0h1m3 0h1m2 0h1m4 0h1m2 0h3m2 0h1m9 0h1m3 0h1M0 101h2m14 0h3m3 0h1m8 0h1m1 0h2m1 0h2m6 0h1m2 0h4m1 0h2m1 0h2m12 0h1m2 0h3m5 0h1M0 102h1m8 0h1m3 0h2m1 0h1m3 0h1m3 0h1m3 0h1m1 0h1m3 0h4m2 0h1m3 0h1m1 0h2m1 0h1m1 0h2m6 0h1m1 0h4m2 0h1m1 0h2m2 0h1m3 0h1m2 0h1M1 103h1m7 0h1m3 0h1m3 0h3m1 0h2m2 0h3m3 0h2m3 0h3m1 0h2m1 0h2m1 0h2m6 0h1m9 0h4m4 0h1m17 0h1M13 104h1m4 0h1m4 0h2m3 0h1m1 0h2m1 0h2m1 0h4m1 0h1m3 0h2m2 0h1m3 0h1m1 0h2m3 0h1m5 0h2m1 0h1m1 0h1m6 0h1m1 0h2m1 0h1M0 105h2m3 0h1m2 0h1m4 0h3m2 0h1m2 0h1m2 0h1m1 0h1m1 0h1m1 0h1m2 0h4m1 0h2m1 0h1m1 0h1m2 0h1m2 0h1m4 0h1m1 0h1m4 0h1m7 0h1m11 0h1m1 0h2M0 106h3m10 0h2m4 0h2m1 0h3m1 0h4m3 0h1m1 0h3m1 0h1m3 0h1m4 0h1m1 0h3m4 0h1m9 0h1m3 0h1m5 0h1m36 0h1M16 107h1m4 0h1m2 0h3m1 0h1m2 0h3m3 0h1m1 0h1m2 0h1m1 0h1m1 0h1m3 0h4m1 0h1m4 0h1m5 0h1m7 0h1m15 0h1M0 108h2m9 0h2m5 0h1m3 0h1m8 0h2m8 0h2m3 0h2m5 0h1m4 0h1m1 0h1m3 0h1m9 0h1m24 0h1M0 109h2m4 0h2m7 0h3m8 0h1m5 0h3m3 0h1m13 0h1m2 0h1m3 0h1m1 0h1m2 0h1m10 0h1m11 0h1M0 110h2m4 0h1m2 0h1m7 0h1m1 0h1m1 0h2m8 0h2m2 0h1m7 0h1m3 0h1m2 0h2m1 0h1m2 0h1m2 0h1m3 0h1m1 0h1m8 0h1m10 0h1M1 111h1m1 0h1m9 0h1m5 0h1m2 0h2m1 0h4m1 0h1m2 0h2m1 0h1m3 0h1m1 0h2m1 0h1m6 0h1m4 0h2m9 0h1m17 0h1m2 0h1M0 112h1m7 0h1m3 0h1m4 0h1m6 0h4m4 0h1m1 0h2m5 0h1m2 0h1m4 0h1m3 0h1m5 0h1m8 0h1m6 0h1m7 0h1m3 0h1m12 0h1m1 0h1M0 113h2m9 0h2m3 0h1m4 0h1m2 0h1m2 0h1m2 0h1m3 0h1m1 0h1m5 0h1m1 0h1m1 0h1m4 0h2m2 0h3m1 0h2m4 0h1m4 0h1m3 0h1m19 0h1M0 114h2m17 0h1m7 0h3m1 0h1m4 0h1m1 0h1m3 0h1m3 0h1m2 0h1m2 0h2m7 0h1M0 115h2m10 0h1m6 0h1m17 0h1m4 0h3m1 0h1m1 0h1m1 0h1m2 0h1m2 0h1m1 0h1m5 0h1m1 0h1m4 0h2m10 0h1m6 0h1M0 116h1m14 0h1m4 0h1m5 0h1m4 0h1m1 0h1m1 0h1m1 0h2m2 0h3m8 0h1m1 0h1m3 0h1m1 0h1m4 0h1m12 0h1m5 0h1m7 0h1m7 0h1M0 117h2m2 0h1m20 0h1m2 0h1m1 0h2m4 0h3m3 0h1m1 0h1m1 0h1m1 0h2m3 0h3m4 0h1m9 0h1m3 0h4m3 0h1m29 0h1M0 118h2m14 0h1m2 0h1m3 0h2m1 0h2m3 0h1m3 0h1m7 0h2m12 0h2m4 0h1m3 0h1m12 0h1m28 0h1M0 119h2m4 0h1m15 0h2m5 0h1m1 0h1m1 0h1m2 0h1m2 0h1m8 0h1m1 0h1m2 0h1m1 0h1m1 0h1m2 0h1m3 0h1m1 0h1m2 0h2m9 0h1m2 0h1m6 0h1M0 120h2m16 0h1m4 0h3m1 0h2m8 0h2m4 0h1m1 0h2m3 0h1m4 0h2m2 0h1m5 0h1m1 0h2m2 0h1m5 0h2m1 0h1m1 0h1M0 121h2m1 0h1m1 0h1m12 0h1m6 0h1m3 0h1m3 0h2m12 0h1m2 0h2m1 0h1m1 0h2m1 0h1m4 0h1m2 0h1m5 0h1m1 0h1m2 0h1m1 0h1m6 0h1M0 122h2m7 0h1m5 0h2m2 0h1m1 0h3m5 0h2m1 0h1m4 0h1m2 0h2m1 0h1m1 0h2m1 0h1m1 0h1m5 0h4m2 0h2m3 0h1m1 0h2m1 0h1m1 0h1m6 0h1m8 0h2m5 0h1M0 123h2m10 0h2m3 0h1m2 0h1m2 0h1m1 0h1m1 0h1m1 0h1m6 0h1m2 0h3m2 0h1m4 0h2m1 0h2m1 0h2m7 0h2m1 0h1m1 0h4m2 0h1m2 0h3m26 0h1m9 0h1M0 124h2m4 0h1m12 0h1m7 0h5m2 0h1m2 0h2m2 0h1m2 0h1m1 0h1m1 0h1m2 0h1m9 0h2m1 0h1m2 0h3m3 0h1m3 0h1m2 0h1m10 0h1M0 125h1m17 0h1m1 0h1m3 0h1m1 0h1m2 0h3m2 0h1m2 0h4m3 0h2m1 0h1m1 0h1m3 0h3m1 0h1m8 0h3m3 0h1m8 0h1m2 0h1m1 0h1M0 126h2m1 0h1m3 0h1m1 0h1m2 0h1m6 0h2m5 0h2m1 0h1m1 0h3m2 0h2m1 0h3m2 0h1m1 0h1m1 0h1m2 0h1m2 0h1m1 0h1m1 0h9m2 0h1m2 0h1m1 0h1m2 0h3m3 0h1m9 0h1M1 127h1m5 0h1m6 0h1m2 0h1m10 0h1m2 0h2m2 0h2m3 0h1m1 0h1m2 0h2m5 0h7m2 0h1m2 0h2m1 0h1m4 0h1m1 0h1m7 0h2m16 0h1M1 128h1m6 0h1m3 0h2m3 0h1m3 0h2m1 0h4m1 0h2m1 0h1m1 0h1m3 0h1m2 0h5m3 0h1m1 0h5m2 0h4m2 0h2m2 0h2m1 0h1m3 0h1m8 0h1m3 0h2m15 0h1M5 129h1m7 0h1m1 0h1m2 0h1m1 0h1m1 0h1m3 0h1m5 0h1m3 0h5m2 0h2m2 0h1m1 0h3m1 0h3m2 0h2m2 0h1m1 0h1m7 0h6m2 0h1m4 0h1m1 0h1m5 0h2m1 0h1m4 0h1M0 130h2m6 0h1m1 0h2m1 0h1m3 0h1m3 0h1m1 0h1m1 0h1m4 0h1m1 0h1m2 0h2m2 0h1m3 0h1m2 0h1m1 0h2m1 0h2m2 0h3m1 0h1m2 0h2m2 0h1m1 0h1m2 0h1m6 0h1m2 0h1m5 0h1M1 131h2m5 0h1m3 0h2m6 0h1m2 0h1m1 0h1m3 0h2m3 0h1m6 0h1m1 0h2m1 0h1m1 0h1m1 0h2m2 0h1m2 0h1m4 0h1m1 0h6m3 0h1m3 0h2m9 0h1m5 0h1m12 0h1M0 132h2m9 0h1m11 0h1m4 0h1m1 0h2m2 0h1m3 0h5m3 0h2m1 0h3m2 0h5m1 0h1m1 0h9m2 0h2m21 0h1m4 0h1M0 133h2m8 0h2m1 0h1m2 0h1m1 0h1m4 0h1m1 0h3m2 0h1m1 0h1m3 0h1m3 0h2m4 0h2m2 0h2m1 0h2m5 0h1m4 0h2m1 0h3m1 0h2m10 0h1m1 0h1m6 0h1M0 134h3m7 0h1m1 0h1m4 0h1m1 0h1m5 0h5m3 0h3m1 0h2m1 0h1m1 0h5m2 0h1m6 0h2m1 0h3m3 0h2m4 0h2m2 0h2m3 0h1m9 0h2m1 0h1m17 0h1M0 135h2m11 0h1m10 0h4m2 0h1m1 0h1m1 0h1m1 0h1m1 0h5m1 0h1m2 0h6m1 0h2m1 0h2m4 0h1m1 0h2m4 0h1m3 0h2m3 0h1m5 0h2m3 0h1m17 0h1M0 136h2m2 0h1m5 0h3m2 0h1m4 0h3m4 0h1m3 0h1m1 0h1m1 0h1m7 0h1m3 0h2m2 0h2m2 0h5m1 0h2m1 0h2m2 0h1m2 0h2m1 0h1m3 0h1m2 0h2m11 0h1M0 137h4m10 0h2m4 0h2m1 0h1m6 0h1m5 0h1m3 0h1m4 0h1m2 0h1m1 0h2m2 0h1m5 0h2m2 0h1m3 0h1m1 0h1m1 0h4m1 0h1m14 0h1m1 0h2M0 138h1m1 0h1m11 0h1m3 0h2m5 0h1m6 0h1m2 0h1m1 0h3m3 0h2m2 0h1m1 0h1m1 0h1m2 0h1m3 0h1m2 0h1m8 0h1m11 0h1m2 0h1m1 0h1M0 139h2m6 0h1m5 0h1m3 0h1m3 0h3m2 0h3m6 0h1m1 0h2m2 0h1m5 0h6m4 0h2m3 0h1m1 0h1m1 0h2m3 0h2m1 0h5m6 0h2m4 0h1m5 0h1m3 0h1M0 140h2m15 0h1m7 0h1m1 0h1m3 0h3m1 0h1m7 0h2m1 0h1m1 0h3m1 0h1m1 0h4m1 0h1m1 0h1m3 0h1m1 0h1m3 0h1m1 0h1m9 0h1m5 0h1m2 0h2m10 0h1M1 141h1m2 0h1m1 0h1m2 0h1m4 0h2m3 0h1m1 0h1m1 0h1m2 0h2m4 0h4m6 0h2m2 0h1m4 0h1m1 0h1m1 0h2m4 0h2m1 0h4m2 0h1m1 0h1m2 0h1m1 0h1m5 0h1m5 0h2M0 142h2m1 0h1m8 0h1m2 0h1m2 0h1m2 0h2m1 0h1m1 0h4m5 0h1m2 0h1m1 0h1m2 0h8m1 0h1m1 0h3m2 0h1m2 0h1m3 0h1m2 0h2m1 0h2m4 0h1m7 0h1m10 0h2M3 143h1m10 0h1m3 0h1m1 0h1m1 0h1m3 0h1m1 0h3m5 0h1m2 0h2m1 0h2m4 0h4m2 0h1m3 0h1m2 0h1m3 0h2m1 0h1m3 0h2m5 0h1m8 0h1m3 0h1m7 0h1m10 0h1M0 144h2m3 0h1m3 0h1m2 0h1m10 0h1m1 0h2m3 0h1m3 0h2m1 0h2m2 0h1m1 0h2m3 0h2m1 0h4m1 0h1m1 0h2m2 0h2m6 0h1m1 0h3m3 0h1m2 0h1m8 0h1M0 145h2m14 0h2m1 0h1m9 0h2m1 0h2m3 0h4m2 0h3m1 0h1m2 0h3m1 0h1m2 0h2m2 0h1m2 0h1m1 0h1m11 0h1m4 0h1m1 0h1m1 0h2M0 146h2m1 0h1m4 0h1m7 0h1m4 0h2m2 0h2m6 0h1m1 0h1m2 0h1m2 0h2m2 0h3m5 0h1m2 0h1m2 0h1m2 0h2m1 0h1m1 0h2m1 0h1m2 0h1m1 0h1m1 0h1m4 0h1m15 0h1m8 0h1M0 147h2m22 0h1m1 0h1m2 0h1m8 0h4m1 0h4m1 0h1m1 0h3m1 0h1m2 0h1m3 0h2m3 0h1m1 0h1m1 0h1m4 0h1m1 0h1m9 0h1m6 0h2M0 148h2m3 0h1m4 0h1m3 0h2m6 0h1m3 0h1m5 0h1m4 0h3m2 0h1m3 0h2m2 0h3m1 0h2m1 0h2m2 0h2m3 0h3m1 0h1m1 0h1m4 0h1m3 0h1m2 0h1m2 0h1m23 0h1M0 149h2m3 0h1m5 0h1m5 0h1m1 0h1m3 0h1m1 0h1m8 0h1m2 0h1m1 0h1m3 0h1m1 0h1m1 0h1m1 0h1m1 0h1m2 0h1m1 0h1m4 0h1m2 0h2m4 0h2m2 0h1m7 0h1m14 0h3m1 0h1M0 150h2m10 0h1m3 0h1m3 0h2m1 0h1m3 0h1m1 0h3m1 0h2m1 0h1m2 0h1m3 0h1m3 0h2m2 0h1m1 0h4m6 0h1m1 0h2m3 0h1m4 0h4m1 0h2m1 0h1m1 0h1M0 151h2m2 0h1m4 0h1m4 0h1m10 0h2m1 0h1m2 0h3m1 0h1m5 0h3m2 0h3m4 0h1m4 0h2m12 0h2m6 0h1m9 0h1m2 0h1m10 0h1M1 152h2m2 0h1m3 0h1m9 0h2m3 0h1m1 0h1m2 0h2m1 0h1m6 0h2m1 0h1m1 0h1m2 0h1m6 0h1m1 0h1m6 0h2m3 0h1m2 0h1m3 0h1m1 0h2m7 0h1m3 0h1m8 0h1M0 153h3m10 0h1m8 0h3m3 0h1m1 0h1m2 0h1m1 0h1m4 0h1m3 0h2m7 0h1m7 0h1m16 0h2m1 0h1m4 0h1m3 0h1m3 0h1M0 154h2m3 0h1m14 0h1m7 0h1m5 0h1m1 0h1m1 0h1m1 0h1m1 0h3m2 0h2m2 0h1m9 0h2m1 0h1m2 0h2m1 0h2m13 0h1m17 0h1M0 155h2m9 0h1m9 0h2m5 0h1m1 0h1m2 0h4m1 0h1m1 0h1m2 0h2m6 0h1m2 0h1m2 0h1m1 0h1m1 0h3m1 0h3m1 0h1m2 0h1m1 0h2m11 0h1m3 0h1M16 156h1m4 0h1m1 0h1m3 0h2m1 0h1m10 0h1m4 0h1m5 0h1m8 0h1m2 0h1m9 0h2m1 0h2m1 0h3M1 157h1m20 0h1m3 0h4m1 0h3m1 0h1m9 0h2m1 0h1m2 0h3m2 0h1m1 0h1m7 0h1m6 0h1m3 0h1m3 0h1m2 0h1M0 158h2m8 0h2m5 0h1m1 0h1m1 0h1m2 0h1m3 0h1m5 0h1m9 0h1m1 0h1m3 0h1m4 0h1m2 0h1m8 0h1m5 0h1m1 0h1m7 0h1m4 0h1m2 0h1M0 159h2m2 0h1m1 0h1m7 0h1m1 0h1m1 0h1m6 0h2m4 0h3m1 0h1m1 0h1m1 0h2m2 0h2m4 0h3m3 0h1m3 0h1m4 0h1m7 0h1m8 0h1m1 0h1m41 0h1M0 160h2m5 0h1m2 0h2m9 0h1m2 0h1m7 0h1m3 0h3m2 0h2m3 0h2m2 0h1m1 0h1m6 0h1m1 0h4m2 0h1m1 0h1m4 0h1m9 0h1m3 0h1M1 161h1m3 0h1m7 0h1m10 0h1m1 0h2m3 0h1m2 0h1m6 0h2m4 0h2m2 0h2m4 0h2m18 0h1m1 0h1m2 0h1m4 0h1m5 0h1M0 162h2m4 0h2m1 0h1m2 0h1m3 0h2m1 0h1m9 0h1m4 0h3m1 0h1m1 0h1m1 0h1m6 0h1m1 0h1m3 0h1m5 0h1m2 0h1m9 0h1m13 0h1m2 0h1m6 0h1M1 163h1m4 0h1m3 0h4m3 0h1m6 0h1m5 0h1m1 0h1m1 0h1m4 0h1m2 0h3m2 0h1m2 0h2m1 0h2m3 0h2m1 0h1m6 0h2m7 0h1m1 0h1M0 164h2m8 0h2m6 0h1m1 0h1m2 0h1m1 0h1m1 0h2m1 0h1m6 0h1m1 0h2m1 0h1m1 0h2m1 0h2m1 0h1m9 0h1m1 0h1m10 0h2m3 0h2m9 0h2m8 0h1M0 165h1m9 0h1m2 0h1m7 0h3m2 0h1m3 0h2m3 0h1m7 0h1m1 0h1m2 0h1m3 0h1m5 0h1m2 0h1m3 0h1m1 0h1m5 0h1m28 0h1M0 166h1m15 0h1m3 0h1m4 0h1m1 0h2m2 0h1m2 0h1m1 0h1m1 0h1m10 0h1m1 0h2m1 0h3m2 0h1m9 0h1m6 0h1m20 0h1m4 0h1M10 167h1m1 0h2m6 0h2m3 0h1m2 0h1m3 0h1m2 0h1m2 0h1m3 0h1m4 0h2m3 0h1m11 0h1m4 0h1m1 0h1m20 0h1m4 0h1M9 168h2m6 0h1m1 0h1m4 0h1m1 0h1m2 0h2m2 0h2m3 0h1m7 0h1m4 0h2m2 0h1m11 0h1m7 0h1m21 0h1M0 169h1m4 0h1m5 0h2m6 0h1m5 0h1m7 0h1m2 0h1m2 0h1m2 0h3m2 0h3m2 0h1m1 0h1m2 0h1m4 0h2m1 0h3m10 0h1m18 0h1M0 170h2m8 0h3m5 0h1m3 0h3m1 0h1m1 0h3m3 0h1m2 0h1m2 0h1m5 0h1m8 0h1m2 0h2m8 0h1M0 171h1m5 0h1m5 0h2m1 0h1m2 0h1m2 0h3m1 0h2m1 0h6m3 0h1m1 0h1m6 0h1m5 0h2m8 0h2m1 0h1m5 0h2m4 0h1m22 0h1m7 0h1M0 172h3m1 0h5m6 0h1m1 0h1m1 0h2m2 0h1m1 0h2m1 0h2m4 0h2m4 0h1m1 0h1m8 0h2m1 0h3m1 0h1m1 0h1m3 0h1m4 0h1m14 0h2m29 0h1M0 173h2m1 0h2m3 0h1m2 0h1m1 0h1m2 0h3m1 0h6m1 0h2m2 0h1m1 0h2m1 0h1m2 0h4m1 0h2m1 0h2m7 0h1m4 0h1m5 0h1m22 0h1M0 174h2m1 0h1m1 0h1m2 0h2m1 0h1m4 0h3m1 0h2m1 0h2m1 0h2m1 0h2m2 0h2m1 0h2m6 0h3m2 0h1m2 0h3m6 0h2m1 0h1m8 0h2m4 0h1m6 0h1M0 175h1m4 0h2m2 0h5m1 0h3m2 0h2m3 0h2m1 0h1m1 0h2m1 0h1m1 0h5m1 0h4m2 0h2m1 0h3m1 0h1m2 0h1m1 0h3m1 0h1m1 0h1m1 0h1m3 0h3m3 0h1m9 0h1M0 176h2m2 0h1m2 0h3m2 0h2m1 0h9m1 0h1m1 0h5m1 0h1m3 0h5m4 0h1m3 0h1m1 0h2m3 0h1m1 0h1m2 0h1m1 0h1m1 0h1m2 0h1m7 0h1m8 0h2M0 177h3m1 0h6m4 0h1m2 0h10m1 0h3m3 0h1m1 0h2m1 0h1m4 0h3m1 0h3m3 0h1m3 0h1m4 0h2m6 0h1m2 0h1m10 0h1M0 178h2m1 0h2m1 0h1m2 0h1m2 0h1m1 0h9m2 0h5m2 0h5m1 0h2m1 0h5m4 0h1m1 0h1m1 0h2m1 0h1m3 0h4m1 0h1m1 0h1m1 0h1m1 0h1m5 0h1m1 0h1m3 0h1m16 0h1M0 179h2m2 0h1m1 0h6m1 0h1m1 0h29m3 0h1m1 0h1m1 0h1m1 0h2m1 0h1m3 0h2m11 0h1m9 0h1m2 0h1M0 180h4m4 0h2m1 0h8m1 0h18m1 0h3m1 0h2m1 0h2m3 0h1m4 0h1m2 0h2m2 0h1m6 0h1m1 0h1m2 0h1M0 181h2m1 0h1m1 0h7m1 0h5m2 0h20m1 0h5m1 0h1m1 0h3m2 0h2m4 0h1m9 0h1m1 0h1m5 0h1M0 182h2m3 0h12m1 0h8m1 0h7m2 0h6m1 0h10m4 0h1m1 0h3m3 0h2m3 0h1m14 0h1M0 183h1m1 0h1m2 0h5m1 0h2m1 0h1m1 0h24m1 0h8m1 0h1m3 0h4m1 0h1m1 0h1m1 0h1m1 0h1m2 0h2M0 184h4m3 0h2m2 0h2m1 0h25m2 0h5m1 0h5m3 0h1m1 0h2m4 0h1m3 0h1m2 0h1m19 0h1m2 0h1M0 185h2m1 0h39m1 0h8m1 0h2m2 0h2m11 0h1m6 0h1m4 0h1M0 186h4m1 0h4m1 0h25m1 0h9m1 0h1m1 0h2m1 0h7m1 0h1m3 0h1m1 0h1m3 0h1m1 0h1m1 0h1M0 187h2m1 0h47m1 0h2m1 0h3m3 0h1m1 0h1m2 0h3m1 0h1m2 0h2m5 0h1m2 0h1M0 188h2m1 0h3m1 0h5m1 0h31m1 0h6m1 0h1m1 0h1m1 0h4m6 0h3m1 0h2m14 0h1M0 189h2m1 0h4m1 0h30m1 0h8m2 0h5m1 0h2m2 0h3m4 0h1m1 0h1m9 0h1m1 0h1m3 0h1M0 190h4m1 0h5m1 0h29m1 0h6m1 0h3m1 0h2m2 0h1m4 0h2m4 0h2M0 191h49m2 0h2m1 0h2m3 0h1m4 0h1m1 0h1m19 0h1M0 192h4m1 0h22m1 0h16m1 0h9m2 0h2m3 0h1m11 0h1m1 0h1m11 0h1M0 193h4m1 0h39m1 0h5m1 0h4m2 0h1m4 0h1m10 0h1M0 194h3m1 0h18m1 0h18m1 0h4m1 0h3m1 0h1m2 0h1m3 0h2m2 0h2m2 0h1m6 0h1m22 0h1M0 195h3m1 0h1m1 0h23m1 0h5m1 0h5m1 0h7m1 0h4m1 0h1m3 0h1m1 0h2m1 0h1m2 0h2m4 0h1M0 196h2m1 0h1m1 0h5m1 0h30m1 0h4m1 0h4m1 0h4m6 0h1m1 0h1m3 0h1m7 0h1M0 197h2m2 0h34m1 0h3m1 0h4m3 0h1m11 0h1m5 0h1m1 0h1M0 198h4m1 0h2m1 0h7m1 0h20m1 0h2m1 0h1m1 0h4m3 0h2m1 0h1m1 0h2m11 0h2m2 0h1m13 0h1M0 199h2m2 0h4m1 0h1m1 0h4m1 0h4m1 0h20m2 0h3m1 0h2m13 0h2m3 0h1m1 0h1m10 0h1M0 200h1m4 0h3m1 0h10m1 0h11m1 0h4m1 0h4m1 0h1m1 0h3m1 0h1m3 0h1m3 0h1m1 0h1m5 0h2m17 0h1M0 201h2m3 0h2m1 0h3m1 0h1m1 0h4m1 0h2m1 0h5m1 0h3m1 0h8m1 0h2m1 0h6m3 0h1m3 0h1m12 0h1m3 0h2M0 202h7m1 0h1m1 0h11m1 0h12m1 0h2m3 0h2m2 0h1m2 0h2m1 0h1m1 0h1m2 0h1m5 0h1m1 0h2m7 0h1M0 203h50m1 0h1m1 0h3m1 0h4m2 0h2m2 0h3m3 0h4m1 0h1m2 0h1m3 0h1m32 0h1M0 204h10m1 0h1m1 0h7m1 0h1m1 0h2m1 0h3m1 0h8m1 0h4m2 0h1m1 0h2m2 0h1m1 0h5m5 0h1m7 0h1m10 0h1"/></g>
<rect x="613.3" y="926.7" width="381.7" height="409.8" fill="none" stroke="#787878" stroke-width="1.8"/>
<path d="M613.3 1336.5v6.5M613.3 1336.5h-6.5M642.0 1336.5v3M613.3 1305.7h-3M658.8 1336.5v3M613.3 1287.6h-3M670.8 1336.5v3M613.3 1274.8h-3M680.0 1336.5v3M613.3 1264.9h-3M687.6 1336.5v3M613.3 1256.8h-3M693.9 1336.5v3M613.3 1249.9h-3M699.5 1336.5v3M613.3 1244.0h-3M704.4 1336.5v3M613.3 1238.7h-3M708.7 1336.5v6.5M613.3 1234.0h-6.5M737.5 1336.5v3M613.3 1203.2h-3M754.3 1336.5v3M613.3 1185.2h-3M766.2 1336.5v3M613.3 1172.4h-3M775.4 1336.5v3M613.3 1162.4h-3M783.0 1336.5v3M613.3 1154.3h-3M789.4 1336.5v3M613.3 1147.5h-3M794.9 1336.5v3M613.3 1141.5h-3M799.8 1336.5v3M613.3 1136.3h-3M804.1 1336.5v6.5M613.3 1131.6h-6.5M832.9 1336.5v3M613.3 1100.8h-3M849.7 1336.5v3M613.3 1082.7h-3M861.6 1336.5v3M613.3 1069.9h-3M870.8 1336.5v3M613.3 1060.0h-3M878.4 1336.5v3M613.3 1051.9h-3M884.8 1336.5v3M613.3 1045.0h-3M890.3 1336.5v3M613.3 1039.1h-3M895.2 1336.5v3M613.3 1033.8h-3M899.6 1336.5v6.5M613.3 1029.2h-6.5M928.3 1336.5v3M613.3 998.3h-3M945.1 1336.5v3M613.3 980.3h-3M957.0 1336.5v3M613.3 967.5h-3M966.3 1336.5v3M613.3 957.5h-3M973.8 1336.5v3M613.3 949.4h-3M980.2 1336.5v3M613.3 942.6h-3M985.8 1336.5v3M613.3 936.6h-3M990.6 1336.5v3M613.3 931.4h-3M995.0 1336.5v6.5M613.3 926.7h-6.5" stroke="#787878" stroke-width="1.6" fill="none"/>
<line x1="697.3" y1="926.7" x2="697.3" y2="1336.5" stroke="#e8262b" stroke-width="2.2"/>
<line x1="613.3" y1="1262.3" x2="995.0" y2="1262.3" stroke="#e8262b" stroke-width="2.2"/>
<text x="590.5" y="1384.0" font-size="35.5">10<tspan font-size="24.5" dy="-10.4">0</tspan></text>
<text transform="translate(587.8,1360.2) rotate(-90)" font-size="35.5">10<tspan font-size="24.5" dy="-10.6">0</tspan></text>
<text x="685.9" y="1384.0" font-size="35.5">10<tspan font-size="24.5" dy="-10.4">1</tspan></text>
<text transform="translate(587.8,1257.8) rotate(-90)" font-size="35.5">10<tspan font-size="24.5" dy="-10.6">1</tspan></text>
<text x="781.4" y="1384.0" font-size="35.5">10<tspan font-size="24.5" dy="-10.4">2</tspan></text>
<text transform="translate(587.8,1155.3) rotate(-90)" font-size="35.5">10<tspan font-size="24.5" dy="-10.6">2</tspan></text>
<text x="876.8" y="1384.0" font-size="35.5">10<tspan font-size="24.5" dy="-10.4">3</tspan></text>
<text transform="translate(587.8,1052.9) rotate(-90)" font-size="35.5">10<tspan font-size="24.5" dy="-10.6">3</tspan></text>
<text x="972.2" y="1384.0" font-size="35.5">10<tspan font-size="24.5" dy="-10.4">4</tspan></text>
<text transform="translate(587.8,950.4) rotate(-90)" font-size="35.5">10<tspan font-size="24.5" dy="-10.6">4</tspan></text>
<text x="583.6" y="866.7" font-size="35.5" fill="#000">(siBCL2+scMDR1)@PLGA</text>
<text x="752.0" y="909.3" font-size="35.5" fill="#000">+ PTX</text>
<text x="622.0" y="971.7" font-size="38.8" fill="#000">10.7%</text>
<text x="868.0" y="973.3" font-size="38.8" fill="#000">25.5%</text>
<text x="762.1" y="1319.0" font-size="38.8" fill="#000">54.4%</text>
<text x="895.7" y="1319.0" font-size="38.8" fill="#000">9.4%</text>
<g transform="translate(1082,928) scale(2)" fill="none" stroke-width="1" shape-rendering="crispEdges"><path stroke="#8a8a8a" d="M62 35h1M77 38h1M1 39h1M96 46h1m4 0h1M74 48h1m33 0h1M75 50h1m28 0h1M94 54h1M75 55h1M121 56h1M1 57h1M69 59h1M0 60h1M90 61h1M67 62h1m32 0h1M107 63h1m2 0h1M72 65h1m3 0h1m31 0h1m1 0h2M65 66h1m9 0h1m23 0h1M77 67h1M74 69h1M68 71h1M76 72h1m14 0h1M0 73h1m56 0h1m9 0h1M1 74h1m46 0h1m31 0h1m5 0h2m1 0h1M56 75h1M0 76h1m75 0h1m36 0h1m5 0h1M46 77h1m17 0h1m4 0h1m8 0h1m3 0h1m1 0h1m18 0h1M73 78h1m2 0h1m2 0h1m10 0h1m4 0h1M43 79h2m7 0h1m13 0h1m7 0h1m5 0h1m9 0h1m5 0h1m14 0h1M59 80h1m8 0h1m7 0h1m2 0h1m2 0h1m11 0h1m5 0h1M57 81h1m13 0h1m10 0h1M45 82h1m15 0h1m4 0h1m13 0h1m11 0h1m2 0h1m1 0h1m6 0h1m12 0h1M35 83h1m12 0h1m17 0h1m13 0h1M57 84h1M42 85h1m6 0h1m36 0h1m1 0h1m2 0h1M40 86h1m7 0h1m40 0h1m13 0h1M33 87h1m11 0h2m9 0h1m18 0h1M29 88h1m13 0h1m10 0h1m7 0h1m1 0h1m6 0h1m1 0h1m10 0h1m1 0h1m5 0h1m1 0h1m2 0h1m4 0h1M26 89h1m11 0h1m7 0h1m11 0h1m5 0h1m1 0h1m4 0h1m24 0h1M23 90h1m24 0h1m14 0h1m7 0h1m13 0h1M51 91h1m2 0h1m11 0h1m1 0h1m13 0h1M25 92h2m6 0h1m4 0h1m14 0h1m1 0h1m16 0h1m12 0h1M38 93h1m1 0h1m1 0h1m16 0h1M19 94h1m24 0h1m1 0h1m18 0h2m15 0h1M45 95h1m6 0h1m5 0h1m20 0h1m8 0h1M22 96h1m7 0h1m6 0h2m2 0h1m34 0h1m17 0h1M28 97h1m32 0h1M17 98h1m12 0h1m13 0h1m20 0h1m9 0h2M37 99h1m2 0h1m21 0h1m4 0h1M25 100h1m5 0h2m2 0h1m22 0h1m20 0h1M20 101h1m83 0h1M14 102h1m3 0h1m6 0h1m31 0h1M25 103h1m1 0h1m1 0h1M0 104h1m31 0h1m7 0h1m10 0h1m25 0h1M39 105h1m23 0h1M0 106h1m8 0h1m16 0h1m38 0h1M17 107h1m12 0h2m3 0h1m9 0h1m7 0h1M21 108h1M16 109h1m11 0h1m5 0h1m15 0h2m23 0h1m15 0h1M35 110h1m9 0h1m34 0h1M17 111h1m14 0h1m16 0h1m7 0h1m2 0h1m5 0h1M27 112h1m1 0h1m68 0h1M40 113h1m2 0h1m15 0h1m3 0h1M14 114h1m1 0h1m8 0h2m20 0h1m16 0h1m17 0h2M1 115h1m59 0h1m11 0h1m9 0h1m11 0h1M55 116h1m25 0h1M27 117h1m4 0h1m4 0h1m13 0h1M64 118h1m9 0h1m4 0h1m4 0h1m31 0h1M37 119h1m8 0h1m25 0h1m14 0h1m7 0h1m22 0h1M11 120h1m6 0h1m18 0h1m3 0h1m19 0h1m11 0h1m28 0h1M32 121h1m14 0h1m19 0h2m1 0h2m8 0h1m11 0h1M19 122h1m9 0h1m1 0h1m3 0h1m15 0h1m3 0h1m5 0h3m9 0h1m1 0h1m3 0h1M3 123h1m46 0h1m8 0h1m5 0h1m1 0h1m7 0h1m2 0h1M0 124h1m3 0h1m11 0h1m40 0h1M23 125h1m15 0h1m5 0h1m6 0h1m6 0h1m15 0h2m19 0h1M25 126h1m2 0h1m30 0h1m1 0h1m25 0h1m6 0h1M16 127h1m4 0h1m30 0h1m7 0h1m15 0h1M3 128h1m6 0h1m24 0h1m14 0h2m18 0h1m1 0h1M24 129h1m1 0h1m15 0h1m20 0h1m12 0h1m9 0h1M3 130h1m5 0h1m24 0h1m6 0h1m6 0h1m19 0h1m1 0h1m4 0h1m2 0h1M32 131h1m14 0h1m8 0h1m3 0h1m3 0h1m4 0h1m15 0h1m10 0h1M13 132h1m4 0h1m10 0h1m15 0h1m4 0h1m8 0h2m7 0h1m3 0h1M19 133h1m4 0h1m1 0h1m3 0h1m11 0h1m11 0h1m1 0h1m14 0h1m6 0h1m4 0h1m1 0h1M2 134h1m9 0h1m5 0h1m2 0h1m1 0h1m38 0h1m6 0h1m8 0h1M3 135h1m12 0h1m2 0h1m28 0h1m5 0h1M63 136h1m15 0h1m10 0h1M9 137h1m3 0h1m2 0h2m11 0h2m5 0h1m22 0h1M36 138h1m11 0h1m1 0h1m13 0h1m31 0h1M12 139h1m16 0h1m12 0h1m14 0h1m10 0h1m3 0h1m19 0h1M10 140h1m21 0h1m6 0h1m2 0h1m8 0h1m9 0h1m8 0h1m1 0h1m15 0h1m17 0h1M28 141h2m6 0h1m20 0h1m7 0h2m3 0h1m33 0h1M7 142h1m16 0h1m9 0h1m5 0h1m30 0h1m13 0h1m4 0h1M23 143h1m35 0h1m7 0h1M3 144h1m10 0h1m9 0h1m2 0h3m34 0h1M30 145h1m20 0h1M15 146h1m30 0h1m13 0h1m6 0h1m12 0h1M39 147h1M4 148h1m8 0h1m1 0h2m2 0h1m7 0h1m13 0h1m3 0h1m44 0h1m2 0h1M74 149h1M30 150h1m13 0h2m11 0h1m6 0h1m21 0h1M12 151h1m7 0h1m1 0h1m6 0h1m21 0h1M9 152h1m39 0h1m19 0h1m10 0h1M14 153h1m17 0h1m12 0h1m9 0h1m5 0h1m15 0h1M9 154h1m11 0h2m6 0h1m6 0h1m6 0h1m38 0h1m5 0h1M9 155h1m33 0h1m12 0h1M41 156h1m24 0h1M17 157h1m3 0h1m6 0h1m8 0h1m22 0h1M2 158h1m1 0h1m7 0h1m11 0h1m19 0h1M1 159h1m8 0h1m16 0h1m5 0h1m10 0h1m29 0h1M35 160h1m17 0h1M2 161h1m30 0h1m34 0h1M16 162h1m28 0h1m17 0h1M8 163h1m17 0h1m26 0h1M0 164h1M31 165h1M44 166h1M27 167h1m5 0h1M14 168h1m22 0h1M9 169h1m14 0h1m10 0h2m9 0h1M19 170h1m58 0h1M2 171h1m22 0h1m2 0h1m6 0h1m26 0h1m16 0h1M22 172h1m7 0h1m6 0h1m3 0h1m28 0h1M5 173h1m12 0h1m3 0h2m3 0h1m35 0h1M33 174h1m9 0h1m12 0h1m7 0h1M16 175h1m3 0h1m6 0h1m6 0h1m5 0h1m16 0h1m13 0h1m2 0h1M17 176h1m22 0h2m2 0h1m26 0h1M8 177h1m30 0h2m8 0h1m2 0h1m9 0h1M0 178h1m44 0h1m9 0h1m12 0h1m3 0h1M40 179h1m9 0h1m3 0h1m1 0h1m3 0h1M10 180h1m23 0h1m7 0h2m4 0h1m16 0h1m5 0h1M29 181h1m20 0h1m4 0h1m14 0h1M4 182h1m5 0h1m4 0h2m33 0h1M1 183h1m3 0h1m5 0h1m3 0h1m31 0h3m8 0h1m5 0h1M2 184h1m26 0h1m27 0h1m10 0h1M43 185h1m3 0h1m11 0h1m2 0h1M42 186h1m11 0h1m7 0h1m2 0h2m24 0h1M38 187h1m4 0h1m4 0h1m8 0h1M21 188h1m31 0h1m1 0h1m2 0h1m14 0h1M59 189h1m42 0h1M4 190h1m35 0h1m3 0h1m8 0h1M41 191h1m17 0h1M45 192h1M6 193h1m72 0h1M11 194h1M8 195h1m37 0h1m25 0h1M12 196h1m30 0h1m4 0h1M20 197h1m17 0h1m13 0h1m5 0h1M11 198h1m7 0h1m18 0h1m12 0h1M9 199h1m7 0h1m32 0h1m5 0h1M34 200h1m20 0h1M8 201h1m19 0h1m18 0h1M21 202h1m1 0h1m12 0h1m34 0h1M7 203h1m38 0h1m1 0h1m8 0h3M35 204h1m25 0h1"/><path stroke="#000" d="M77 11h1M74 25h1M77 26h1M32 27h1m36 0h1M58 30h1m14 0h1m3 0h1M96 31h1m8 0h1M75 35h1M100 36h1M97 37h1M42 39h1M1 40h1m104 0h1M72 41h1m8 0h1M85 42h1m18 0h1M87 43h1M53 44h1m25 0h1M79 45h1m1 0h1m3 0h1m20 0h1m1 0h1M64 47h1m17 0h1m3 0h1M52 48h1m32 0h1m4 0h1M73 49h1m7 0h1m3 0h1m5 0h1M54 50h1m29 0h2m26 0h1M82 51h1m19 0h1m40 0h1M81 52h2M72 53h1m4 0h1M90 54h1M80 55h1m15 0h1M92 56h1M58 57h1m26 0h1m16 0h1m11 0h1M92 59h1M75 60h1m11 0h1m24 0h1M65 61h1m5 0h1m20 0h1M75 62h1m5 0h2m4 0h1m7 0h1M90 63h1m18 0h1m2 0h1M0 64h1m72 0h1m14 0h1m26 0h1M1 65h1m81 0h2m16 0h1m2 0h1m8 0h1M66 66h1m5 0h2m4 0h1m3 0h1m6 0h1m10 0h1M0 67h1m37 0h1m14 0h1m9 0h1m21 0h1m1 0h1m7 0h1M0 68h1m20 0h1m37 0h1m4 0h1m3 0h1m1 0h1m3 0h1m8 0h1m4 0h2m2 0h3m2 0h1m14 0h1m1 0h1m2 0h1m4 0h2M1 69h1m65 0h2m2 0h1m8 0h2m2 0h1m14 0h1m7 0h1M58 70h1m4 0h3m1 0h1m3 0h2m3 0h1m2 0h2m1 0h1m8 0h1m5 0h1m3 0h1m2 0h2m1 0h1m21 0h1M47 71h1m5 0h1m9 0h1m1 0h1m5 0h2m5 0h1m4 0h3m1 0h1m10 0h1m9 0h1M1 72h1m39 0h1m3 0h1m1 0h1m8 0h1m9 0h2m1 0h2m3 0h1m2 0h1m10 0h1m6 0h1m9 0h1m3 0h2m1 0h1m2 0h1M20 73h1m12 0h1m18 0h1m10 0h1m5 0h1m4 0h3m2 0h1m1 0h2m4 0h1m3 0h4m1 0h1m4 0h1m3 0h1m2 0h1m5 0h1M56 74h1m1 0h1m2 0h1m1 0h3m4 0h2m1 0h2m1 0h1m2 0h1m1 0h1m1 0h2m3 0h1m3 0h1m1 0h2m2 0h1m1 0h1m6 0h1m9 0h1M1 75h1m37 0h1m10 0h1m1 0h1m5 0h1m2 0h2m2 0h1m2 0h2m1 0h2m5 0h1m2 0h4m1 0h1m1 0h1m4 0h1m4 0h3m2 0h2m4 0h1m13 0h1M19 76h1m9 0h1m9 0h1m11 0h1m5 0h1m3 0h3m3 0h2m1 0h1m7 0h2m2 0h3m2 0h2m1 0h1m4 0h1m3 0h1m3 0h1M0 77h1m31 0h1m2 0h1m1 0h1m4 0h1m1 0h1m5 0h1m5 0h2m3 0h1m1 0h1m1 0h4m1 0h1m1 0h2m5 0h3m3 0h4m1 0h1m2 0h1m2 0h3m9 0h1m5 0h1M37 78h1m5 0h1m1 0h1m2 0h1m2 0h1m2 0h2m1 0h3m1 0h1m3 0h6m1 0h1m4 0h2m1 0h3m2 0h5m2 0h1m3 0h3m2 0h2m1 0h1m8 0h1M0 79h2m39 0h1m3 0h1m1 0h1m8 0h2m1 0h2m3 0h1m3 0h4m4 0h1m1 0h2m2 0h2m1 0h5m2 0h1m1 0h1m2 0h1m6 0h1m2 0h1m2 0h1M0 80h1m28 0h1m10 0h1m1 0h1m1 0h1m1 0h3m2 0h1m2 0h1m5 0h3m1 0h1m1 0h2m1 0h1m1 0h2m1 0h2m1 0h1m2 0h2m2 0h1m1 0h2m4 0h1m3 0h1m6 0h1m1 0h1m5 0h1m3 0h1M20 81h1m9 0h1m13 0h1m1 0h1m3 0h1m8 0h5m4 0h3m1 0h10m1 0h2m3 0h1m1 0h1m2 0h4m4 0h1m4 0h1M1 82h1m15 0h1m10 0h1m3 0h1m3 0h1m5 0h2m2 0h2m7 0h1m1 0h1m1 0h1m2 0h1m2 0h1m3 0h2m2 0h7m2 0h1m5 0h3m2 0h1m6 0h2m4 0h2M0 83h1m25 0h1m10 0h3m2 0h1m1 0h2m3 0h1m1 0h11m1 0h1m3 0h1m1 0h2m1 0h2m1 0h1m5 0h3m3 0h1m2 0h1m1 0h1m5 0h1m1 0h1m2 0h1m1 0h1M1 84h1m30 0h1m7 0h3m3 0h2m1 0h1m1 0h1m3 0h2m2 0h8m1 0h1m1 0h3m1 0h1m1 0h3m6 0h1m1 0h6m4 0h1m3 0h3m2 0h1m1 0h1M23 85h1m1 0h1m14 0h1m2 0h1m1 0h2m3 0h4m2 0h2m1 0h7m1 0h1m2 0h1m1 0h9m1 0h1m7 0h1m1 0h1m1 0h1m1 0h2m3 0h1M1 86h1m15 0h1m13 0h1m3 0h1m2 0h2m4 0h2m3 0h1m2 0h1m3 0h1m1 0h2m1 0h1m1 0h3m2 0h1m1 0h5m1 0h1m3 0h2m1 0h2m1 0h1m1 0h1m1 0h1m1 0h2m6 0h1m10 0h1M0 87h2m13 0h1m10 0h1m9 0h1m3 0h1m1 0h2m3 0h1m1 0h1m1 0h2m1 0h2m1 0h8m1 0h2m1 0h1m2 0h2m2 0h3m1 0h5m1 0h1m2 0h1m3 0h1m4 0h2m6 0h1M0 88h2m2 0h1m15 0h1m9 0h1m1 0h1m1 0h1m1 0h1m2 0h1m1 0h1m2 0h1m1 0h5m1 0h2m1 0h6m2 0h1m1 0h1m1 0h4m1 0h1m3 0h1m1 0h1m1 0h1m2 0h1m3 0h1m2 0h2m3 0h2M0 89h1m17 0h2m11 0h1m1 0h3m1 0h1m1 0h1m1 0h1m1 0h3m2 0h2m2 0h2m3 0h1m1 0h4m2 0h1m1 0h2m1 0h1m2 0h3m2 0h4m1 0h3m2 0h1m2 0h2m1 0h1M12 90h1m17 0h4m1 0h1m1 0h1m7 0h2m2 0h2m3 0h7m1 0h1m3 0h3m1 0h1m1 0h6m3 0h1m4 0h3m9 0h2M16 91h1m3 0h2m4 0h1m1 0h1m1 0h2m5 0h1m2 0h2m1 0h1m1 0h1m1 0h1m2 0h1m2 0h1m1 0h6m1 0h2m1 0h1m3 0h1m3 0h2m2 0h2m4 0h1m1 0h2m1 0h1m1 0h1m5 0h1M0 92h1m14 0h1m4 0h2m1 0h1m5 0h1m1 0h2m3 0h1m2 0h1m1 0h1m2 0h1m2 0h5m5 0h4m2 0h3m1 0h2m1 0h2m1 0h1m1 0h6m1 0h1m10 0h1m2 0h1M14 93h1m1 0h2m1 0h1m2 0h3m1 0h2m3 0h2m1 0h1m1 0h2m1 0h1m3 0h1m1 0h2m1 0h3m2 0h2m1 0h1m1 0h1m3 0h3m1 0h4m2 0h1m1 0h2m1 0h1m1 0h3m1 0h1m2 0h1m14 0h1M0 94h2m11 0h1m4 0h1m10 0h1m1 0h2m1 0h1m3 0h3m1 0h2m1 0h1m2 0h1m2 0h2m1 0h1m1 0h3m1 0h5m3 0h1m4 0h6m2 0h1m1 0h2m4 0h1M13 95h1m2 0h1m5 0h1m2 0h1m4 0h2m1 0h8m1 0h2m3 0h1m2 0h2m1 0h1m1 0h1m1 0h1m1 0h2m4 0h1m1 0h4m1 0h2m3 0h1m5 0h1m2 0h1M1 96h1m14 0h2m1 0h2m3 0h1m1 0h4m1 0h1m3 0h2m7 0h2m3 0h3m3 0h5m1 0h2m1 0h2m3 0h1m2 0h1m1 0h2m2 0h1m1 0h2m5 0h2m3 0h1M0 97h1m6 0h1m9 0h1m5 0h1m1 0h1m1 0h1m1 0h1m1 0h1m1 0h2m2 0h1m3 0h4m1 0h1m2 0h1m3 0h1m2 0h2m1 0h1m2 0h1m2 0h2m4 0h1M0 98h2m2 0h1m9 0h1m1 0h1m3 0h2m1 0h4m1 0h1m2 0h3m1 0h1m3 0h1m1 0h3m3 0h1m2 0h1m2 0h1m14 0h1m4 0h1M0 99h2m12 0h1m2 0h1m1 0h1m1 0h1m6 0h6m1 0h2m1 0h1m3 0h3m1 0h2m1 0h1m1 0h3m2 0h2m2 0h2m2 0h3m4 0h3m1 0h2m9 0h1m3 0h1M0 100h1m23 0h1m3 0h1m1 0h1m3 0h1m3 0h3m2 0h2m1 0h1m1 0h1m3 0h1m12 0h1m4 0h3m7 0h1m3 0h1M0 101h2m11 0h1m3 0h1m4 0h1m4 0h2m1 0h1m1 0h1m4 0h5m1 0h3m2 0h2m4 0h1m3 0h1m6 0h1m3 0h1m1 0h1m11 0h2m1 0h1M0 102h1m14 0h1m3 0h1m1 0h1m1 0h1m5 0h1m1 0h3m1 0h4m3 0h1m2 0h3m1 0h2m1 0h1m2 0h1m4 0h1m5 0h2m11 0h1m8 0h1M0 103h1m15 0h1m3 0h1m1 0h1m1 0h1m3 0h1m3 0h2m2 0h2m2 0h4m1 0h2m4 0h1m2 0h1m5 0h1m3 0h1m3 0h1m1 0h4m10 0h1M3 104h1m5 0h1m3 0h1m3 0h3m3 0h2m4 0h2m4 0h1m2 0h2m1 0h1m4 0h2m2 0h1m2 0h1m2 0h4m9 0h1m15 0h1M0 105h1m12 0h1m3 0h1m4 0h1m1 0h1m4 0h3m1 0h3m4 0h5m1 0h2m1 0h1m2 0h1m2 0h1m11 0h2M1 106h1m11 0h1m1 0h1m4 0h2m1 0h1m4 0h1m1 0h1m1 0h2m3 0h1m2 0h1m9 0h2m1 0h3m23 0h1m6 0h1m33 0h1M0 107h1m8 0h1m1 0h2m7 0h1m5 0h1m1 0h2m8 0h1m1 0h1m1 0h3m1 0h1m2 0h1m2 0h1m1 0h2m7 0h1m2 0h1m8 0h1m3 0h1m10 0h1m9 0h1M0 108h2m18 0h1m8 0h2m1 0h4m1 0h3m2 0h4m5 0h1m3 0h1m23 0h1m4 0h1M0 109h2m12 0h1m5 0h3m3 0h2m2 0h2m3 0h1m1 0h1m2 0h1m2 0h1m1 0h1m1 0h1m11 0h1m1 0h1m7 0h1m2 0h1m4 0h1m1 0h2m24 0h1M0 110h2m6 0h1m5 0h1m2 0h1m1 0h1m7 0h5m9 0h1m1 0h1m2 0h2m3 0h1m10 0h1m1 0h1m2 0h1m7 0h1M0 111h1m6 0h1m3 0h1m9 0h2m5 0h2m3 0h1m5 0h1m2 0h1m2 0h1m2 0h1m1 0h1m1 0h1m2 0h1m5 0h1m8 0h2m6 0h2m6 0h1M0 112h2m12 0h1m1 0h2m4 0h1m2 0h2m3 0h2m1 0h1m3 0h1m4 0h2m5 0h1m1 0h1m6 0h3m10 0h2m3 0h1m6 0h1m6 0h1M1 113h1m13 0h1m4 0h1m4 0h1m4 0h1m2 0h2m7 0h1m1 0h1m7 0h1m1 0h1m3 0h1m7 0h2m2 0h1m1 0h5m2 0h1m17 0h1m2 0h1M0 114h3m4 0h1m2 0h1m1 0h1m2 0h1m1 0h1m2 0h1m1 0h1m8 0h1m1 0h2m5 0h2m1 0h2m7 0h1m20 0h2m4 0h1M0 115h1m6 0h1m4 0h1m14 0h1m4 0h1m5 0h2m5 0h1m1 0h2m3 0h1m2 0h1m2 0h1m5 0h2m1 0h5m2 0h3m3 0h2m8 0h2M0 116h2m6 0h1m9 0h1m4 0h1m1 0h1m1 0h1m5 0h1m2 0h1m4 0h2m1 0h1m3 0h1m1 0h2m4 0h1m2 0h1m2 0h1m5 0h3m1 0h2m2 0h1m1 0h1m10 0h1M0 117h2m22 0h1m1 0h1m1 0h2m1 0h1m4 0h1m3 0h1m1 0h1m4 0h1m9 0h1m1 0h1m2 0h1m1 0h1m4 0h1m17 0h2m16 0h1M0 118h2m7 0h1m2 0h1m1 0h1m2 0h1m1 0h1m2 0h1m6 0h1m3 0h2m1 0h2m2 0h1m3 0h1m1 0h2m1 0h4m6 0h2m5 0h1m2 0h4m2 0h1m15 0h1M0 119h2m6 0h1m4 0h1m2 0h1m2 0h2m2 0h1m4 0h3m1 0h2m1 0h1m3 0h2m2 0h1m10 0h1m6 0h1m2 0h1m2 0h1m2 0h1m3 0h1m48 0h1M0 120h2m11 0h1m13 0h1m1 0h1m2 0h1m2 0h1m2 0h1m3 0h1m2 0h1m1 0h2m6 0h2m10 0h1m1 0h2m1 0h1m1 0h1m2 0h2m21 0h1M0 121h2m2 0h1m9 0h1m1 0h1m3 0h1m1 0h1m1 0h2m2 0h1m4 0h1m1 0h2m1 0h2m5 0h1m3 0h3m1 0h1m2 0h1m4 0h3m5 0h1m3 0h1m2 0h1m4 0h1m4 0h1m1 0h1M0 122h1m4 0h1m6 0h1m3 0h2m2 0h1m9 0h1m3 0h1m2 0h1m6 0h1m2 0h1m2 0h1m2 0h1m2 0h2m8 0h2m2 0h1m3 0h1m20 0h1m5 0h1M0 123h2m7 0h1m2 0h1m1 0h1m2 0h1m3 0h1m2 0h1m1 0h1m5 0h1m4 0h1m2 0h1m3 0h1m1 0h4m2 0h1m1 0h1m1 0h2m2 0h1m1 0h1m3 0h1m1 0h5m8 0h1m3 0h1M1 124h1m9 0h1m3 0h1m6 0h1m7 0h1m2 0h1m1 0h1m3 0h1m3 0h1m1 0h1m2 0h1m2 0h3m2 0h1m2 0h2m1 0h1m2 0h2m2 0h6m2 0h1M0 125h2m3 0h1m11 0h1m11 0h2m1 0h1m1 0h1m1 0h1m4 0h2m1 0h1m1 0h1m3 0h1m3 0h2m1 0h2m1 0h3m2 0h3m2 0h1m1 0h1m4 0h1m14 0h2m1 0h1m3 0h1M0 126h2m8 0h1m4 0h1m5 0h1m1 0h1m9 0h1m2 0h1m6 0h2m2 0h1m1 0h1m1 0h3m1 0h1m1 0h1m4 0h2m1 0h8m1 0h1m1 0h1m5 0h1m3 0h1M0 127h1m2 0h1m4 0h1m1 0h1m1 0h1m2 0h1m9 0h1m1 0h5m3 0h2m2 0h1m4 0h1m2 0h3m3 0h5m3 0h4m1 0h2m1 0h4m5 0h1m1 0h1m3 0h1M0 128h2m11 0h1m2 0h2m3 0h2m4 0h1m3 0h1m5 0h1m2 0h2m4 0h1m1 0h2m2 0h1m2 0h1m1 0h1m2 0h1m1 0h8m3 0h2M0 129h2m2 0h1m3 0h1m1 0h1m1 0h2m7 0h1m9 0h1m2 0h1m3 0h3m2 0h1m4 0h1m1 0h1m5 0h2m1 0h1m2 0h1m1 0h1m3 0h1m3 0h4m1 0h1m1 0h4M0 130h1m5 0h1m5 0h2m2 0h1m3 0h2m2 0h1m3 0h1m6 0h1m6 0h4m3 0h1m1 0h2m5 0h6m1 0h3m1 0h1m1 0h4m1 0h1m5 0h1m2 0h1m10 0h1M0 131h2m1 0h1m5 0h1m1 0h1m1 0h2m3 0h1m3 0h3m3 0h1m8 0h1m1 0h3m2 0h1m1 0h1m1 0h3m1 0h1m1 0h2m1 0h2m2 0h1m1 0h1m1 0h1m2 0h1m1 0h1m2 0h1m2 0h1m12 0h2m12 0h2m5 0h1M1 132h1m14 0h1m2 0h4m5 0h1m1 0h1m2 0h2m7 0h3m4 0h1m1 0h1m2 0h2m2 0h1m3 0h1m1 0h1m1 0h1m7 0h1m3 0h1m29 0h1m11 0h1M0 133h1m13 0h1m5 0h1m4 0h1m1 0h1m8 0h1m2 0h2m2 0h2m5 0h4m1 0h1m2 0h13m13 0h1m21 0h1m5 0h1M0 134h2m3 0h1m7 0h1m1 0h1m3 0h2m4 0h1m2 0h4m4 0h4m2 0h2m4 0h2m2 0h1m1 0h2m1 0h5m8 0h1m4 0h1m3 0h1m3 0h1m3 0h1m15 0h1M0 135h2m9 0h1m1 0h1m6 0h1m2 0h1m2 0h1m1 0h4m1 0h1m1 0h1m2 0h3m3 0h2m1 0h1m2 0h2m1 0h1m2 0h4m1 0h1m1 0h2m2 0h2m3 0h2m1 0h1m2 0h1m12 0h1m6 0h1M0 136h2m1 0h2m14 0h1m4 0h2m2 0h2m5 0h1m1 0h1m1 0h2m4 0h2m2 0h1m2 0h3m1 0h6m2 0h7m3 0h1m3 0h1m1 0h1m2 0h1m2 0h1M0 137h2m3 0h1m2 0h1m9 0h1m2 0h3m2 0h1m1 0h1m3 0h2m5 0h2m2 0h1m2 0h12m2 0h1m4 0h4m2 0h3m4 0h1m1 0h1m2 0h2m3 0h1m6 0h1M0 138h2m8 0h1m6 0h2m1 0h2m2 0h1m1 0h1m1 0h4m1 0h1m6 0h4m3 0h1m4 0h1m1 0h1m1 0h1m1 0h6m3 0h2m1 0h1m1 0h1m3 0h1m10 0h1m5 0h2m22 0h1M0 139h2m3 0h1m7 0h2m3 0h1m3 0h2m6 0h1m3 0h1m2 0h1m3 0h1m3 0h1m1 0h1m1 0h1m1 0h2m1 0h3m1 0h2m1 0h2m2 0h3m1 0h2m3 0h3m4 0h1m1 0h2m6 0h1M0 140h2m1 0h1m1 0h2m5 0h1m4 0h3m3 0h2m1 0h1m4 0h1m1 0h2m1 0h1m3 0h1m7 0h1m1 0h1m1 0h3m1 0h5m1 0h1m3 0h1m7 0h1m2 0h3m25 0h1M7 141h1m6 0h1m2 0h2m1 0h1m9 0h1m1 0h2m1 0h1m1 0h3m3 0h1m1 0h3m4 0h2m1 0h2m1 0h4m2 0h1m6 0h1m2 0h1m2 0h2m3 0h1M0 142h2m3 0h1m5 0h1m4 0h1m1 0h2m6 0h1m1 0h1m1 0h1m5 0h4m2 0h2m1 0h2m2 0h2m1 0h1m1 0h2m1 0h5m3 0h2m1 0h1m3 0h1m2 0h1m40 0h1M0 143h1m2 0h1m2 0h1m11 0h2m5 0h1m2 0h3m1 0h1m1 0h1m2 0h2m1 0h2m1 0h1m3 0h1m2 0h2m1 0h2m1 0h2m2 0h4m6 0h1m4 0h1m2 0h1m20 0h1M0 144h2m5 0h1m1 0h1m12 0h1m3 0h1m3 0h2m1 0h1m2 0h3m4 0h1m2 0h3m1 0h1m1 0h1m1 0h1m1 0h8m1 0h2m1 0h1m13 0h1m2 0h1m5 0h1M0 145h2m2 0h1m13 0h1m1 0h1m3 0h1m4 0h1m1 0h2m2 0h1m1 0h1m9 0h1m2 0h1m1 0h3m1 0h4m1 0h1m2 0h2m1 0h1m2 0h1m2 0h1m2 0h1m1 0h2m13 0h1m1 0h1M0 146h3m1 0h4m3 0h3m2 0h1m5 0h2m3 0h1m2 0h1m1 0h4m1 0h1m3 0h1m3 0h1m1 0h1m3 0h1m1 0h5m1 0h1m1 0h1m1 0h2m1 0h1m2 0h1m5 0h2m4 0h1m3 0h1M0 147h2m1 0h1m7 0h1m7 0h1m9 0h1m2 0h3m7 0h2m1 0h2m3 0h1m3 0h8m1 0h2m4 0h1m4 0h1m3 0h1M0 148h2m9 0h1m6 0h1m1 0h1m8 0h1m1 0h1m3 0h2m2 0h1m2 0h3m1 0h1m2 0h2m1 0h3m2 0h2m1 0h1m1 0h3m3 0h1m7 0h1m1 0h1m4 0h1m4 0h2M0 149h2m2 0h1m22 0h2m2 0h1m4 0h2m2 0h2m4 0h1m2 0h1m3 0h1m2 0h1m2 0h1m2 0h3m6 0h1m7 0h1m5 0h1m7 0h1m10 0h2M0 150h2m7 0h3m4 0h1m4 0h1m4 0h1m7 0h1m1 0h2m1 0h1m7 0h1m1 0h1m3 0h4m4 0h2m9 0h2m4 0h1m1 0h1m27 0h1M0 151h2m8 0h1m10 0h1m1 0h1m12 0h1m1 0h1m1 0h1m2 0h1m1 0h2m1 0h1m4 0h1m1 0h1m5 0h2m1 0h1m6 0h1m3 0h1m13 0h1m2 0h1M0 152h1m4 0h1m2 0h1m4 0h1m2 0h1m4 0h1m1 0h2m3 0h1m2 0h1m1 0h3m2 0h8m5 0h1m2 0h1m2 0h1m1 0h2m2 0h2m11 0h1m2 0h1m5 0h1m41 0h1M0 153h2m6 0h1m19 0h2m6 0h1m4 0h1m1 0h2m2 0h2m1 0h3m4 0h2m6 0h1m2 0h1m15 0h1m4 0h1M0 154h1m13 0h1m2 0h1m2 0h1m5 0h1m4 0h2m2 0h1m2 0h1m2 0h1m2 0h2m3 0h1m3 0h2m1 0h2m2 0h1m3 0h1m2 0h1m2 0h1m2 0h2m8 0h1m7 0h1m10 0h1M0 155h1m3 0h1m8 0h1m6 0h3m1 0h1m2 0h1m11 0h1m6 0h1m2 0h1m2 0h1m2 0h1m3 0h1m1 0h2m2 0h1m1 0h2m17 0h1m3 0h1M0 156h2m16 0h1m5 0h2m2 0h3m1 0h4m3 0h2m2 0h1m3 0h2m2 0h1m4 0h1m8 0h1m1 0h1m1 0h1m11 0h1m10 0h1M0 157h2m2 0h2m13 0h1m22 0h2m1 0h2m2 0h3m5 0h1m3 0h1m6 0h1m5 0h1m15 0h1m4 0h1M1 158h1m1 0h1m6 0h2m9 0h1m9 0h1m1 0h1m1 0h1m11 0h2m5 0h1m6 0h1m9 0h1m9 0h1m5 0h1M0 159h1m23 0h1m1 0h1m5 0h1m2 0h1m7 0h1m2 0h1m7 0h1m2 0h2m2 0h1m13 0h1m25 0h1M0 160h2m9 0h1m4 0h1m1 0h1m1 0h2m4 0h1m3 0h1m2 0h1m3 0h2m3 0h1m1 0h1m2 0h1m3 0h1m2 0h3m4 0h1m1 0h1m2 0h1M0 161h1m2 0h1m7 0h2m1 0h2m2 0h1m1 0h1m7 0h1m9 0h1m1 0h1m1 0h1m1 0h2m2 0h1m4 0h1m9 0h1m6 0h1m12 0h1M0 162h2m3 0h1m4 0h1m16 0h1m3 0h1m6 0h2m6 0h1m1 0h3m1 0h2m1 0h1m9 0h1m6 0h3m11 0h1m6 0h1m12 0h1M0 163h2m15 0h1m3 0h1m6 0h1m1 0h1m4 0h2m1 0h1m7 0h2m2 0h2m2 0h1m4 0h1m45 0h1M1 164h1m6 0h1m6 0h4m2 0h1m6 0h1m2 0h1m1 0h2m4 0h1m1 0h1m3 0h1m2 0h1m1 0h1m5 0h1m1 0h1m3 0h1m2 0h1m9 0h1m2 0h1m2 0h1M0 165h1m8 0h1m8 0h1m3 0h2m1 0h2m1 0h2m3 0h1m2 0h2m22 0h1m37 0h1m3 0h1m10 0h1M0 166h1m3 0h1m3 0h1m3 0h1m1 0h1m2 0h1m2 0h1m4 0h2m1 0h1m7 0h2m1 0h1m1 0h1m4 0h2m1 0h1m1 0h2m2 0h3m8 0h1m9 0h1m7 0h1M0 167h2m11 0h3m5 0h1m1 0h1m1 0h1m8 0h1m1 0h1m1 0h2m4 0h2m5 0h1m9 0h1m12 0h1m5 0h1M0 168h2m10 0h1m3 0h3m1 0h2m3 0h3m1 0h2m7 0h1m1 0h1m1 0h3m1 0h2m3 0h1m3 0h1m1 0h1m7 0h1m5 0h1m2 0h1m13 0h1M0 169h2m10 0h1m1 0h3m1 0h1m3 0h1m5 0h1m1 0h1m7 0h3m1 0h4m4 0h1m1 0h2m1 0h1m7 0h1m10 0h1m2 0h1M0 170h1m6 0h1m2 0h4m1 0h2m1 0h1m1 0h7m1 0h1m3 0h1m3 0h3m1 0h1m1 0h1m1 0h1m1 0h3m1 0h4m3 0h1m4 0h2m8 0h1M0 171h1m5 0h3m1 0h1m1 0h1m1 0h1m2 0h2m2 0h4m1 0h2m1 0h5m5 0h2m3 0h2m1 0h1m1 0h2m3 0h1m2 0h1m11 0h1M0 172h1m5 0h1m2 0h1m2 0h2m2 0h2m1 0h2m2 0h7m3 0h3m4 0h1m1 0h1m1 0h4m2 0h1m2 0h2m6 0h1m14 0h1M0 173h1m3 0h1m2 0h1m1 0h2m2 0h1m1 0h1m1 0h1m1 0h1m1 0h1m2 0h1m3 0h4m1 0h1m1 0h2m1 0h1m2 0h2m1 0h1m2 0h5m2 0h2m5 0h1m5 0h1m12 0h1m7 0h1m16 0h1M0 174h2m1 0h2m3 0h2m1 0h1m1 0h1m1 0h1m1 0h1m2 0h3m1 0h1m4 0h3m2 0h4m2 0h2m8 0h1m1 0h2m4 0h1m6 0h1m2 0h1m5 0h1m7 0h1m1 0h1M0 175h1m3 0h2m1 0h1m1 0h2m2 0h3m1 0h3m2 0h2m1 0h2m1 0h1m1 0h4m1 0h3m1 0h1m2 0h2m2 0h1m2 0h4m2 0h2m2 0h2m1 0h1m5 0h1m4 0h1m9 0h1M0 176h1m4 0h1m3 0h2m1 0h2m5 0h6m1 0h6m1 0h2m1 0h4m6 0h1m5 0h1m1 0h2m1 0h1m1 0h3m5 0h1m9 0h1M0 177h2m1 0h4m3 0h4m1 0h21m1 0h2m4 0h1m1 0h2m3 0h1m3 0h1m1 0h1m9 0h1m8 0h1M1 178h1m4 0h2m1 0h5m1 0h12m1 0h12m1 0h1m1 0h2m3 0h1m2 0h2m14 0h1M0 179h7m1 0h5m1 0h26m1 0h3m1 0h1m1 0h3m2 0h2m3 0h2m10 0h1m5 0h1m14 0h1M0 180h6m1 0h1m1 0h1m1 0h11m1 0h11m1 0h6m5 0h2m1 0h1m3 0h3m1 0h2m2 0h1m5 0h1m22 0h2M0 181h3m1 0h3m1 0h1m1 0h4m1 0h14m1 0h8m2 0h2m1 0h7m4 0h1m3 0h3m8 0h1m4 0h1m1 0h1m4 0h1M0 182h4m2 0h4m1 0h2m1 0h1m2 0h15m1 0h14m1 0h2m1 0h2m2 0h2m2 0h4m2 0h1m3 0h2m8 0h1M0 183h1m5 0h5m1 0h3m1 0h27m1 0h2m4 0h3m3 0h1m2 0h1m2 0h2m10 0h1m6 0h1M0 184h2m1 0h4m2 0h20m1 0h17m2 0h3m1 0h2m1 0h1m5 0h1m1 0h1M0 185h2m1 0h20m1 0h2m1 0h16m1 0h1m3 0h2m2 0h2m11 0h1M0 186h8m1 0h30m1 0h1m2 0h3m1 0h1m3 0h3m1 0h1m1 0h3m1 0h1m1 0h2m9 0h1M0 187h3m2 0h33m1 0h4m1 0h4m1 0h1m1 0h2m5 0h2m7 0h1m4 0h1m2 0h1m15 0h1M0 188h21m1 0h19m2 0h7m2 0h1m1 0h1m2 0h1m4 0h1m5 0h2m2 0h1M0 189h12m1 0h36m1 0h3m1 0h2m1 0h1m2 0h2m1 0h1m6 0h1m6 0h1m18 0h1M0 190h4m1 0h35m1 0h2m2 0h5m1 0h2m3 0h1m1 0h1m2 0h1m12 0h1m2 0h1m2 0h1m3 0h1M0 191h41m1 0h5m2 0h1m1 0h1m1 0h1m2 0h1m1 0h1m3 0h1m2 0h1m11 0h1m15 0h1M0 192h45m2 0h4m1 0h1m1 0h2m1 0h1m1 0h2m6 0h1m3 0h1m2 0h1M0 193h6m1 0h43m2 0h3m1 0h1m2 0h2m1 0h1m4 0h2m12 0h1m1 0h1M0 194h3m1 0h5m1 0h1m1 0h35m1 0h4m2 0h2m5 0h2m1 0h1M0 195h4m1 0h3m1 0h37m1 0h2m1 0h1m5 0h2m2 0h2m1 0h1m11 0h1m4 0h2M0 196h2m2 0h2m2 0h4m1 0h30m6 0h1m1 0h2m3 0h5m5 0h1m7 0h2M0 197h1m1 0h3m1 0h1m1 0h1m1 0h10m1 0h5m1 0h8m2 0h1m1 0h4m2 0h5m1 0h1m19 0h1m5 0h1M0 198h8m1 0h2m1 0h7m1 0h18m1 0h2m1 0h1m1 0h2m3 0h2m4 0h1m1 0h1m1 0h1m1 0h2m1 0h1m5 0h1M0 199h2m1 0h4m1 0h1m1 0h4m1 0h2m1 0h24m2 0h4m1 0h1m5 0h1m1 0h1m10 0h1m3 0h1m15 0h1M0 200h1m1 0h2m2 0h4m1 0h5m1 0h17m1 0h7m1 0h1m1 0h6m2 0h1m11 0h1m1 0h1m5 0h1m2 0h1M0 201h3m2 0h3m1 0h1m1 0h17m1 0h6m1 0h2m1 0h3m1 0h4m8 0h1m2 0h1m14 0h1m4 0h1M0 202h2m2 0h4m1 0h8m1 0h3m1 0h1m2 0h7m1 0h3m1 0h2m2 0h1m1 0h1m3 0h1m2 0h1m10 0h1M0 203h7m1 0h38m1 0h1m2 0h6m7 0h1m1 0h2m1 0h2m1 0h1m3 0h1m2 0h1m6 0h1M0 204h1m1 0h2m2 0h1m1 0h7m1 0h18m2 0h12m2 0h2m2 0h2m6 0h1m6 0h1m1 0h1m4 0h1m3 0h1m19 0h1"/></g>
<rect x="1081.7" y="927.3" width="383.3" height="409.4" fill="none" stroke="#787878" stroke-width="1.8"/>
<path d="M1081.7 1336.7v6.5M1081.7 1336.7h-6.5M1110.5 1336.7v3M1081.7 1305.9h-3M1127.4 1336.7v3M1081.7 1287.9h-3M1139.4 1336.7v3M1081.7 1275.1h-3M1148.7 1336.7v3M1081.7 1265.2h-3M1156.3 1336.7v3M1081.7 1257.1h-3M1162.7 1336.7v3M1081.7 1250.2h-3M1168.2 1336.7v3M1081.7 1244.3h-3M1173.1 1336.7v3M1081.7 1239.0h-3M1177.5 1336.7v6.5M1081.7 1234.3h-6.5M1206.4 1336.7v3M1081.7 1203.5h-3M1223.2 1336.7v3M1081.7 1185.5h-3M1235.2 1336.7v3M1081.7 1172.7h-3M1244.5 1336.7v3M1081.7 1162.8h-3M1252.1 1336.7v3M1081.7 1154.7h-3M1258.5 1336.7v3M1081.7 1147.9h-3M1264.1 1336.7v3M1081.7 1141.9h-3M1269.0 1336.7v3M1081.7 1136.7h-3M1273.3 1336.7v6.5M1081.7 1132.0h-6.5M1302.2 1336.7v3M1081.7 1101.2h-3M1319.1 1336.7v3M1081.7 1083.2h-3M1331.0 1336.7v3M1081.7 1070.4h-3M1340.3 1336.7v3M1081.7 1060.5h-3M1347.9 1336.7v3M1081.7 1052.4h-3M1354.3 1336.7v3M1081.7 1045.5h-3M1359.9 1336.7v3M1081.7 1039.6h-3M1364.8 1336.7v3M1081.7 1034.3h-3M1369.2 1336.7v6.5M1081.7 1029.7h-6.5M1398.0 1336.7v3M1081.7 998.8h-3M1414.9 1336.7v3M1081.7 980.8h-3M1426.9 1336.7v3M1081.7 968.0h-3M1436.2 1336.7v3M1081.7 958.1h-3M1443.7 1336.7v3M1081.7 950.0h-3M1450.2 1336.7v3M1081.7 943.2h-3M1455.7 1336.7v3M1081.7 937.2h-3M1460.6 1336.7v3M1081.7 932.0h-3M1465.0 1336.7v6.5M1081.7 927.3h-6.5" stroke="#787878" stroke-width="1.6" fill="none"/>
<line x1="1166.7" y1="927.3" x2="1166.7" y2="1336.7" stroke="#e8262b" stroke-width="2.2"/>
<line x1="1081.7" y1="1262.3" x2="1465.0" y2="1262.3" stroke="#e8262b" stroke-width="2.2"/>
<text x="1058.9" y="1384.2" font-size="35.5">10<tspan font-size="24.5" dy="-10.4">0</tspan></text>
<text transform="translate(1056.8,1360.4) rotate(-90)" font-size="35.5">10<tspan font-size="24.5" dy="-10.6">0</tspan></text>
<text x="1154.7" y="1384.2" font-size="35.5">10<tspan font-size="24.5" dy="-10.4">1</tspan></text>
<text transform="translate(1056.8,1258.0) rotate(-90)" font-size="35.5">10<tspan font-size="24.5" dy="-10.6">1</tspan></text>
<text x="1250.5" y="1384.2" font-size="35.5">10<tspan font-size="24.5" dy="-10.4">2</tspan></text>
<text transform="translate(1056.8,1155.7) rotate(-90)" font-size="35.5">10<tspan font-size="24.5" dy="-10.6">2</tspan></text>
<text x="1346.4" y="1384.2" font-size="35.5">10<tspan font-size="24.5" dy="-10.4">3</tspan></text>
<text transform="translate(1056.8,1053.4) rotate(-90)" font-size="35.5">10<tspan font-size="24.5" dy="-10.6">3</tspan></text>
<text x="1442.2" y="1384.2" font-size="35.5">10<tspan font-size="24.5" dy="-10.4">4</tspan></text>
<text transform="translate(1056.8,951.0) rotate(-90)" font-size="35.5">10<tspan font-size="24.5" dy="-10.6">4</tspan></text>
<text x="1051.2" y="866.7" font-size="35.5" fill="#000">(scMDR1+scBCL2)@PLGA</text>
<text x="1224.7" y="909.3" font-size="35.5" fill="#000">+ PTX</text>
<text x="1092.0" y="971.7" font-size="38.8" fill="#000">10.6%</text>
<text x="1338.0" y="973.3" font-size="38.8" fill="#000">22.8%</text>
<text x="1237.6" y="1319.0" font-size="38.8" fill="#000">56.8%</text>
<text x="1366.5" y="1319.0" font-size="38.8" fill="#000">9.8%</text>
<path d="M68.8 867V1406.7H606" fill="none" stroke="#000" stroke-width="3.8"/>
<path d="M57 867.5H80.8L68.9 843.8Z" fill="#000"/>
<path d="M606 1394.5V1418.9L633 1406.7Z" fill="#000"/>
<text transform="translate(36.7,1342.9) rotate(-90)" font-size="39.8">Propidium Iodide</text>
<text x="108.7" y="1464.7" font-size="43.3" fill="#000">Annexin V</text>
<rect x="146" y="1549.3" width="366.7" height="366.4" fill="none" stroke="#000" stroke-width="2.6"/>
<line x1="328.7" y1="1549.3" x2="328.7" y2="1915.7" stroke="#f00" stroke-width="3.6"/>
<line x1="146" y1="1732.7" x2="512.7" y2="1732.7" stroke="#f00" stroke-width="3.6"/>
<text transform="translate(123.3,1891.8) rotate(-90)" font-size="46.5">Propidium Iodide</text>
<text x="168.2" y="1971.7" font-size="45.8" fill="#000">Annexin V</text>
<text x="162.2" y="1654.0" font-size="41.6" fill="#000">necrotic</text>
<text x="387.4" y="1631.7" font-size="40.5" fill="#000">fully</text>
<text x="340.0" y="1680.0" font-size="40.9" fill="#000">apoptotic</text>
<text x="378.3" y="1816.7" font-size="40.5" fill="#000">early</text>
<text x="340.0" y="1865.0" font-size="40.9" fill="#000">apoptotic</text>
<path d="M793.6 1519.6V1818.5H1399" fill="none" stroke="#000" stroke-width="2.6"/>
<path d="M782.1 1818.5H793.6M782.1 1775.9H793.6M782.1 1733.2H793.6M782.1 1690.6H793.6M782.1 1648.0H793.6M782.1 1605.3H793.6M782.1 1562.7H793.6M782.1 1520.1H793.6M793.6 1818.5v10M894.4 1818.5v10M995.1 1818.5v10M1095.8 1818.5v10M1196.6 1818.5v10M1297.3 1818.5v10M1398.1 1818.5v10" stroke="#000" stroke-width="2.4" fill="none"/>
<text x="736.8" y="1829.1" font-size="35.5">0</text>
<text x="717.1" y="1786.5" font-size="35.5">10</text>
<text x="717.1" y="1743.8" font-size="35.5">20</text>
<text x="717.1" y="1701.2" font-size="35.5">30</text>
<text x="717.1" y="1658.6" font-size="35.5">40</text>
<text x="717.1" y="1615.9" font-size="35.5">50</text>
<text x="717.1" y="1573.3" font-size="35.5">60</text>
<text x="717.1" y="1530.7" font-size="35.5">70</text>
<text x="993.0" y="1496.0" font-size="36.3" fill="#000">SKOV3-TR</text>
<rect x="815.0" y="1812.5" width="29" height="6.0" fill="#fff" stroke="#000" stroke-width="2.4"/>
<rect x="844.0" y="1814.7" width="29" height="3.8" fill="#808080" stroke="#000" stroke-width="2.4"/>
<path d="M829.5 1808.3V1816.8M823.5 1808.3h12M823.5 1816.8h12" stroke="#000" stroke-width="2.2" fill="none"/>
<path d="M858.5 1812.5V1816.8M852.5 1812.5h12M852.5 1816.8h12" stroke="#000" stroke-width="2.2" fill="none"/>
<rect x="915.7" y="1688.5" width="29" height="130.0" fill="#fff" stroke="#000" stroke-width="2.4"/>
<rect x="944.7" y="1787.8" width="29" height="30.7" fill="#808080" stroke="#000" stroke-width="2.4"/>
<path d="M930.2 1675.7V1701.3M924.2 1675.7h12M924.2 1701.3h12" stroke="#000" stroke-width="2.2" fill="none"/>
<path d="M959.2 1782.7V1792.9M953.2 1782.7h12M953.2 1792.9h12" stroke="#000" stroke-width="2.2" fill="none"/>
<rect x="1016.5" y="1561.0" width="29" height="257.5" fill="#fff" stroke="#000" stroke-width="2.4"/>
<rect x="1045.5" y="1726.8" width="29" height="91.7" fill="#808080" stroke="#000" stroke-width="2.4"/>
<path d="M1031.0 1552.1V1570.0M1025.0 1552.1h12M1025.0 1570.0h12" stroke="#000" stroke-width="2.2" fill="none"/>
<path d="M1060.0 1725.1V1728.6M1054.0 1725.1h12M1054.0 1728.6h12" stroke="#000" stroke-width="2.2" fill="none"/>
<rect x="1117.2" y="1623.3" width="29" height="195.2" fill="#fff" stroke="#000" stroke-width="2.4"/>
<rect x="1146.2" y="1746.0" width="29" height="72.5" fill="#808080" stroke="#000" stroke-width="2.4"/>
<path d="M1131.7 1618.6V1627.9M1125.7 1618.6h12M1125.7 1627.9h12" stroke="#000" stroke-width="2.2" fill="none"/>
<path d="M1160.7 1744.3V1747.7M1154.7 1744.3h12M1154.7 1747.7h12" stroke="#000" stroke-width="2.2" fill="none"/>
<rect x="1218.0" y="1669.3" width="29" height="149.2" fill="#fff" stroke="#000" stroke-width="2.4"/>
<rect x="1247.0" y="1773.3" width="29" height="45.2" fill="#808080" stroke="#000" stroke-width="2.4"/>
<path d="M1232.5 1664.2V1674.4M1226.5 1664.2h12M1226.5 1674.4h12" stroke="#000" stroke-width="2.2" fill="none"/>
<path d="M1261.5 1768.2V1778.4M1255.5 1768.2h12M1255.5 1778.4h12" stroke="#000" stroke-width="2.2" fill="none"/>
<rect x="1318.7" y="1679.1" width="29" height="139.4" fill="#fff" stroke="#000" stroke-width="2.4"/>
<rect x="1347.7" y="1773.3" width="29" height="45.2" fill="#808080" stroke="#000" stroke-width="2.4"/>
<path d="M1333.2 1674.8V1683.4M1327.2 1674.8h12M1327.2 1683.4h12" stroke="#000" stroke-width="2.2" fill="none"/>
<path d="M1362.2 1771.6V1775.0M1356.2 1771.6h12M1356.2 1775.0h12" stroke="#000" stroke-width="2.2" fill="none"/>
<rect x="1203.6" y="1522.8" width="21.6" height="23.6" fill="#fff" stroke="#000" stroke-width="2.2"/>
<rect x="1203.6" y="1570.4" width="21.6" height="23" fill="#808080" stroke="#000" stroke-width="2.2"/>
<text x="1234.9" y="1545.8" font-size="36" fill="#000">apoptosis</text>
<text x="1234.0" y="1592.0" font-size="36.3" fill="#000">necrosis</text>
<text transform="translate(651.0,1893.9) rotate(-90)" font-size="35.9">Percentage of apoptosis</text>
<text transform="translate(695.2,1835.3) rotate(-90)" font-size="36.1">and necrosis (%)</text>
<text transform="translate(852.0,1866) rotate(-45)" font-size="30" text-anchor="end">mock</text>
<text transform="translate(952.7,1866) rotate(-45)" font-size="30" text-anchor="end">only PTX</text>
<text transform="translate(1053.5,1866) rotate(-45)" font-size="30" text-anchor="end">siRNA@PLGA+PTX</text>
<text transform="translate(1154.2,1866) rotate(-45)" font-size="30" text-anchor="end">siMDR1@PLGA+PTX</text>
<text transform="translate(1255.0,1866) rotate(-45)" font-size="30" text-anchor="end">siBCL2@PLGA+PTX</text>
<text transform="translate(1355.7,1866) rotate(-45)" font-size="30" text-anchor="end">scRNA@PLGA+PTX</text>
</svg>
</body></html>
